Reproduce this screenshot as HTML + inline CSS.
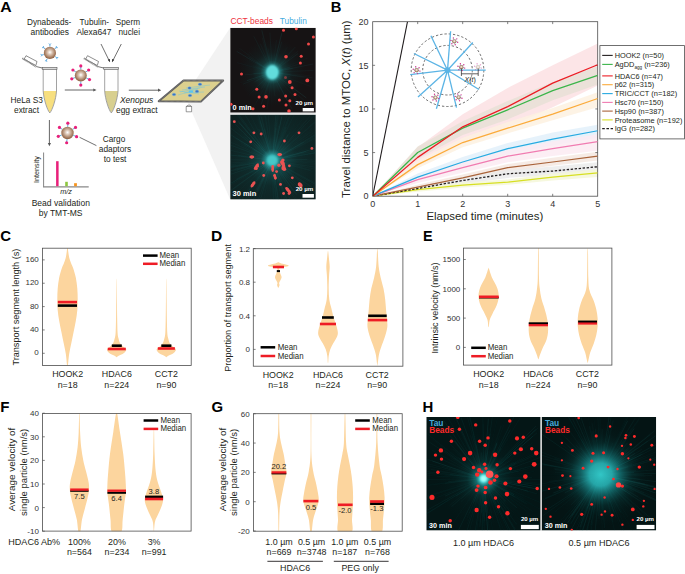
<!DOCTYPE html>
<html><head><meta charset="utf-8"><style>
html,body{margin:0;padding:0;background:#fff;}
svg{display:block;font-family:"Liberation Sans", sans-serif;}
</style></head><body>
<svg width="685" height="574" viewBox="0 0 685 574" fill="#231f20">
<defs>
<radialGradient id="bead" cx="0.5" cy="0.45" r="0.55"><stop offset="0" stop-color="#ffffff"/><stop offset="0.35" stop-color="#d9c2b0"/><stop offset="1" stop-color="#8a5a3a"/></radialGradient>
<radialGradient id="glowA1" cx="0.5" cy="0.5" r="0.5"><stop offset="0" stop-color="#66eeea"/><stop offset="0.12" stop-color="#4fdcdc"/><stop offset="0.2" stop-color="#2a9fa1" stop-opacity="0.75"/><stop offset="0.35" stop-color="#15605f" stop-opacity="0.45"/><stop offset="0.6" stop-color="#103a3a" stop-opacity="0.22"/><stop offset="1" stop-color="#0c2d2d" stop-opacity="0"/></radialGradient>
<radialGradient id="glowA2" cx="0.5" cy="0.5" r="0.5"><stop offset="0" stop-color="#4ad8d8"/><stop offset="0.08" stop-color="#35b8ba" stop-opacity="0.85"/><stop offset="0.18" stop-color="#1a6a6c" stop-opacity="0.5"/><stop offset="0.4" stop-color="#134646" stop-opacity="0.3"/><stop offset="1" stop-color="#0f3434" stop-opacity="0"/></radialGradient>
<radialGradient id="glowH1" cx="0.5" cy="0.5" r="0.5"><stop offset="0" stop-color="#a0fff8"/><stop offset="0.07" stop-color="#50e0e0" stop-opacity="0.95"/><stop offset="0.16" stop-color="#1d8e8e" stop-opacity="0.7"/><stop offset="0.35" stop-color="#0d4545" stop-opacity="0.4"/><stop offset="0.6" stop-color="#082a2a" stop-opacity="0.2"/><stop offset="1" stop-color="#062222" stop-opacity="0"/></radialGradient>
<radialGradient id="glowH2" cx="0.5" cy="0.5" r="0.5"><stop offset="0" stop-color="#32c6c6"/><stop offset="0.22" stop-color="#28b0b2" stop-opacity="0.92"/><stop offset="0.4" stop-color="#167c7e" stop-opacity="0.65"/><stop offset="0.6" stop-color="#0b4848" stop-opacity="0.35"/><stop offset="0.8" stop-color="#072a2a" stop-opacity="0.15"/><stop offset="1" stop-color="#062222" stop-opacity="0"/></radialGradient>
<filter id="soft" x="-50%" y="-50%" width="200%" height="200%"><feGaussianBlur stdDeviation="0.35"/></filter>
<filter id="soft2" x="-50%" y="-50%" width="200%" height="200%"><feGaussianBlur stdDeviation="1.1"/></filter>
<clipPath id="clipA1"><rect x="230.2" y="27.8" width="85.6" height="85"/></clipPath>
<clipPath id="clipA2"><rect x="230.2" y="114.4" width="85.6" height="85.2"/></clipPath>
<clipPath id="clipH1"><rect x="426.3" y="417" width="114.4" height="113.6"/></clipPath>
<clipPath id="clipH2"><rect x="542" y="417" width="114.2" height="113.6"/></clipPath>
<clipPath id="clipC"><rect x="42.4" y="248.2" width="148.8" height="117.3"/></clipPath>
<clipPath id="clipD"><rect x="253.3" y="248.7" width="149.6" height="117.5"/></clipPath>
<clipPath id="clipE"><rect x="463.5" y="248.1" width="148.4" height="117"/></clipPath>
<clipPath id="clipF"><rect x="42.5" y="413.6" width="148.6" height="117.6"/></clipPath>
<clipPath id="clipG"><rect x="253.4" y="413.7" width="148.8" height="117.5"/></clipPath>
<clipPath id="clipB"><rect x="372.7" y="21.7" width="225" height="174.5"/></clipPath>
</defs>
<text x="0.20" y="11.60" font-size="13.8" font-weight="bold" fill="#000" textLength="11.4" lengthAdjust="spacingAndGlyphs">A</text>
<text x="27.00" y="25.10" font-size="8.3" textLength="44.3" lengthAdjust="spacingAndGlyphs">Dynabeads-</text>
<text x="30.50" y="35.00" font-size="8.3" textLength="38.5" lengthAdjust="spacingAndGlyphs">antibodies</text>
<text x="79.60" y="25.00" font-size="8.3" textLength="29.5" lengthAdjust="spacingAndGlyphs">Tubulin-</text>
<text x="76.40" y="34.90" font-size="8.3" textLength="35.1" lengthAdjust="spacingAndGlyphs">Alexa647</text>
<text x="115.80" y="25.00" font-size="8.3" textLength="24.2" lengthAdjust="spacingAndGlyphs">Sperm</text>
<text x="118.50" y="34.90" font-size="8.3" textLength="21.5" lengthAdjust="spacingAndGlyphs">nuclei</text>
<text x="10.50" y="103.00" font-size="8.3" textLength="32.4" lengthAdjust="spacingAndGlyphs">HeLa S3</text>
<text x="14.00" y="113.00" font-size="8.3" textLength="25" lengthAdjust="spacingAndGlyphs">extract</text>
<text x="120.00" y="103.00" font-size="8.3" font-style="italic" textLength="33.3" lengthAdjust="spacingAndGlyphs">Xenopus</text>
<text x="116.00" y="112.80" font-size="8.3" textLength="41.7" lengthAdjust="spacingAndGlyphs">egg extract</text>
<text x="102.80" y="141.80" font-size="8.3" textLength="22.5" lengthAdjust="spacingAndGlyphs">Cargo</text>
<text x="98.80" y="152.00" font-size="8.3" textLength="32.5" lengthAdjust="spacingAndGlyphs">adaptors</text>
<text x="103.70" y="162.20" font-size="8.3" textLength="22.7" lengthAdjust="spacingAndGlyphs">to test</text>
<text x="31.70" y="206.00" font-size="8.3" textLength="58.2" lengthAdjust="spacingAndGlyphs">Bead validation</text>
<text x="38.70" y="216.00" font-size="8.3" textLength="43.8" lengthAdjust="spacingAndGlyphs">by TMT-MS</text>
<text x="60.30" y="194.30" font-size="7.6" font-style="italic" textLength="11.7" lengthAdjust="spacingAndGlyphs">m/z</text>
<text x="39.30" y="183.00" font-size="7.6" transform="rotate(-90 39.30 183.00)" textLength="27.0" lengthAdjust="spacingAndGlyphs">Intensity</text>
<line x1="101.00" y1="44.00" x2="109.60" y2="61.50" stroke="#333" stroke-width="0.7"/>
<line x1="121.30" y1="44.00" x2="112.40" y2="61.50" stroke="#333" stroke-width="0.7"/>
<path d="M107.7,59.8 L109.9,62.3 L110.0,59.0Z" fill="#333"/>
<path d="M114.3,59.8 L112.1,62.3 L112.0,59.0Z" fill="#333"/>
<line x1="64.80" y1="90.00" x2="94.00" y2="90.00" stroke="#555" stroke-width="0.9"/>
<path d="M96.5,90.0 L93.3,88.4 L93.3,91.6Z" fill="#555"/>
<line x1="128.80" y1="90.20" x2="158.70" y2="90.20" stroke="#555" stroke-width="0.9"/>
<path d="M161.2,90.2 L158.0,88.6 L158.0,91.8Z" fill="#555"/>
<line x1="49.40" y1="120.00" x2="49.40" y2="143.50" stroke="#555" stroke-width="0.9"/>
<path d="M49.4,146.3 L47.8,143 L51,143Z" fill="#555"/>
<path d="M43.40,91 L56.30,91 C55.90,99 52.00,110 49.80,112.6 C47.60,110 43.80,99 43.40,91Z" fill="#f7df7f"/>
<path d="M43.20,69 L43.20,91 C43.60,99 47.40,110.5 49.80,112.9 C52.20,110.5 56.10,99 56.50,91 L56.50,69" fill="none" stroke="#8a8a8a" stroke-width="0.8"/>
<rect x="42.20" y="67.4" width="14.8" height="1.9" fill="#d9d9d9" stroke="#555" stroke-width="0.6"/>
<path d="M36.40,66.6 L42.30,68" stroke="#666" stroke-width="0.9" fill="none"/>
<path d="M26.00,55.7 L37.00,61.5 L35.80,65.5 L24.10,59.3Z" fill="#fff" stroke="#444" stroke-width="0.6"/>
<path d="M22.40,58.3 L36.40,66.8" stroke="#777" stroke-width="1.8" stroke-dasharray="0.8 0.5" fill="none"/>
<path d="M104.90,91 L117.80,91 C117.40,99 113.50,110 111.30,112.6 C109.10,110 105.30,99 104.90,91Z" fill="#d8cf8f"/>
<path d="M104.70,69 L104.70,91 C105.10,99 108.90,110.5 111.30,112.9 C113.70,110.5 117.60,99 118.00,91 L118.00,69" fill="none" stroke="#8a8a8a" stroke-width="0.8"/>
<rect x="103.70" y="67.4" width="14.8" height="1.9" fill="#d9d9d9" stroke="#555" stroke-width="0.6"/>
<path d="M97.90,66.6 L103.80,68" stroke="#666" stroke-width="0.9" fill="none"/>
<path d="M87.50,55.7 L98.50,61.5 L97.30,65.5 L85.60,59.3Z" fill="#fff" stroke="#444" stroke-width="0.6"/>
<path d="M83.90,58.3 L97.90,66.8" stroke="#777" stroke-width="1.8" stroke-dasharray="0.8 0.5" fill="none"/>
<line x1="49.90" y1="46.50" x2="49.90" y2="44.80" stroke="#4a9fdc" stroke-width="0.9"/>
<line x1="49.90" y1="44.80" x2="48.85" y2="43.46" stroke="#4a9fdc" stroke-width="0.8"/>
<line x1="49.90" y1="44.80" x2="50.95" y2="43.46" stroke="#4a9fdc" stroke-width="0.8"/>
<line x1="54.80" y1="48.79" x2="56.10" y2="47.69" stroke="#4a9fdc" stroke-width="0.9"/>
<line x1="56.10" y1="47.69" x2="56.46" y2="46.03" stroke="#4a9fdc" stroke-width="0.8"/>
<line x1="56.10" y1="47.69" x2="57.80" y2="47.63" stroke="#4a9fdc" stroke-width="0.8"/>
<line x1="55.14" y1="56.57" x2="56.54" y2="57.55" stroke="#4a9fdc" stroke-width="0.9"/>
<line x1="56.54" y1="57.55" x2="58.23" y2="57.46" stroke="#4a9fdc" stroke-width="0.8"/>
<line x1="56.54" y1="57.55" x2="57.03" y2="59.17" stroke="#4a9fdc" stroke-width="0.8"/>
<line x1="47.20" y1="58.70" x2="46.48" y2="60.24" stroke="#4a9fdc" stroke-width="0.9"/>
<line x1="46.48" y1="60.24" x2="46.86" y2="61.90" stroke="#4a9fdc" stroke-width="0.8"/>
<line x1="46.48" y1="60.24" x2="44.96" y2="61.01" stroke="#4a9fdc" stroke-width="0.8"/>
<line x1="43.72" y1="54.56" x2="42.08" y2="55.00" stroke="#4a9fdc" stroke-width="0.9"/>
<line x1="42.08" y1="55.00" x2="41.05" y2="56.35" stroke="#4a9fdc" stroke-width="0.8"/>
<line x1="42.08" y1="55.00" x2="40.51" y2="54.33" stroke="#4a9fdc" stroke-width="0.8"/>
<line x1="45.00" y1="48.79" x2="43.70" y2="47.69" stroke="#4a9fdc" stroke-width="0.9"/>
<line x1="43.70" y1="47.69" x2="42.00" y2="47.63" stroke="#4a9fdc" stroke-width="0.8"/>
<line x1="43.70" y1="47.69" x2="43.34" y2="46.03" stroke="#4a9fdc" stroke-width="0.8"/>
<circle cx="49.90" cy="52.90" r="6.1" fill="url(#bead)"/>
<line x1="80.80" y1="69.50" x2="80.80" y2="65.90" stroke="#4aa3dc" stroke-width="0.9"/>
<circle cx="80.80" cy="65.90" r="1.6" fill="#e8207a"/>
<line x1="85.71" y1="72.06" x2="88.66" y2="69.99" stroke="#4aa3dc" stroke-width="0.9"/>
<circle cx="88.66" cy="69.99" r="1.6" fill="#e8207a"/>
<line x1="86.24" y1="78.04" x2="89.50" y2="79.56" stroke="#4aa3dc" stroke-width="0.9"/>
<circle cx="89.50" cy="79.56" r="1.6" fill="#e8207a"/>
<line x1="80.80" y1="81.50" x2="80.80" y2="85.10" stroke="#4aa3dc" stroke-width="0.9"/>
<circle cx="80.80" cy="85.10" r="1.6" fill="#e8207a"/>
<line x1="75.16" y1="77.55" x2="71.78" y2="78.78" stroke="#4aa3dc" stroke-width="0.9"/>
<circle cx="71.78" cy="78.78" r="1.6" fill="#e8207a"/>
<line x1="75.89" y1="72.06" x2="72.94" y2="69.99" stroke="#4aa3dc" stroke-width="0.9"/>
<circle cx="72.94" cy="69.99" r="1.6" fill="#e8207a"/>
<circle cx="80.80" cy="75.50" r="6.0" fill="url(#bead)"/>
<line x1="67.72" y1="126.80" x2="67.84" y2="123.21" stroke="#4aa3dc" stroke-width="0.9"/>
<circle cx="67.84" cy="123.21" r="1.6" fill="#e8207a"/>
<line x1="72.58" y1="129.44" x2="75.53" y2="127.38" stroke="#4aa3dc" stroke-width="0.9"/>
<circle cx="75.53" cy="127.38" r="1.6" fill="#e8207a"/>
<line x1="73.25" y1="135.32" x2="76.59" y2="136.67" stroke="#4aa3dc" stroke-width="0.9"/>
<circle cx="76.59" cy="136.67" r="1.6" fill="#e8207a"/>
<line x1="66.96" y1="139.18" x2="66.65" y2="142.76" stroke="#4aa3dc" stroke-width="0.9"/>
<circle cx="66.65" cy="142.76" r="1.6" fill="#e8207a"/>
<line x1="61.67" y1="135.12" x2="58.29" y2="136.35" stroke="#4aa3dc" stroke-width="0.9"/>
<circle cx="58.29" cy="136.35" r="1.6" fill="#e8207a"/>
<line x1="62.42" y1="129.44" x2="59.47" y2="127.38" stroke="#4aa3dc" stroke-width="0.9"/>
<circle cx="59.47" cy="127.38" r="1.6" fill="#e8207a"/>
<circle cx="67.50" cy="133.00" r="6.2" fill="url(#bead)"/>
<line x1="79.60" y1="137.30" x2="96.40" y2="145.60" stroke="#333" stroke-width="0.7"/>
<line x1="43.60" y1="152.50" x2="43.60" y2="187.20" stroke="#666" stroke-width="0.8"/>
<line x1="43.20" y1="186.80" x2="88.70" y2="186.80" stroke="#888" stroke-width="1.3"/>
<rect x="56.1" y="161.2" width="2.5" height="25" fill="#e8207a"/>
<rect x="65.2" y="181.8" width="2.6" height="4.4" fill="#8dc63f"/>
<rect x="74.1" y="183.2" width="2.8" height="3.0" fill="#f7941d"/>
<path d="M196.3,79 L230.2,27.8 L230.2,199.6 L187.2,101.2Z" fill="#f2f2f2"/>
<path d="M183.5,80.5 L223.2,80.5 L200.9,101.6 L158.7,101.3Z" fill="#dcd08e" stroke="#5a5a5a" stroke-width="1.9" stroke-linejoin="round"/>
<path d="M183.5,80.5 L223.2,80.5 L200.9,101.6 L158.7,101.3Z" fill="none" stroke="#bbbbbb" stroke-width="0.5" stroke-dasharray="0.6 0.6" stroke-linejoin="round"/>
<line x1="180" y1="92" x2="200" y2="88" stroke="#5ec5ee" stroke-width="0.4"/>
<line x1="182" y1="90" x2="205" y2="87" stroke="#5ec5ee" stroke-width="0.4"/>
<line x1="184" y1="93" x2="204" y2="92" stroke="#5ec5ee" stroke-width="0.4"/>
<line x1="178" y1="95" x2="198" y2="89" stroke="#5ec5ee" stroke-width="0.4"/>
<line x1="186" y1="88" x2="210" y2="85" stroke="#5ec5ee" stroke-width="0.4"/>
<line x1="179" y1="91" x2="199" y2="94" stroke="#5ec5ee" stroke-width="0.4"/>
<ellipse cx="189.5" cy="88" rx="1.7" ry="1.3" fill="#3a74c4" stroke="#7ab6e6" stroke-width="0.4"/>
<ellipse cx="200" cy="84.3" rx="1.7" ry="1.3" fill="#3a74c4" stroke="#7ab6e6" stroke-width="0.4"/>
<ellipse cx="197" cy="91.4" rx="1.7" ry="1.3" fill="#3a74c4" stroke="#7ab6e6" stroke-width="0.4"/>
<ellipse cx="174" cy="94.5" rx="1.7" ry="1.3" fill="#3a74c4" stroke="#7ab6e6" stroke-width="0.4"/>
<ellipse cx="190" cy="95.5" rx="1.7" ry="1.3" fill="#3a74c4" stroke="#7ab6e6" stroke-width="0.4"/>
<ellipse cx="191" cy="91.5" rx="2.4" ry="1.2" fill="#5ec5ee"/>
<path d="M186.2,106.5 L186.2,111.8 L191.6,111.8 L191.6,106.5 Z M186.2,106.5 L188,105.2 L190,105.2 L191.6,106.5" fill="#fff" stroke="#555" stroke-width="0.6"/>
<text x="230.50" y="23.90" font-size="8.3" fill="#ee3340" textLength="42.4" lengthAdjust="spacingAndGlyphs">CCT-beads</text>
<text x="279.80" y="23.90" font-size="8.3" fill="#46ace0" textLength="27.0" lengthAdjust="spacingAndGlyphs">Tubulin</text>
<g clip-path="url(#clipA1)">
<rect x="230.2" y="27.8" width="85.6" height="85" fill="#161314"/>
<line x1="277.8" y1="78.5" x2="299.5" y2="102.9" stroke="#1f7273" stroke-opacity="0.12" stroke-width="0.60"/>
<line x1="264.2" y1="75.0" x2="238.5" y2="83.4" stroke="#1f7273" stroke-opacity="0.09" stroke-width="0.41"/>
<line x1="276.6" y1="65.1" x2="287.5" y2="46.8" stroke="#1f7273" stroke-opacity="0.08" stroke-width="0.58"/>
<line x1="270.6" y1="62.8" x2="268.0" y2="48.5" stroke="#1f7273" stroke-opacity="0.23" stroke-width="0.41"/>
<line x1="281.8" y1="73.8" x2="304.5" y2="77.5" stroke="#1f7273" stroke-opacity="0.14" stroke-width="0.49"/>
<line x1="268.3" y1="74.4" x2="255.7" y2="81.1" stroke="#1f7273" stroke-opacity="0.15" stroke-width="0.60"/>
<line x1="272.8" y1="76.8" x2="274.9" y2="96.4" stroke="#1f7273" stroke-opacity="0.16" stroke-width="0.52"/>
<line x1="279.1" y1="73.2" x2="312.5" y2="77.8" stroke="#1f7273" stroke-opacity="0.19" stroke-width="0.47"/>
<line x1="276.1" y1="72.1" x2="313.5" y2="70.4" stroke="#1f7273" stroke-opacity="0.13" stroke-width="0.69"/>
<line x1="270.9" y1="66.5" x2="261.8" y2="30.3" stroke="#1f7273" stroke-opacity="0.22" stroke-width="0.67"/>
<line x1="269.3" y1="81.0" x2="261.2" y2="104.3" stroke="#1f7273" stroke-opacity="0.22" stroke-width="0.60"/>
<line x1="268.3" y1="69.8" x2="256.3" y2="62.3" stroke="#1f7273" stroke-opacity="0.21" stroke-width="0.57"/>
<line x1="276.0" y1="79.3" x2="287.6" y2="101.4" stroke="#1f7273" stroke-opacity="0.19" stroke-width="0.55"/>
<line x1="264.5" y1="75.5" x2="242.9" y2="84.2" stroke="#1f7273" stroke-opacity="0.17" stroke-width="0.56"/>
<line x1="269.0" y1="72.5" x2="253.5" y2="73.5" stroke="#1f7273" stroke-opacity="0.20" stroke-width="0.79"/>
<line x1="268.8" y1="70.0" x2="248.4" y2="56.5" stroke="#1f7273" stroke-opacity="0.16" stroke-width="0.79"/>
<line x1="273.5" y1="63.4" x2="276.5" y2="40.0" stroke="#1f7273" stroke-opacity="0.12" stroke-width="0.61"/>
<line x1="278.2" y1="70.5" x2="304.4" y2="62.4" stroke="#1f7273" stroke-opacity="0.12" stroke-width="0.62"/>
<line x1="280.5" y1="70.0" x2="289.8" y2="67.5" stroke="#1f7273" stroke-opacity="0.22" stroke-width="0.75"/>
<line x1="271.9" y1="65.7" x2="269.9" y2="32.5" stroke="#1f7273" stroke-opacity="0.17" stroke-width="0.57"/>
<line x1="278.9" y1="74.7" x2="311.2" y2="86.6" stroke="#1f7273" stroke-opacity="0.11" stroke-width="0.60"/>
<line x1="266.9" y1="72.8" x2="244.8" y2="74.9" stroke="#1f7273" stroke-opacity="0.17" stroke-width="0.65"/>
<line x1="269.9" y1="70.2" x2="249.2" y2="52.6" stroke="#1f7273" stroke-opacity="0.12" stroke-width="0.47"/>
<line x1="264.9" y1="68.0" x2="236.7" y2="51.4" stroke="#1f7273" stroke-opacity="0.21" stroke-width="0.73"/>
<line x1="272.0" y1="80.0" x2="270.9" y2="113.0" stroke="#1f7273" stroke-opacity="0.09" stroke-width="0.41"/>
<line x1="277.0" y1="72.7" x2="310.5" y2="75.8" stroke="#1f7273" stroke-opacity="0.09" stroke-width="0.65"/>
<line x1="270.0" y1="75.7" x2="261.2" y2="88.8" stroke="#1f7273" stroke-opacity="0.17" stroke-width="0.47"/>
<line x1="271.4" y1="78.4" x2="267.0" y2="109.1" stroke="#1f7273" stroke-opacity="0.13" stroke-width="0.59"/>
<line x1="278.2" y1="73.2" x2="300.4" y2="76.5" stroke="#1f7273" stroke-opacity="0.11" stroke-width="0.44"/>
<line x1="275.9" y1="69.7" x2="298.0" y2="53.6" stroke="#1f7273" stroke-opacity="0.18" stroke-width="0.73"/>
<line x1="276.3" y1="72.8" x2="290.6" y2="74.7" stroke="#1f7273" stroke-opacity="0.20" stroke-width="0.46"/>
<line x1="270.4" y1="65.8" x2="262.1" y2="37.5" stroke="#1f7273" stroke-opacity="0.11" stroke-width="0.79"/>
<line x1="273.7" y1="67.9" x2="281.8" y2="41.8" stroke="#1f7273" stroke-opacity="0.19" stroke-width="0.56"/>
<line x1="265.7" y1="68.9" x2="248.6" y2="60.1" stroke="#1f7273" stroke-opacity="0.09" stroke-width="0.52"/>
<line x1="277.3" y1="71.3" x2="313.1" y2="64.0" stroke="#1f7273" stroke-opacity="0.23" stroke-width="0.52"/>
<line x1="277.8" y1="70.1" x2="307.6" y2="58.1" stroke="#1f7273" stroke-opacity="0.12" stroke-width="0.40"/>
<line x1="278.6" y1="66.3" x2="286.1" y2="59.2" stroke="#1f7273" stroke-opacity="0.24" stroke-width="0.63"/>
<line x1="276.9" y1="80.9" x2="291.9" y2="108.8" stroke="#1f7273" stroke-opacity="0.20" stroke-width="0.60"/>
<line x1="269.1" y1="75.4" x2="252.6" y2="91.3" stroke="#1f7273" stroke-opacity="0.19" stroke-width="0.57"/>
<line x1="274.9" y1="79.5" x2="279.5" y2="91.8" stroke="#1f7273" stroke-opacity="0.13" stroke-width="0.60"/>
<line x1="268.1" y1="80.6" x2="253.4" y2="109.3" stroke="#1f7273" stroke-opacity="0.08" stroke-width="0.48"/>
<line x1="268.3" y1="79.8" x2="251.3" y2="111.7" stroke="#1f7273" stroke-opacity="0.13" stroke-width="0.49"/>
<line x1="267.9" y1="63.8" x2="253.7" y2="36.2" stroke="#1f7273" stroke-opacity="0.14" stroke-width="0.75"/>
<line x1="268.5" y1="63.2" x2="260.3" y2="43.6" stroke="#1f7273" stroke-opacity="0.12" stroke-width="0.69"/>
<line x1="280.4" y1="77.1" x2="291.8" y2="83.8" stroke="#1f7273" stroke-opacity="0.11" stroke-width="0.70"/>
<line x1="267.8" y1="69.0" x2="239.4" y2="48.3" stroke="#1f7273" stroke-opacity="0.13" stroke-width="0.52"/>
<line x1="278.8" y1="65.1" x2="295.4" y2="46.9" stroke="#1f7273" stroke-opacity="0.23" stroke-width="0.45"/>
<line x1="269.2" y1="71.3" x2="252.6" y2="65.7" stroke="#1f7273" stroke-opacity="0.09" stroke-width="0.75"/>
<line x1="273.6" y1="67.1" x2="281.9" y2="33.1" stroke="#1f7273" stroke-opacity="0.18" stroke-width="0.71"/>
<line x1="269.0" y1="75.5" x2="248.2" y2="95.5" stroke="#1f7273" stroke-opacity="0.09" stroke-width="0.51"/>
<line x1="279.6" y1="66.3" x2="298.0" y2="51.2" stroke="#1f7273" stroke-opacity="0.16" stroke-width="0.51"/>
<line x1="273.0" y1="69.3" x2="281.6" y2="33.0" stroke="#1f7273" stroke-opacity="0.19" stroke-width="0.44"/>
<line x1="274.8" y1="74.5" x2="303.7" y2="100.0" stroke="#1f7273" stroke-opacity="0.12" stroke-width="0.80"/>
<line x1="268.6" y1="74.3" x2="253.7" y2="82.4" stroke="#1f7273" stroke-opacity="0.12" stroke-width="0.70"/>
<line x1="276.8" y1="75.7" x2="306.3" y2="97.9" stroke="#1f7273" stroke-opacity="0.24" stroke-width="0.76"/>
<line x1="270.6" y1="78.4" x2="265.5" y2="96.2" stroke="#1f7273" stroke-opacity="0.09" stroke-width="0.66"/>
<line x1="281.9" y1="74.7" x2="290.0" y2="76.8" stroke="#1f7273" stroke-opacity="0.13" stroke-width="0.64"/>
<line x1="269.0" y1="73.4" x2="247.1" y2="80.5" stroke="#1f7273" stroke-opacity="0.23" stroke-width="0.79"/>
<line x1="276.7" y1="71.4" x2="292.9" y2="68.3" stroke="#1f7273" stroke-opacity="0.18" stroke-width="0.79"/>
<line x1="264.9" y1="70.3" x2="237.0" y2="62.6" stroke="#1f7273" stroke-opacity="0.12" stroke-width="0.62"/>
<circle cx="272.3" cy="72.3" r="34" fill="url(#glowA1)"/>
<ellipse cx="272.3" cy="72.3" rx="6.0" ry="7.2" fill="#62dcdc" filter="url(#soft2)"/>
<g filter="url(#soft)">
<circle cx="283.5" cy="30.3" r="1.50" fill="#f04848"/>
<circle cx="296.3" cy="28.8" r="1.50" fill="#f04848"/>
<circle cx="313.4" cy="37.0" r="1.50" fill="#f04848"/>
<circle cx="308.5" cy="44.1" r="1.50" fill="#f04848"/>
<circle cx="286.0" cy="56.7" r="1.80" fill="#f04848"/>
<circle cx="301.2" cy="56.2" r="1.50" fill="#f04848"/>
<circle cx="300.4" cy="63.1" r="1.50" fill="#f04848"/>
<circle cx="241.5" cy="73.9" r="1.50" fill="#f04848"/>
<circle cx="285.5" cy="77.4" r="1.50" fill="#7a3a3a"/>
<circle cx="289.8" cy="82.0" r="1.90" fill="#f04848"/>
<circle cx="307.3" cy="80.4" r="1.90" fill="#f04848"/>
<circle cx="292.1" cy="87.7" r="1.50" fill="#f04848"/>
<circle cx="256.8" cy="89.3" r="1.50" fill="#f04848"/>
<circle cx="295.0" cy="94.6" r="1.50" fill="#f04848"/>
<circle cx="266.0" cy="96.9" r="1.80" fill="#f04848"/>
<circle cx="259.1" cy="97.0" r="1.50" fill="#f04848"/>
<circle cx="285.7" cy="96.0" r="1.50" fill="#f04848"/>
<circle cx="279.4" cy="99.9" r="1.50" fill="#f04848"/>
<circle cx="289.8" cy="100.7" r="1.50" fill="#f04848"/>
<circle cx="263.6" cy="106.2" r="1.50" fill="#f04848"/>
<circle cx="286.0" cy="105.0" r="1.50" fill="#f04848"/>
<circle cx="253.0" cy="108.8" r="1.50" fill="#f04848"/>
<circle cx="289.0" cy="111.1" r="1.80" fill="#f04848"/>
<circle cx="231.0" cy="104.2" r="1.50" fill="#f04848"/>
</g>
</g>
<g clip-path="url(#clipA2)">
<rect x="230.2" y="114.4" width="85.6" height="85.2" fill="#0e1f1f"/>
<line x1="275.5" y1="159.5" x2="337.5" y2="141.9" stroke="#2a8a8a" stroke-opacity="0.06" stroke-width="0.73"/>
<line x1="271.7" y1="155.3" x2="267.2" y2="103.8" stroke="#2a8a8a" stroke-opacity="0.12" stroke-width="0.64"/>
<line x1="267.0" y1="157.5" x2="240.5" y2="142.7" stroke="#2a8a8a" stroke-opacity="0.09" stroke-width="0.69"/>
<line x1="279.0" y1="160.2" x2="340.1" y2="158.2" stroke="#2a8a8a" stroke-opacity="0.10" stroke-width="0.51"/>
<line x1="278.3" y1="161.8" x2="302.5" y2="167.4" stroke="#2a8a8a" stroke-opacity="0.08" stroke-width="0.55"/>
<line x1="277.6" y1="156.0" x2="311.9" y2="128.3" stroke="#2a8a8a" stroke-opacity="0.07" stroke-width="0.41"/>
<line x1="269.2" y1="166.3" x2="256.1" y2="192.0" stroke="#2a8a8a" stroke-opacity="0.16" stroke-width="0.67"/>
<line x1="275.8" y1="168.2" x2="299.5" y2="220.2" stroke="#2a8a8a" stroke-opacity="0.13" stroke-width="0.76"/>
<line x1="272.6" y1="154.9" x2="277.2" y2="99.0" stroke="#2a8a8a" stroke-opacity="0.16" stroke-width="0.78"/>
<line x1="276.4" y1="167.2" x2="304.1" y2="211.4" stroke="#2a8a8a" stroke-opacity="0.10" stroke-width="0.61"/>
<line x1="265.7" y1="160.8" x2="205.3" y2="164.6" stroke="#2a8a8a" stroke-opacity="0.14" stroke-width="0.54"/>
<line x1="276.8" y1="156.2" x2="321.1" y2="116.1" stroke="#2a8a8a" stroke-opacity="0.11" stroke-width="0.77"/>
<line x1="271.5" y1="155.9" x2="264.1" y2="111.6" stroke="#2a8a8a" stroke-opacity="0.08" stroke-width="0.68"/>
<line x1="274.7" y1="164.6" x2="305.6" y2="217.7" stroke="#2a8a8a" stroke-opacity="0.15" stroke-width="0.52"/>
<line x1="278.5" y1="158.7" x2="328.4" y2="145.0" stroke="#2a8a8a" stroke-opacity="0.11" stroke-width="0.66"/>
<line x1="268.4" y1="158.1" x2="236.0" y2="138.1" stroke="#2a8a8a" stroke-opacity="0.11" stroke-width="0.77"/>
<line x1="266.0" y1="154.3" x2="248.6" y2="137.3" stroke="#2a8a8a" stroke-opacity="0.13" stroke-width="0.76"/>
<line x1="273.4" y1="163.6" x2="293.7" y2="216.2" stroke="#2a8a8a" stroke-opacity="0.12" stroke-width="0.51"/>
<line x1="272.7" y1="164.1" x2="281.7" y2="224.7" stroke="#2a8a8a" stroke-opacity="0.11" stroke-width="0.74"/>
<line x1="272.5" y1="169.6" x2="273.4" y2="198.8" stroke="#2a8a8a" stroke-opacity="0.10" stroke-width="0.69"/>
<line x1="276.3" y1="161.2" x2="315.8" y2="169.3" stroke="#2a8a8a" stroke-opacity="0.12" stroke-width="0.43"/>
<line x1="280.0" y1="158.1" x2="302.0" y2="151.7" stroke="#2a8a8a" stroke-opacity="0.05" stroke-width="0.50"/>
<line x1="273.9" y1="156.4" x2="286.3" y2="127.0" stroke="#2a8a8a" stroke-opacity="0.13" stroke-width="0.55"/>
<line x1="276.1" y1="161.5" x2="339.3" y2="179.0" stroke="#2a8a8a" stroke-opacity="0.05" stroke-width="0.54"/>
<line x1="269.4" y1="157.9" x2="227.5" y2="120.9" stroke="#2a8a8a" stroke-opacity="0.09" stroke-width="0.41"/>
<line x1="264.4" y1="163.0" x2="214.7" y2="179.6" stroke="#2a8a8a" stroke-opacity="0.15" stroke-width="0.70"/>
<line x1="276.3" y1="155.6" x2="310.0" y2="116.1" stroke="#2a8a8a" stroke-opacity="0.07" stroke-width="0.66"/>
<line x1="269.7" y1="166.0" x2="258.4" y2="191.6" stroke="#2a8a8a" stroke-opacity="0.15" stroke-width="0.45"/>
<line x1="266.5" y1="157.0" x2="232.8" y2="137.1" stroke="#2a8a8a" stroke-opacity="0.06" stroke-width="0.78"/>
<line x1="271.9" y1="166.3" x2="269.1" y2="214.6" stroke="#2a8a8a" stroke-opacity="0.05" stroke-width="0.62"/>
<line x1="274.3" y1="162.9" x2="292.7" y2="185.3" stroke="#2a8a8a" stroke-opacity="0.07" stroke-width="0.44"/>
<line x1="265.7" y1="153.0" x2="238.9" y2="122.6" stroke="#2a8a8a" stroke-opacity="0.15" stroke-width="0.80"/>
<line x1="272.7" y1="165.1" x2="277.5" y2="207.9" stroke="#2a8a8a" stroke-opacity="0.11" stroke-width="0.65"/>
<line x1="273.7" y1="155.8" x2="290.3" y2="104.9" stroke="#2a8a8a" stroke-opacity="0.10" stroke-width="0.61"/>
<line x1="278.1" y1="160.6" x2="303.6" y2="161.4" stroke="#2a8a8a" stroke-opacity="0.06" stroke-width="0.69"/>
<line x1="272.4" y1="164.7" x2="274.1" y2="194.3" stroke="#2a8a8a" stroke-opacity="0.07" stroke-width="0.49"/>
<line x1="267.1" y1="159.7" x2="224.0" y2="154.1" stroke="#2a8a8a" stroke-opacity="0.12" stroke-width="0.48"/>
<line x1="278.9" y1="155.9" x2="329.3" y2="122.4" stroke="#2a8a8a" stroke-opacity="0.10" stroke-width="0.60"/>
<line x1="267.0" y1="157.5" x2="244.2" y2="144.8" stroke="#2a8a8a" stroke-opacity="0.11" stroke-width="0.47"/>
<line x1="276.8" y1="163.5" x2="323.8" y2="194.9" stroke="#2a8a8a" stroke-opacity="0.11" stroke-width="0.77"/>
<line x1="264.6" y1="154.1" x2="240.2" y2="133.8" stroke="#2a8a8a" stroke-opacity="0.09" stroke-width="0.41"/>
<line x1="270.2" y1="155.7" x2="258.7" y2="129.1" stroke="#2a8a8a" stroke-opacity="0.14" stroke-width="0.67"/>
<line x1="278.0" y1="161.0" x2="320.0" y2="165.1" stroke="#2a8a8a" stroke-opacity="0.10" stroke-width="0.48"/>
<line x1="268.0" y1="157.8" x2="244.2" y2="143.0" stroke="#2a8a8a" stroke-opacity="0.09" stroke-width="0.77"/>
<line x1="276.1" y1="162.4" x2="325.6" y2="188.3" stroke="#2a8a8a" stroke-opacity="0.11" stroke-width="0.56"/>
<line x1="266.6" y1="161.7" x2="213.7" y2="174.2" stroke="#2a8a8a" stroke-opacity="0.06" stroke-width="0.45"/>
<line x1="278.7" y1="164.0" x2="328.2" y2="191.4" stroke="#2a8a8a" stroke-opacity="0.16" stroke-width="0.68"/>
<line x1="280.5" y1="161.7" x2="327.9" y2="169.1" stroke="#2a8a8a" stroke-opacity="0.13" stroke-width="0.60"/>
<line x1="266.8" y1="167.1" x2="242.0" y2="198.1" stroke="#2a8a8a" stroke-opacity="0.08" stroke-width="0.61"/>
<line x1="263.7" y1="161.6" x2="204.7" y2="170.0" stroke="#2a8a8a" stroke-opacity="0.15" stroke-width="0.73"/>
<line x1="270.3" y1="166.5" x2="260.8" y2="198.0" stroke="#2a8a8a" stroke-opacity="0.08" stroke-width="0.57"/>
<line x1="269.1" y1="154.0" x2="243.5" y2="100.2" stroke="#2a8a8a" stroke-opacity="0.14" stroke-width="0.44"/>
<line x1="269.7" y1="163.6" x2="229.0" y2="215.4" stroke="#2a8a8a" stroke-opacity="0.09" stroke-width="0.43"/>
<line x1="280.7" y1="165.5" x2="328.6" y2="194.3" stroke="#2a8a8a" stroke-opacity="0.12" stroke-width="0.45"/>
<line x1="270.0" y1="167.8" x2="260.9" y2="198.0" stroke="#2a8a8a" stroke-opacity="0.12" stroke-width="0.58"/>
<line x1="265.5" y1="159.4" x2="238.1" y2="155.2" stroke="#2a8a8a" stroke-opacity="0.15" stroke-width="0.70"/>
<line x1="278.8" y1="164.9" x2="313.9" y2="189.2" stroke="#2a8a8a" stroke-opacity="0.08" stroke-width="0.76"/>
<line x1="266.5" y1="161.8" x2="215.8" y2="174.5" stroke="#2a8a8a" stroke-opacity="0.16" stroke-width="0.71"/>
<line x1="266.7" y1="157.7" x2="240.2" y2="144.5" stroke="#2a8a8a" stroke-opacity="0.05" stroke-width="0.64"/>
<line x1="277.0" y1="156.0" x2="299.6" y2="135.2" stroke="#2a8a8a" stroke-opacity="0.10" stroke-width="0.56"/>
<line x1="270.2" y1="152.7" x2="255.6" y2="95.0" stroke="#2a8a8a" stroke-opacity="0.10" stroke-width="0.78"/>
<line x1="268.5" y1="167.1" x2="243.1" y2="212.7" stroke="#2a8a8a" stroke-opacity="0.13" stroke-width="0.74"/>
<line x1="273.1" y1="166.1" x2="280.8" y2="214.6" stroke="#2a8a8a" stroke-opacity="0.12" stroke-width="0.79"/>
<line x1="268.1" y1="155.7" x2="252.0" y2="137.6" stroke="#2a8a8a" stroke-opacity="0.13" stroke-width="0.75"/>
<line x1="270.4" y1="157.9" x2="235.4" y2="109.7" stroke="#2a8a8a" stroke-opacity="0.15" stroke-width="0.69"/>
<line x1="265.0" y1="154.7" x2="220.3" y2="119.3" stroke="#2a8a8a" stroke-opacity="0.06" stroke-width="0.73"/>
<line x1="273.1" y1="152.2" x2="276.2" y2="122.6" stroke="#2a8a8a" stroke-opacity="0.11" stroke-width="0.48"/>
<line x1="274.6" y1="153.5" x2="284.1" y2="126.9" stroke="#2a8a8a" stroke-opacity="0.10" stroke-width="0.50"/>
<line x1="268.1" y1="158.6" x2="227.7" y2="140.8" stroke="#2a8a8a" stroke-opacity="0.16" stroke-width="0.43"/>
<line x1="281.1" y1="160.6" x2="321.6" y2="161.3" stroke="#2a8a8a" stroke-opacity="0.12" stroke-width="0.70"/>
<line x1="266.9" y1="160.9" x2="215.5" y2="165.8" stroke="#2a8a8a" stroke-opacity="0.08" stroke-width="0.60"/>
<line x1="280.4" y1="161.8" x2="304.9" y2="166.1" stroke="#2a8a8a" stroke-opacity="0.07" stroke-width="0.70"/>
<line x1="273.9" y1="152.9" x2="282.1" y2="115.3" stroke="#2a8a8a" stroke-opacity="0.14" stroke-width="0.75"/>
<line x1="276.0" y1="164.7" x2="296.4" y2="187.8" stroke="#2a8a8a" stroke-opacity="0.10" stroke-width="0.52"/>
<line x1="281.9" y1="161.0" x2="324.4" y2="163.8" stroke="#2a8a8a" stroke-opacity="0.09" stroke-width="0.62"/>
<line x1="265.5" y1="166.5" x2="236.9" y2="192.5" stroke="#2a8a8a" stroke-opacity="0.08" stroke-width="0.66"/>
<line x1="262.8" y1="161.4" x2="220.9" y2="165.6" stroke="#2a8a8a" stroke-opacity="0.06" stroke-width="0.73"/>
<line x1="269.3" y1="168.5" x2="253.6" y2="213.0" stroke="#2a8a8a" stroke-opacity="0.12" stroke-width="0.56"/>
<line x1="276.2" y1="154.1" x2="290.4" y2="132.0" stroke="#2a8a8a" stroke-opacity="0.09" stroke-width="0.61"/>
<line x1="276.6" y1="154.4" x2="308.9" y2="110.5" stroke="#2a8a8a" stroke-opacity="0.08" stroke-width="0.49"/>
<line x1="267.4" y1="161.7" x2="234.3" y2="170.8" stroke="#2a8a8a" stroke-opacity="0.16" stroke-width="0.44"/>
<line x1="274.5" y1="155.4" x2="291.1" y2="119.4" stroke="#2a8a8a" stroke-opacity="0.08" stroke-width="0.43"/>
<line x1="266.3" y1="162.0" x2="236.8" y2="170.1" stroke="#2a8a8a" stroke-opacity="0.08" stroke-width="0.76"/>
<line x1="278.8" y1="156.9" x2="314.2" y2="137.9" stroke="#2a8a8a" stroke-opacity="0.15" stroke-width="0.53"/>
<line x1="275.7" y1="162.9" x2="304.2" y2="183.5" stroke="#2a8a8a" stroke-opacity="0.12" stroke-width="0.55"/>
<line x1="269.3" y1="164.0" x2="234.0" y2="209.0" stroke="#2a8a8a" stroke-opacity="0.14" stroke-width="0.65"/>
<line x1="267.8" y1="163.6" x2="221.2" y2="197.3" stroke="#2a8a8a" stroke-opacity="0.15" stroke-width="0.77"/>
<line x1="262.6" y1="160.2" x2="214.6" y2="159.5" stroke="#2a8a8a" stroke-opacity="0.13" stroke-width="0.70"/>
<line x1="277.8" y1="154.3" x2="318.1" y2="111.1" stroke="#2a8a8a" stroke-opacity="0.16" stroke-width="0.52"/>
<line x1="268.2" y1="156.5" x2="231.4" y2="120.9" stroke="#2a8a8a" stroke-opacity="0.09" stroke-width="0.47"/>
<line x1="278.3" y1="158.7" x2="314.8" y2="148.8" stroke="#2a8a8a" stroke-opacity="0.15" stroke-width="0.47"/>
<line x1="275.3" y1="159.6" x2="306.2" y2="151.8" stroke="#2a8a8a" stroke-opacity="0.09" stroke-width="0.54"/>
<line x1="279.4" y1="156.3" x2="329.0" y2="128.1" stroke="#2a8a8a" stroke-opacity="0.10" stroke-width="0.62"/>
<line x1="272.7" y1="166.1" x2="277.5" y2="223.5" stroke="#2a8a8a" stroke-opacity="0.08" stroke-width="0.66"/>
<line x1="277.7" y1="168.1" x2="297.1" y2="195.0" stroke="#2a8a8a" stroke-opacity="0.06" stroke-width="0.46"/>
<line x1="273.9" y1="166.1" x2="283.5" y2="198.8" stroke="#2a8a8a" stroke-opacity="0.08" stroke-width="0.54"/>
<line x1="272.4" y1="167.7" x2="273.1" y2="200.0" stroke="#2a8a8a" stroke-opacity="0.09" stroke-width="0.55"/>
<line x1="272.6" y1="156.4" x2="275.8" y2="128.1" stroke="#2a8a8a" stroke-opacity="0.14" stroke-width="0.57"/>
<line x1="273.4" y1="153.8" x2="278.6" y2="125.7" stroke="#2a8a8a" stroke-opacity="0.14" stroke-width="0.54"/>
<line x1="272.9" y1="154.7" x2="278.4" y2="106.3" stroke="#2a8a8a" stroke-opacity="0.16" stroke-width="0.56"/>
<line x1="267.1" y1="161.3" x2="218.2" y2="169.4" stroke="#2a8a8a" stroke-opacity="0.14" stroke-width="0.64"/>
<line x1="263.8" y1="155.2" x2="228.3" y2="133.3" stroke="#2a8a8a" stroke-opacity="0.16" stroke-width="0.74"/>
<line x1="265.8" y1="162.3" x2="227.6" y2="173.5" stroke="#2a8a8a" stroke-opacity="0.05" stroke-width="0.44"/>
<line x1="281.8" y1="160.1" x2="307.3" y2="159.4" stroke="#2a8a8a" stroke-opacity="0.12" stroke-width="0.77"/>
<line x1="279.8" y1="164.4" x2="309.5" y2="180.1" stroke="#2a8a8a" stroke-opacity="0.05" stroke-width="0.44"/>
<line x1="269.8" y1="163.6" x2="250.4" y2="190.2" stroke="#2a8a8a" stroke-opacity="0.12" stroke-width="0.44"/>
<line x1="275.5" y1="159.8" x2="327.3" y2="150.4" stroke="#2a8a8a" stroke-opacity="0.15" stroke-width="0.50"/>
<line x1="268.3" y1="160.9" x2="220.2" y2="166.5" stroke="#2a8a8a" stroke-opacity="0.10" stroke-width="0.42"/>
<line x1="274.9" y1="168.7" x2="293.0" y2="223.8" stroke="#2a8a8a" stroke-opacity="0.11" stroke-width="0.67"/>
<line x1="276.8" y1="155.9" x2="297.5" y2="135.3" stroke="#2a8a8a" stroke-opacity="0.06" stroke-width="0.45"/>
<line x1="274.8" y1="162.5" x2="302.1" y2="184.6" stroke="#2a8a8a" stroke-opacity="0.07" stroke-width="0.55"/>
<line x1="265.5" y1="153.9" x2="226.0" y2="115.6" stroke="#2a8a8a" stroke-opacity="0.13" stroke-width="0.60"/>
<line x1="275.4" y1="158.5" x2="303.9" y2="142.2" stroke="#2a8a8a" stroke-opacity="0.14" stroke-width="0.65"/>
<line x1="273.5" y1="165.3" x2="283.3" y2="204.1" stroke="#2a8a8a" stroke-opacity="0.10" stroke-width="0.57"/>
<line x1="265.2" y1="165.6" x2="222.5" y2="197.4" stroke="#2a8a8a" stroke-opacity="0.11" stroke-width="0.59"/>
<line x1="270.1" y1="170.1" x2="259.2" y2="219.6" stroke="#2a8a8a" stroke-opacity="0.07" stroke-width="0.68"/>
<line x1="271.2" y1="157.3" x2="254.5" y2="106.9" stroke="#2a8a8a" stroke-opacity="0.11" stroke-width="0.48"/>
<line x1="274.8" y1="167.5" x2="290.4" y2="210.4" stroke="#2a8a8a" stroke-opacity="0.12" stroke-width="0.70"/>
<line x1="271.2" y1="157.2" x2="257.8" y2="113.5" stroke="#2a8a8a" stroke-opacity="0.13" stroke-width="0.73"/>
<line x1="273.9" y1="157.6" x2="299.8" y2="114.1" stroke="#2a8a8a" stroke-opacity="0.07" stroke-width="0.44"/>
<line x1="269.4" y1="157.2" x2="238.2" y2="121.4" stroke="#2a8a8a" stroke-opacity="0.16" stroke-width="0.79"/>
<line x1="276.3" y1="157.4" x2="311.4" y2="131.7" stroke="#2a8a8a" stroke-opacity="0.07" stroke-width="0.73"/>
<line x1="269.4" y1="151.5" x2="259.7" y2="121.2" stroke="#2a8a8a" stroke-opacity="0.11" stroke-width="0.57"/>
<line x1="266.9" y1="163.5" x2="221.5" y2="190.2" stroke="#2a8a8a" stroke-opacity="0.12" stroke-width="0.45"/>
<line x1="269.4" y1="151.4" x2="260.1" y2="121.3" stroke="#2a8a8a" stroke-opacity="0.07" stroke-width="0.53"/>
<line x1="265.7" y1="158.8" x2="227.8" y2="149.6" stroke="#2a8a8a" stroke-opacity="0.15" stroke-width="0.48"/>
<line x1="273.4" y1="152.0" x2="280.2" y2="103.2" stroke="#2a8a8a" stroke-opacity="0.10" stroke-width="0.58"/>
<line x1="269.5" y1="164.3" x2="244.5" y2="200.7" stroke="#2a8a8a" stroke-opacity="0.07" stroke-width="0.59"/>
<line x1="274.7" y1="167.0" x2="289.5" y2="206.0" stroke="#2a8a8a" stroke-opacity="0.08" stroke-width="0.47"/>
<line x1="268.6" y1="157.6" x2="221.3" y2="120.9" stroke="#2a8a8a" stroke-opacity="0.12" stroke-width="0.66"/>
<line x1="276.1" y1="157.0" x2="315.1" y2="122.5" stroke="#2a8a8a" stroke-opacity="0.07" stroke-width="0.73"/>
<line x1="269.4" y1="169.1" x2="262.9" y2="189.5" stroke="#2a8a8a" stroke-opacity="0.07" stroke-width="0.53"/>
<line x1="268.8" y1="167.7" x2="255.3" y2="196.9" stroke="#2a8a8a" stroke-opacity="0.09" stroke-width="0.58"/>
<line x1="269.5" y1="161.9" x2="216.8" y2="191.1" stroke="#2a8a8a" stroke-opacity="0.11" stroke-width="0.45"/>
<line x1="275.5" y1="165.0" x2="304.0" y2="204.4" stroke="#2a8a8a" stroke-opacity="0.06" stroke-width="0.64"/>
<line x1="277.8" y1="157.1" x2="320.1" y2="131.8" stroke="#2a8a8a" stroke-opacity="0.14" stroke-width="0.77"/>
<line x1="277.9" y1="168.3" x2="296.6" y2="194.6" stroke="#2a8a8a" stroke-opacity="0.15" stroke-width="0.48"/>
<line x1="270.1" y1="153.6" x2="253.5" y2="98.2" stroke="#2a8a8a" stroke-opacity="0.13" stroke-width="0.61"/>
<line x1="272.5" y1="163.8" x2="275.9" y2="198.7" stroke="#2a8a8a" stroke-opacity="0.12" stroke-width="0.46"/>
<line x1="267.8" y1="156.2" x2="239.2" y2="128.8" stroke="#2a8a8a" stroke-opacity="0.16" stroke-width="0.56"/>
<line x1="267.8" y1="161.1" x2="227.6" y2="167.5" stroke="#2a8a8a" stroke-opacity="0.07" stroke-width="0.61"/>
<line x1="276.2" y1="151.6" x2="286.0" y2="129.8" stroke="#2a8a8a" stroke-opacity="0.12" stroke-width="0.42"/>
<line x1="270.4" y1="154.0" x2="259.9" y2="116.0" stroke="#2a8a8a" stroke-opacity="0.06" stroke-width="0.60"/>
<line x1="265.2" y1="159.5" x2="211.4" y2="152.7" stroke="#2a8a8a" stroke-opacity="0.13" stroke-width="0.69"/>
<line x1="273.3" y1="166.6" x2="277.8" y2="190.9" stroke="#2a8a8a" stroke-opacity="0.06" stroke-width="0.46"/>
<line x1="269.0" y1="167.0" x2="249.8" y2="206.8" stroke="#2a8a8a" stroke-opacity="0.12" stroke-width="0.78"/>
<line x1="275.1" y1="162.6" x2="314.1" y2="191.7" stroke="#2a8a8a" stroke-opacity="0.12" stroke-width="0.57"/>
<line x1="277.1" y1="166.3" x2="299.2" y2="193.1" stroke="#2a8a8a" stroke-opacity="0.10" stroke-width="0.78"/>
<line x1="266.4" y1="167.9" x2="245.4" y2="194.8" stroke="#2a8a8a" stroke-opacity="0.12" stroke-width="0.44"/>
<line x1="274.3" y1="151.0" x2="281.7" y2="116.9" stroke="#2a8a8a" stroke-opacity="0.12" stroke-width="0.72"/>
<line x1="280.0" y1="154.5" x2="312.2" y2="129.8" stroke="#2a8a8a" stroke-opacity="0.05" stroke-width="0.54"/>
<line x1="276.2" y1="153.8" x2="288.1" y2="134.6" stroke="#2a8a8a" stroke-opacity="0.16" stroke-width="0.69"/>
<line x1="276.6" y1="155.2" x2="293.6" y2="135.2" stroke="#2a8a8a" stroke-opacity="0.12" stroke-width="0.57"/>
<line x1="268.6" y1="162.4" x2="218.3" y2="190.3" stroke="#2a8a8a" stroke-opacity="0.05" stroke-width="0.64"/>
<line x1="279.7" y1="158.8" x2="333.9" y2="147.2" stroke="#2a8a8a" stroke-opacity="0.08" stroke-width="0.76"/>
<line x1="280.4" y1="162.5" x2="310.8" y2="170.4" stroke="#2a8a8a" stroke-opacity="0.15" stroke-width="0.56"/>
<line x1="278.2" y1="156.5" x2="301.2" y2="141.8" stroke="#2a8a8a" stroke-opacity="0.06" stroke-width="0.49"/>
<line x1="274.4" y1="165.8" x2="283.4" y2="188.5" stroke="#2a8a8a" stroke-opacity="0.10" stroke-width="0.51"/>
<line x1="268.4" y1="155.0" x2="253.6" y2="134.2" stroke="#2a8a8a" stroke-opacity="0.11" stroke-width="0.56"/>
<line x1="277.4" y1="157.3" x2="302.4" y2="142.5" stroke="#2a8a8a" stroke-opacity="0.10" stroke-width="0.55"/>
<line x1="278.7" y1="159.3" x2="324.4" y2="151.7" stroke="#2a8a8a" stroke-opacity="0.10" stroke-width="0.57"/>
<line x1="279.4" y1="158.1" x2="331.3" y2="141.6" stroke="#2a8a8a" stroke-opacity="0.07" stroke-width="0.64"/>
<line x1="274.4" y1="162.7" x2="302.8" y2="192.1" stroke="#2a8a8a" stroke-opacity="0.13" stroke-width="0.79"/>
<line x1="269.1" y1="156.8" x2="238.0" y2="120.2" stroke="#2a8a8a" stroke-opacity="0.10" stroke-width="0.59"/>
<line x1="268.2" y1="162.5" x2="236.1" y2="179.4" stroke="#2a8a8a" stroke-opacity="0.13" stroke-width="0.78"/>
<line x1="273.6" y1="157.5" x2="296.0" y2="110.9" stroke="#2a8a8a" stroke-opacity="0.08" stroke-width="0.74"/>
<line x1="279.1" y1="159.2" x2="323.4" y2="151.5" stroke="#2a8a8a" stroke-opacity="0.12" stroke-width="0.50"/>
<line x1="270.1" y1="151.7" x2="261.7" y2="117.1" stroke="#2a8a8a" stroke-opacity="0.10" stroke-width="0.67"/>
<line x1="266.4" y1="158.3" x2="224.0" y2="142.7" stroke="#2a8a8a" stroke-opacity="0.15" stroke-width="0.70"/>
<line x1="264.1" y1="164.9" x2="228.2" y2="184.6" stroke="#2a8a8a" stroke-opacity="0.13" stroke-width="0.66"/>
<line x1="279.1" y1="158.6" x2="305.7" y2="151.5" stroke="#2a8a8a" stroke-opacity="0.12" stroke-width="0.58"/>
<line x1="277.8" y1="159.1" x2="339.1" y2="144.7" stroke="#2a8a8a" stroke-opacity="0.12" stroke-width="0.71"/>
<line x1="269.3" y1="152.3" x2="257.4" y2="118.4" stroke="#2a8a8a" stroke-opacity="0.09" stroke-width="0.46"/>
<line x1="269.2" y1="155.4" x2="243.6" y2="112.3" stroke="#2a8a8a" stroke-opacity="0.10" stroke-width="0.80"/>
<line x1="275.5" y1="151.6" x2="288.7" y2="117.2" stroke="#2a8a8a" stroke-opacity="0.11" stroke-width="0.56"/>
<line x1="266.6" y1="153.0" x2="235.2" y2="111.5" stroke="#2a8a8a" stroke-opacity="0.12" stroke-width="0.67"/>
<line x1="267.2" y1="164.0" x2="246.5" y2="178.8" stroke="#2a8a8a" stroke-opacity="0.06" stroke-width="0.78"/>
<line x1="266.9" y1="166.6" x2="237.0" y2="201.6" stroke="#2a8a8a" stroke-opacity="0.07" stroke-width="0.73"/>
<line x1="268.9" y1="166.8" x2="257.0" y2="189.9" stroke="#2a8a8a" stroke-opacity="0.09" stroke-width="0.77"/>
<line x1="269.3" y1="161.5" x2="240.4" y2="171.9" stroke="#2a8a8a" stroke-opacity="0.05" stroke-width="0.60"/>
<line x1="271.0" y1="155.2" x2="265.0" y2="129.2" stroke="#2a8a8a" stroke-opacity="0.10" stroke-width="0.76"/>
<line x1="279.5" y1="159.0" x2="336.1" y2="148.5" stroke="#2a8a8a" stroke-opacity="0.11" stroke-width="0.49"/>
<line x1="268.3" y1="157.1" x2="244.3" y2="136.6" stroke="#2a8a8a" stroke-opacity="0.14" stroke-width="0.63"/>
<line x1="271.5" y1="155.5" x2="265.0" y2="112.3" stroke="#2a8a8a" stroke-opacity="0.10" stroke-width="0.63"/>
<line x1="272.7" y1="170.3" x2="275.5" y2="224.1" stroke="#2a8a8a" stroke-opacity="0.07" stroke-width="0.50"/>
<line x1="273.9" y1="156.2" x2="294.3" y2="105.8" stroke="#2a8a8a" stroke-opacity="0.11" stroke-width="0.50"/>
<line x1="276.5" y1="155.4" x2="307.0" y2="119.8" stroke="#2a8a8a" stroke-opacity="0.07" stroke-width="0.56"/>
<line x1="268.0" y1="161.1" x2="228.4" y2="167.9" stroke="#2a8a8a" stroke-opacity="0.07" stroke-width="0.68"/>
<line x1="278.7" y1="157.1" x2="329.0" y2="131.4" stroke="#2a8a8a" stroke-opacity="0.14" stroke-width="0.45"/>
<line x1="272.9" y1="163.3" x2="286.7" y2="216.7" stroke="#2a8a8a" stroke-opacity="0.06" stroke-width="0.71"/>
<line x1="274.1" y1="165.9" x2="284.4" y2="195.7" stroke="#2a8a8a" stroke-opacity="0.14" stroke-width="0.40"/>
<line x1="277.2" y1="155.5" x2="302.5" y2="131.0" stroke="#2a8a8a" stroke-opacity="0.10" stroke-width="0.45"/>
<line x1="280.5" y1="158.2" x2="308.0" y2="150.8" stroke="#2a8a8a" stroke-opacity="0.15" stroke-width="0.58"/>
<line x1="276.1" y1="159.4" x2="303.7" y2="152.4" stroke="#2a8a8a" stroke-opacity="0.10" stroke-width="0.43"/>
<line x1="275.3" y1="152.4" x2="290.3" y2="112.7" stroke="#2a8a8a" stroke-opacity="0.08" stroke-width="0.41"/>
<line x1="276.8" y1="156.6" x2="301.8" y2="136.0" stroke="#2a8a8a" stroke-opacity="0.06" stroke-width="0.63"/>
<line x1="269.0" y1="161.1" x2="235.2" y2="168.9" stroke="#2a8a8a" stroke-opacity="0.09" stroke-width="0.71"/>
<line x1="276.4" y1="166.4" x2="294.4" y2="192.6" stroke="#2a8a8a" stroke-opacity="0.12" stroke-width="0.72"/>
<line x1="269.7" y1="157.2" x2="233.0" y2="109.8" stroke="#2a8a8a" stroke-opacity="0.15" stroke-width="0.41"/>
<line x1="278.4" y1="166.1" x2="297.2" y2="183.6" stroke="#2a8a8a" stroke-opacity="0.10" stroke-width="0.77"/>
<circle cx="272.2" cy="160.4" r="64" fill="url(#glowA2)"/>
<circle cx="272.2" cy="160.4" r="5.0" fill="#46c8c8" filter="url(#soft2)"/>
<g filter="url(#soft)">
<circle cx="234.3" cy="121.7" r="1.42" fill="#e85252"/>
<circle cx="253.9" cy="132.8" r="1.42" fill="#e85252"/>
<circle cx="261.2" cy="134.0" r="1.42" fill="#e85252"/>
<circle cx="299.0" cy="132.8" r="1.42" fill="#e85252"/>
<circle cx="250.7" cy="141.8" r="1.42" fill="#e85252"/>
<circle cx="284.4" cy="141.0" r="1.42" fill="#e85252"/>
<circle cx="311.9" cy="148.4" r="1.42" fill="#e85252"/>
<circle cx="251.8" cy="157.0" r="1.61" fill="#e85252"/>
<circle cx="279.7" cy="154.6" r="1.61" fill="#e85252"/>
<circle cx="282.9" cy="160.1" r="1.71" fill="#e85252"/>
<circle cx="263.3" cy="163.0" r="1.42" fill="#e85252"/>
<circle cx="257.5" cy="166.0" r="1.61" fill="#e85252"/>
<circle cx="256.2" cy="168.4" r="1.61" fill="#e85252"/>
<circle cx="278.9" cy="165.3" r="1.71" fill="#e85252"/>
<circle cx="283.6" cy="166.0" r="1.71" fill="#e85252"/>
<circle cx="284.4" cy="169.2" r="1.80" fill="#e85252"/>
<circle cx="272.7" cy="166.5" r="1.23" fill="#e85252"/>
<circle cx="272.7" cy="169.5" r="1.23" fill="#e85252"/>
<circle cx="276.6" cy="171.6" r="1.42" fill="#e85252"/>
<circle cx="289.4" cy="165.8" r="1.42" fill="#e85252"/>
<circle cx="263.7" cy="175.5" r="1.42" fill="#e85252"/>
<circle cx="274.5" cy="175.5" r="1.33" fill="#e85252"/>
<circle cx="275.5" cy="178.0" r="1.33" fill="#e85252"/>
<circle cx="292.3" cy="177.8" r="1.42" fill="#e85252"/>
<circle cx="252.2" cy="185.4" r="1.33" fill="#e85252"/>
<circle cx="253.8" cy="183.2" r="1.33" fill="#e85252"/>
<circle cx="280.5" cy="184.4" r="1.42" fill="#e85252"/>
<circle cx="299.5" cy="184.0" r="1.71" fill="#e85252"/>
<circle cx="301.0" cy="186.0" r="1.52" fill="#e85252"/>
<circle cx="287.5" cy="189.5" r="1.42" fill="#e85252"/>
<circle cx="289.0" cy="191.5" r="1.42" fill="#e85252"/>
<circle cx="283.6" cy="193.5" r="1.42" fill="#e85252"/>
<circle cx="289.1" cy="193.5" r="1.42" fill="#e85252"/>
<circle cx="286.5" cy="188.5" r="1.14" fill="#e85252"/>
<ellipse cx="256.3" cy="166.5" rx="3.8" ry="1.4" transform="rotate(-55 256.3 166.5)" fill="#e85252"/>
<ellipse cx="272.7" cy="168.4" rx="1.3" ry="3.5" transform="rotate(0 272.7 168.4)" fill="#e85252"/>
<ellipse cx="275" cy="176.7" rx="1.3" ry="3.0" transform="rotate(-10 275 176.7)" fill="#e85252"/>
<ellipse cx="253" cy="184.4" rx="3.5" ry="1.4" transform="rotate(-55 253 184.4)" fill="#e85252"/>
<ellipse cx="288.3" cy="190.4" rx="4" ry="1.5" transform="rotate(50 288.3 190.4)" fill="#e85252"/>
<ellipse cx="279.7" cy="154.6" rx="2.5" ry="1.3" transform="rotate(0 279.7 154.6)" fill="#e85252"/>
<ellipse cx="251.8" cy="157" rx="2.5" ry="1.4" transform="rotate(0 251.8 157)" fill="#e85252"/>
<ellipse cx="282.5" cy="163" rx="3.0" ry="2.0" transform="rotate(60 282.5 163)" fill="#e85252"/>
<ellipse cx="283.5" cy="168" rx="2.2" ry="2.6" transform="rotate(0 283.5 168)" fill="#e85252"/>
<ellipse cx="300.1" cy="184.9" rx="2.4" ry="2.0" transform="rotate(20 300.1 184.9)" fill="#e85252"/>
</g>
</g>
<text x="232.60" y="109.60" font-size="7.6" font-weight="bold" fill="#ffffff" textLength="19.200000000000017" lengthAdjust="spacingAndGlyphs">0 min</text>
<text x="232.60" y="195.90" font-size="7.6" font-weight="bold" fill="#ffffff" textLength="23.599999999999994" lengthAdjust="spacingAndGlyphs">30 min</text>
<text x="295.50" y="105.00" font-size="6.2" font-weight="bold" fill="#fff" textLength="17.6" lengthAdjust="spacingAndGlyphs">20 µm</text>
<rect x="302.7" y="108" width="11.2" height="3.4" fill="#fff"/>
<text x="295.70" y="191.20" font-size="6.2" font-weight="bold" fill="#fff" textLength="17.6" lengthAdjust="spacingAndGlyphs">20 µm</text>
<rect x="302.5" y="194" width="11.4" height="3.7" fill="#fff"/>
<rect x="230.2" y="112.8" width="85.6" height="1.6" fill="#e6e6e6"/>
<text x="330.80" y="11.60" font-size="13.8" font-weight="bold" fill="#000" textLength="10.6" lengthAdjust="spacingAndGlyphs">B</text>
<g clip-path="url(#clipB)">
<path d="M372.70,196.20 L417.70,147.34 L462.70,114.18 L507.70,88.01 L552.70,65.32 L597.70,43.51 L597.70,85.39 L552.70,107.20 L507.70,127.27 L462.70,143.85 L417.70,166.53 L372.70,196.20Z" fill="#fce1e3" fill-opacity="0.85"/>
<path d="M372.70,196.20 L417.70,146.47 L462.70,121.16 L507.70,101.10 L552.70,81.90 L597.70,66.20 L597.70,84.52 L552.70,100.22 L507.70,119.42 L462.70,135.12 L417.70,158.68 L372.70,196.20Z" fill="#e8e0d6" fill-opacity="0.85"/>
<path d="M372.70,196.20 L417.70,160.43 L462.70,137.74 L507.70,122.04 L552.70,108.08 L597.70,92.37 L597.70,107.20 L552.70,120.29 L507.70,133.38 L462.70,147.34 L417.70,168.28 L372.70,196.20Z" fill="#fdf1e1" fill-opacity="0.85"/>
<path d="M372.70,196.20 L417.70,173.51 L462.70,156.94 L507.70,142.98 L552.70,132.51 L597.70,124.66 L597.70,137.74 L552.70,145.59 L507.70,154.32 L462.70,166.53 L417.70,180.49 L372.70,196.20Z" fill="#e2f0fa" fill-opacity="0.85"/>
<path d="M372.70,196.20 L417.70,176.13 L462.70,162.17 L507.70,149.96 L552.70,141.23 L597.70,134.25 L597.70,150.83 L552.70,156.06 L507.70,162.17 L462.70,172.64 L417.70,183.11 L372.70,196.20Z" fill="#fcebf2" fill-opacity="0.85"/>
<path d="M372.70,196.20 L417.70,184.86 L462.70,174.39 L507.70,163.92 L552.70,157.81 L597.70,151.70 L597.70,160.43 L552.70,165.66 L507.70,171.77 L462.70,180.49 L417.70,189.22 L372.70,196.20Z" fill="#f4e8e0" fill-opacity="0.85"/>
<path d="M372.70,196.20 L417.70,186.60 L462.70,177.00 L507.70,170.02 L552.70,166.53 L597.70,162.17 L597.70,170.90 L552.70,175.26 L507.70,177.88 L462.70,183.98 L417.70,190.96 L372.70,196.20Z" fill="#ebebeb" fill-opacity="0.85"/>
<path d="M372.70,196.20 L417.70,187.47 L462.70,182.24 L507.70,179.62 L552.70,173.51 L597.70,169.15 L597.70,177.00 L552.70,180.49 L507.70,184.86 L462.70,187.47 L417.70,191.84 L372.70,196.20Z" fill="#f4f7d8" fill-opacity="0.85"/>
</g>
<rect x="372.7" y="21.7" width="225" height="174.5" fill="none" stroke="#4d4d4d" stroke-width="0.8"/>
<line x1="417.70" y1="196.20" x2="417.70" y2="193.80" stroke="#4d4d4d" stroke-width="0.7"/>
<line x1="417.70" y1="21.70" x2="417.70" y2="24.10" stroke="#4d4d4d" stroke-width="0.7"/>
<line x1="462.70" y1="196.20" x2="462.70" y2="193.80" stroke="#4d4d4d" stroke-width="0.7"/>
<line x1="462.70" y1="21.70" x2="462.70" y2="24.10" stroke="#4d4d4d" stroke-width="0.7"/>
<line x1="507.70" y1="196.20" x2="507.70" y2="193.80" stroke="#4d4d4d" stroke-width="0.7"/>
<line x1="507.70" y1="21.70" x2="507.70" y2="24.10" stroke="#4d4d4d" stroke-width="0.7"/>
<line x1="552.70" y1="196.20" x2="552.70" y2="193.80" stroke="#4d4d4d" stroke-width="0.7"/>
<line x1="552.70" y1="21.70" x2="552.70" y2="24.10" stroke="#4d4d4d" stroke-width="0.7"/>
<line x1="372.70" y1="152.57" x2="375.10" y2="152.57" stroke="#4d4d4d" stroke-width="0.7"/>
<line x1="597.70" y1="152.57" x2="595.30" y2="152.57" stroke="#4d4d4d" stroke-width="0.7"/>
<line x1="372.70" y1="108.95" x2="375.10" y2="108.95" stroke="#4d4d4d" stroke-width="0.7"/>
<line x1="597.70" y1="108.95" x2="595.30" y2="108.95" stroke="#4d4d4d" stroke-width="0.7"/>
<line x1="372.70" y1="65.32" x2="375.10" y2="65.32" stroke="#4d4d4d" stroke-width="0.7"/>
<line x1="597.70" y1="65.32" x2="595.30" y2="65.32" stroke="#4d4d4d" stroke-width="0.7"/>
<text x="372.70" y="207.00" font-size="9" text-anchor="middle" fill="#333">0</text>
<text x="417.70" y="207.00" font-size="9" text-anchor="middle" fill="#333">1</text>
<text x="462.70" y="207.00" font-size="9" text-anchor="middle" fill="#333">2</text>
<text x="507.70" y="207.00" font-size="9" text-anchor="middle" fill="#333">3</text>
<text x="552.70" y="207.00" font-size="9" text-anchor="middle" fill="#333">4</text>
<text x="597.70" y="207.00" font-size="9" text-anchor="middle" fill="#333">5</text>
<text x="368.40" y="199.40" font-size="9" text-anchor="end" fill="#333">0</text>
<text x="368.40" y="155.77" font-size="9" text-anchor="end" fill="#333">5</text>
<text x="368.40" y="112.15" font-size="9" text-anchor="end" fill="#333">10</text>
<text x="368.40" y="68.52" font-size="9" text-anchor="end" fill="#333">15</text>
<text x="368.40" y="24.90" font-size="9" text-anchor="end" fill="#333">20</text>
<text x="426.40" y="220.10" font-size="11.4" textLength="116.8" lengthAdjust="spacingAndGlyphs">Elapsed time (minutes)</text>
<text x="350.2" y="197.9" font-size="11.3" transform="rotate(-90 350.2 197.9)" textLength="177.4" lengthAdjust="spacingAndGlyphs" fill="#231f20">Travel distance to MTOC, <tspan font-style="italic">X</tspan>(<tspan font-style="italic">t</tspan>) (µm)</text>
<g clip-path="url(#clipB)" fill="none" stroke-width="1.25" stroke-linejoin="round">
<path d="M372.70,196.20 L417.70,189.66 L462.70,185.21 L507.70,182.24 L552.70,177.18 L597.70,172.82" stroke="#d7df23"/>
<path d="M372.70,196.20 L417.70,188.52 L462.70,180.49 L507.70,173.78 L552.70,171.07 L597.70,166.71" stroke="#231f20" stroke-dasharray="2.4 1.6" stroke-width="1.3"/>
<path d="M372.70,196.20 L417.70,187.04 L462.70,177.88 L507.70,167.67 L552.70,162.00 L597.70,156.06" stroke="#a9633a"/>
<path d="M372.70,196.20 L417.70,179.62 L462.70,167.67 L507.70,156.06 L552.70,148.65 L597.70,141.67" stroke="#f07cb1"/>
<path d="M372.70,196.20 L417.70,177.18 L462.70,162.00 L507.70,148.65 L552.70,139.23 L597.70,130.76" stroke="#27aae1"/>
<path d="M372.70,196.20 L417.70,164.62 L462.70,142.54 L507.70,128.14 L552.70,114.18 L597.70,98.48" stroke="#fbab3b"/>
<path d="M372.70,196.20 L417.70,152.57 L462.70,128.14 L507.70,109.82 L552.70,90.63 L597.70,75.36" stroke="#3bb54a"/>
<path d="M372.70,196.20 L417.70,157.37 L462.70,126.84 L507.70,106.59 L552.70,83.12 L597.70,64.71" stroke="#ec1c24"/>
<path d="M372.7,196.2 L407.5,21.7" stroke="#231f20" stroke-width="1.1"/>
</g>
<circle cx="447.5" cy="70.2" r="36.3" fill="none" stroke="#5a5a5a" stroke-width="0.9" stroke-dasharray="2.3 2.0"/>
<circle cx="447.5" cy="70.2" r="24.8" fill="none" stroke="#5a5a5a" stroke-width="0.9" stroke-dasharray="2.3 2.0"/>
<line x1="447.5" y1="70.2" x2="450.6" y2="31.3" stroke="#5bb4e5" stroke-width="1.3"/>
<line x1="447.5" y1="70.2" x2="430.9" y2="35.7" stroke="#5bb4e5" stroke-width="1.3"/>
<line x1="447.5" y1="70.2" x2="472.8" y2="42.5" stroke="#5bb4e5" stroke-width="1.3"/>
<line x1="447.5" y1="70.2" x2="413.9" y2="53.5" stroke="#5bb4e5" stroke-width="1.3"/>
<line x1="447.5" y1="70.2" x2="485.7" y2="70.2" stroke="#5bb4e5" stroke-width="1.3"/>
<line x1="447.5" y1="70.2" x2="410.2" y2="74.6" stroke="#5bb4e5" stroke-width="1.3"/>
<line x1="447.5" y1="70.2" x2="479" y2="89.5" stroke="#5bb4e5" stroke-width="1.3"/>
<line x1="447.5" y1="70.2" x2="418" y2="96.9" stroke="#5bb4e5" stroke-width="1.3"/>
<line x1="447.5" y1="70.2" x2="436.4" y2="108.7" stroke="#5bb4e5" stroke-width="1.3"/>
<line x1="447.5" y1="70.2" x2="456.5" y2="107.7" stroke="#5bb4e5" stroke-width="1.3"/>
<circle cx="447.5" cy="70.2" r="2.9" fill="#5bb4e5"/>
<g>
<line x1="454.30" y1="41.30" x2="457.49" y2="42.15" stroke="#5bb4e5" stroke-width="0.5"/>
<circle cx="457.68" cy="42.21" r="0.7" fill="#d6338a"/>
<line x1="454.30" y1="41.30" x2="455.15" y2="44.49" stroke="#5bb4e5" stroke-width="0.5"/>
<circle cx="455.21" cy="44.68" r="0.7" fill="#d6338a"/>
<line x1="454.30" y1="41.30" x2="451.97" y2="43.63" stroke="#5bb4e5" stroke-width="0.5"/>
<circle cx="451.83" cy="43.77" r="0.7" fill="#d6338a"/>
<line x1="454.30" y1="41.30" x2="451.11" y2="40.45" stroke="#5bb4e5" stroke-width="0.5"/>
<circle cx="450.92" cy="40.39" r="0.7" fill="#d6338a"/>
<line x1="454.30" y1="41.30" x2="453.45" y2="38.11" stroke="#5bb4e5" stroke-width="0.5"/>
<circle cx="453.39" cy="37.92" r="0.7" fill="#d6338a"/>
<line x1="454.30" y1="41.30" x2="456.63" y2="38.97" stroke="#5bb4e5" stroke-width="0.5"/>
<circle cx="456.77" cy="38.83" r="0.7" fill="#d6338a"/>
<circle cx="454.3" cy="41.3" r="2.1" fill="url(#bead)"/>
</g>
<g>
<line x1="416.60" y1="70.20" x2="419.79" y2="71.05" stroke="#5bb4e5" stroke-width="0.5"/>
<circle cx="419.98" cy="71.11" r="0.7" fill="#d6338a"/>
<line x1="416.60" y1="70.20" x2="417.45" y2="73.39" stroke="#5bb4e5" stroke-width="0.5"/>
<circle cx="417.51" cy="73.58" r="0.7" fill="#d6338a"/>
<line x1="416.60" y1="70.20" x2="414.27" y2="72.53" stroke="#5bb4e5" stroke-width="0.5"/>
<circle cx="414.13" cy="72.67" r="0.7" fill="#d6338a"/>
<line x1="416.60" y1="70.20" x2="413.41" y2="69.35" stroke="#5bb4e5" stroke-width="0.5"/>
<circle cx="413.22" cy="69.29" r="0.7" fill="#d6338a"/>
<line x1="416.60" y1="70.20" x2="415.75" y2="67.01" stroke="#5bb4e5" stroke-width="0.5"/>
<circle cx="415.69" cy="66.82" r="0.7" fill="#d6338a"/>
<line x1="416.60" y1="70.20" x2="418.93" y2="67.87" stroke="#5bb4e5" stroke-width="0.5"/>
<circle cx="419.07" cy="67.73" r="0.7" fill="#d6338a"/>
<circle cx="416.6" cy="70.2" r="2.1" fill="url(#bead)"/>
</g>
<g>
<line x1="461.30" y1="67.20" x2="464.49" y2="68.05" stroke="#5bb4e5" stroke-width="0.5"/>
<circle cx="464.68" cy="68.11" r="0.7" fill="#d6338a"/>
<line x1="461.30" y1="67.20" x2="462.15" y2="70.39" stroke="#5bb4e5" stroke-width="0.5"/>
<circle cx="462.21" cy="70.58" r="0.7" fill="#d6338a"/>
<line x1="461.30" y1="67.20" x2="458.97" y2="69.53" stroke="#5bb4e5" stroke-width="0.5"/>
<circle cx="458.83" cy="69.67" r="0.7" fill="#d6338a"/>
<line x1="461.30" y1="67.20" x2="458.11" y2="66.35" stroke="#5bb4e5" stroke-width="0.5"/>
<circle cx="457.92" cy="66.29" r="0.7" fill="#d6338a"/>
<line x1="461.30" y1="67.20" x2="460.45" y2="64.01" stroke="#5bb4e5" stroke-width="0.5"/>
<circle cx="460.39" cy="63.82" r="0.7" fill="#d6338a"/>
<line x1="461.30" y1="67.20" x2="463.63" y2="64.87" stroke="#5bb4e5" stroke-width="0.5"/>
<circle cx="463.77" cy="64.73" r="0.7" fill="#d6338a"/>
<circle cx="461.3" cy="67.2" r="2.1" fill="url(#bead)"/>
</g>
<g>
<line x1="435.40" y1="97.60" x2="438.59" y2="98.45" stroke="#5bb4e5" stroke-width="0.5"/>
<circle cx="438.78" cy="98.51" r="0.7" fill="#d6338a"/>
<line x1="435.40" y1="97.60" x2="436.25" y2="100.79" stroke="#5bb4e5" stroke-width="0.5"/>
<circle cx="436.31" cy="100.98" r="0.7" fill="#d6338a"/>
<line x1="435.40" y1="97.60" x2="433.07" y2="99.93" stroke="#5bb4e5" stroke-width="0.5"/>
<circle cx="432.93" cy="100.07" r="0.7" fill="#d6338a"/>
<line x1="435.40" y1="97.60" x2="432.21" y2="96.75" stroke="#5bb4e5" stroke-width="0.5"/>
<circle cx="432.02" cy="96.69" r="0.7" fill="#d6338a"/>
<line x1="435.40" y1="97.60" x2="434.55" y2="94.41" stroke="#5bb4e5" stroke-width="0.5"/>
<circle cx="434.49" cy="94.22" r="0.7" fill="#d6338a"/>
<line x1="435.40" y1="97.60" x2="437.73" y2="95.27" stroke="#5bb4e5" stroke-width="0.5"/>
<circle cx="437.87" cy="95.13" r="0.7" fill="#d6338a"/>
<circle cx="435.4" cy="97.6" r="2.1" fill="url(#bead)"/>
</g>
<g>
<line x1="458.60" y1="97.30" x2="461.79" y2="98.15" stroke="#5bb4e5" stroke-width="0.5"/>
<circle cx="461.98" cy="98.21" r="0.7" fill="#d6338a"/>
<line x1="458.60" y1="97.30" x2="459.45" y2="100.49" stroke="#5bb4e5" stroke-width="0.5"/>
<circle cx="459.51" cy="100.68" r="0.7" fill="#d6338a"/>
<line x1="458.60" y1="97.30" x2="456.27" y2="99.63" stroke="#5bb4e5" stroke-width="0.5"/>
<circle cx="456.13" cy="99.77" r="0.7" fill="#d6338a"/>
<line x1="458.60" y1="97.30" x2="455.41" y2="96.45" stroke="#5bb4e5" stroke-width="0.5"/>
<circle cx="455.22" cy="96.39" r="0.7" fill="#d6338a"/>
<line x1="458.60" y1="97.30" x2="457.75" y2="94.11" stroke="#5bb4e5" stroke-width="0.5"/>
<circle cx="457.69" cy="93.92" r="0.7" fill="#d6338a"/>
<line x1="458.60" y1="97.30" x2="460.93" y2="94.97" stroke="#5bb4e5" stroke-width="0.5"/>
<circle cx="461.07" cy="94.83" r="0.7" fill="#d6338a"/>
<circle cx="458.6" cy="97.3" r="2.1" fill="url(#bead)"/>
</g>
<g opacity="0.45">
<line x1="478.00" y1="67.20" x2="481.19" y2="68.05" stroke="#5bb4e5" stroke-width="0.5"/>
<circle cx="481.38" cy="68.11" r="0.7" fill="#d6338a"/>
<line x1="478.00" y1="67.20" x2="478.85" y2="70.39" stroke="#5bb4e5" stroke-width="0.5"/>
<circle cx="478.91" cy="70.58" r="0.7" fill="#d6338a"/>
<line x1="478.00" y1="67.20" x2="475.67" y2="69.53" stroke="#5bb4e5" stroke-width="0.5"/>
<circle cx="475.53" cy="69.67" r="0.7" fill="#d6338a"/>
<line x1="478.00" y1="67.20" x2="474.81" y2="66.35" stroke="#5bb4e5" stroke-width="0.5"/>
<circle cx="474.62" cy="66.29" r="0.7" fill="#d6338a"/>
<line x1="478.00" y1="67.20" x2="477.15" y2="64.01" stroke="#5bb4e5" stroke-width="0.5"/>
<circle cx="477.09" cy="63.82" r="0.7" fill="#d6338a"/>
<line x1="478.00" y1="67.20" x2="480.33" y2="64.87" stroke="#5bb4e5" stroke-width="0.5"/>
<circle cx="480.47" cy="64.73" r="0.7" fill="#d6338a"/>
<circle cx="478" cy="67.2" r="2.1" fill="url(#bead)"/>
</g>
<path d="M461.4,68.5 L461.4,76 M461.4,73.8 L478.2,73.8 M478.2,68.5 L478.2,76" stroke="#231f20" stroke-width="0.7" fill="none"/>
<text x="464.6" y="82" font-size="7.8" fill="#231f20" textLength="11.2" lengthAdjust="spacingAndGlyphs"><tspan font-style="italic">X</tspan>(<tspan font-style="italic">t</tspan>)</text>
<rect x="599.9" y="45.6" width="84.5" height="93.3" fill="#fff" stroke="#4d4d4d" stroke-width="0.8"/>
<line x1="602.20" y1="55.40" x2="612.70" y2="55.40" stroke="#231f20" stroke-width="1.1"/>
<text x="614.70" y="58.00" font-size="7.4" textLength="49.3" lengthAdjust="spacingAndGlyphs">HOOK2 (n=50)</text>
<line x1="602.20" y1="64.40" x2="612.70" y2="64.40" stroke="#3bb54a" stroke-width="1.1"/>
<line x1="602.20" y1="75.90" x2="612.70" y2="75.90" stroke="#ec1c24" stroke-width="1.1"/>
<text x="614.70" y="78.50" font-size="7.4" textLength="48.3" lengthAdjust="spacingAndGlyphs">HDAC6 (n=47)</text>
<line x1="602.20" y1="84.70" x2="612.70" y2="84.70" stroke="#fbab3b" stroke-width="1.1"/>
<text x="614.70" y="87.30" font-size="7.4" textLength="39.6" lengthAdjust="spacingAndGlyphs">p62 (n=315)</text>
<line x1="602.20" y1="93.60" x2="612.70" y2="93.60" stroke="#27aae1" stroke-width="1.1"/>
<text x="614.70" y="96.20" font-size="7.4" textLength="62.5" lengthAdjust="spacingAndGlyphs">TRIC/CCT (n=182)</text>
<line x1="602.20" y1="102.40" x2="612.70" y2="102.40" stroke="#f07cb1" stroke-width="1.1"/>
<text x="614.70" y="105.00" font-size="7.4" textLength="48.8" lengthAdjust="spacingAndGlyphs">Hsc70 (n=150)</text>
<line x1="602.20" y1="111.10" x2="612.70" y2="111.10" stroke="#a9633a" stroke-width="1.1"/>
<text x="614.70" y="113.70" font-size="7.4" textLength="49.2" lengthAdjust="spacingAndGlyphs">Hsp90 (n=387)</text>
<line x1="602.20" y1="119.90" x2="612.70" y2="119.90" stroke="#d7df23" stroke-width="1.1"/>
<text x="614.70" y="122.50" font-size="7.4" textLength="67.7" lengthAdjust="spacingAndGlyphs">Proteasome (n=192)</text>
<line x1="602.20" y1="128.70" x2="613.00" y2="128.70" stroke="#231f20" stroke-width="1.2" stroke-dasharray="2.6 1.6"/>
<text x="614.70" y="131.30" font-size="7.4" textLength="40.3" lengthAdjust="spacingAndGlyphs">IgG (n=282)</text>
<text x="614.7" y="67.0" font-size="7.4" fill="#231f20">AgDD<tspan font-size="4.6" dy="2">agg</tspan><tspan dy="-2"> (n=236)</tspan></text>
<text x="0.30" y="241.40" font-size="13.8" font-weight="bold" fill="#000" textLength="10.8" lengthAdjust="spacingAndGlyphs">C</text>
<path d="M67.80,248.00 C67.98,248.67 68.05,250.33 68.30,252.00 C68.55,253.67 68.85,256.17 69.30,258.00 C69.75,259.83 70.37,261.33 71.00,263.00 C71.63,264.67 72.30,265.57 73.10,268.00 C73.90,270.43 75.10,274.18 75.80,277.60 C76.50,281.02 76.98,284.88 77.30,288.50 C77.62,292.12 77.70,295.68 77.70,299.30 C77.70,302.92 77.62,306.58 77.30,310.20 C76.98,313.82 76.42,317.37 75.80,321.00 C75.18,324.63 74.33,328.37 73.60,332.00 C72.87,335.63 72.13,339.18 71.40,342.80 C70.67,346.42 69.78,349.92 69.20,353.70 C68.62,357.48 68.25,363.53 67.90,365.50 C67.55,367.47 67.45,367.47 67.10,365.50 C66.75,363.53 66.38,357.48 65.80,353.70 C65.22,349.92 64.33,346.42 63.60,342.80 C62.87,339.18 62.13,335.63 61.40,332.00 C60.67,328.37 59.82,324.63 59.20,321.00 C58.58,317.37 58.02,313.82 57.70,310.20 C57.38,306.58 57.30,302.92 57.30,299.30 C57.30,295.68 57.38,292.12 57.70,288.50 C58.02,284.88 58.50,281.02 59.20,277.60 C59.90,274.18 61.10,270.43 61.90,268.00 C62.70,265.57 63.37,264.67 64.00,263.00 C64.63,261.33 65.25,259.83 65.70,258.00 C66.15,256.17 66.45,253.67 66.70,252.00 C66.95,250.33 67.02,248.67 67.20,248.00 C67.38,247.33 67.62,247.33 67.80,248.00Z" fill="#fcd59e" clip-path="url(#clipC)"/>
<path d="M116.75,281.00 C116.83,284.17 116.87,293.50 116.95,300.00 C117.02,306.50 117.09,314.50 117.20,320.00 C117.31,325.50 117.40,330.00 117.60,333.00 C117.80,336.00 117.98,336.30 118.40,338.00 C118.82,339.70 119.32,341.78 120.10,343.20 C120.88,344.62 122.08,345.48 123.10,346.50 C124.12,347.52 125.87,348.38 126.20,349.30 C126.53,350.22 125.70,351.22 125.10,352.00 C124.50,352.78 123.60,353.40 122.60,354.00 C121.60,354.60 120.05,355.10 119.10,355.60 C118.15,356.10 117.37,356.77 116.90,357.00 C116.43,357.23 116.77,357.23 116.30,357.00 C115.83,356.77 115.05,356.10 114.10,355.60 C113.15,355.10 111.60,354.60 110.60,354.00 C109.60,353.40 108.70,352.78 108.10,352.00 C107.50,351.22 106.67,350.22 107.00,349.30 C107.33,348.38 109.08,347.52 110.10,346.50 C111.12,345.48 112.32,344.62 113.10,343.20 C113.88,341.78 114.38,339.70 114.80,338.00 C115.22,336.30 115.40,336.00 115.60,333.00 C115.80,330.00 115.89,325.50 116.00,320.00 C116.11,314.50 116.17,306.50 116.25,300.00 C116.33,293.50 116.37,284.17 116.45,281.00 C116.53,277.83 116.67,277.83 116.75,281.00Z" fill="#fcd59e" clip-path="url(#clipC)"/>
<path d="M166.45,281.00 C166.53,284.17 166.58,293.50 166.65,300.00 C166.72,306.50 166.79,314.50 166.90,320.00 C167.01,325.50 167.10,330.00 167.30,333.00 C167.50,336.00 167.68,336.30 168.10,338.00 C168.52,339.70 169.02,341.78 169.80,343.20 C170.58,344.62 171.78,345.48 172.80,346.50 C173.82,347.52 175.57,348.38 175.90,349.30 C176.23,350.22 175.40,351.22 174.80,352.00 C174.20,352.78 173.30,353.40 172.30,354.00 C171.30,354.60 169.75,355.10 168.80,355.60 C167.85,356.10 167.07,356.77 166.60,357.00 C166.13,357.23 166.47,357.23 166.00,357.00 C165.53,356.77 164.75,356.10 163.80,355.60 C162.85,355.10 161.30,354.60 160.30,354.00 C159.30,353.40 158.40,352.78 157.80,352.00 C157.20,351.22 156.37,350.22 156.70,349.30 C157.03,348.38 158.78,347.52 159.80,346.50 C160.82,345.48 162.02,344.62 162.80,343.20 C163.58,341.78 164.08,339.70 164.50,338.00 C164.92,336.30 165.10,336.00 165.30,333.00 C165.50,330.00 165.59,325.50 165.70,320.00 C165.81,314.50 165.88,306.50 165.95,300.00 C166.03,293.50 166.07,284.17 166.15,281.00 C166.23,277.83 166.37,277.83 166.45,281.00Z" fill="#fcd59e" clip-path="url(#clipC)"/>
<rect x="42.4" y="248.2" width="148.8" height="117.3" fill="none" stroke="#4d4d4d" stroke-width="0.8"/>
<line x1="42.40" y1="353.30" x2="44.70" y2="353.30" stroke="#4d4d4d" stroke-width="0.7"/>
<text x="38.80" y="355.40" font-size="8.0" text-anchor="end" fill="#333">0</text>
<line x1="42.40" y1="329.95" x2="44.70" y2="329.95" stroke="#4d4d4d" stroke-width="0.7"/>
<text x="38.80" y="332.05" font-size="8.0" text-anchor="end" fill="#333">40</text>
<line x1="42.40" y1="306.60" x2="44.70" y2="306.60" stroke="#4d4d4d" stroke-width="0.7"/>
<text x="38.80" y="308.70" font-size="8.0" text-anchor="end" fill="#333">80</text>
<line x1="42.40" y1="283.24" x2="44.70" y2="283.24" stroke="#4d4d4d" stroke-width="0.7"/>
<text x="38.80" y="285.34" font-size="8.0" text-anchor="end" fill="#333">120</text>
<line x1="42.40" y1="259.89" x2="44.70" y2="259.89" stroke="#4d4d4d" stroke-width="0.7"/>
<text x="38.80" y="261.99" font-size="8.0" text-anchor="end" fill="#333">160</text>
<rect x="57.80" y="300.80" width="19.20" height="2.6" fill="#ee1c25"/>
<rect x="57.80" y="304.30" width="19.20" height="2.6" fill="#000000"/>
<rect x="111.80" y="344.40" width="10.00" height="2.6" fill="#000000"/>
<rect x="107.80" y="347.70" width="18.00" height="2.6" fill="#ee1c25"/>
<rect x="161.30" y="344.40" width="10.10" height="2.6" fill="#000000"/>
<rect x="157.80" y="347.20" width="17.10" height="2.6" fill="#ee1c25"/>
<line x1="143.00" y1="255.60" x2="157.60" y2="255.60" stroke="#000000" stroke-width="2.5"/>
<line x1="143.00" y1="263.80" x2="157.60" y2="263.80" stroke="#ee1c25" stroke-width="2.5"/>
<text x="159.50" y="258.10" font-size="8.5" textLength="19.6" lengthAdjust="spacingAndGlyphs">Mean</text>
<text x="159.50" y="266.30" font-size="8.5" textLength="25.8" lengthAdjust="spacingAndGlyphs">Median</text>
<text x="67.70" y="377.20" font-size="8.9" text-anchor="middle">HOOK2</text>
<text x="67.70" y="387.60" font-size="8.9" text-anchor="middle">n=18</text>
<text x="116.80" y="377.20" font-size="8.9" text-anchor="middle">HDAC6</text>
<text x="116.80" y="387.60" font-size="8.9" text-anchor="middle">n=224</text>
<text x="166.40" y="377.20" font-size="8.9" text-anchor="middle">CCT2</text>
<text x="166.40" y="387.60" font-size="8.9" text-anchor="middle">n=90</text>
<text x="19.50" y="365.60" font-size="9.0" transform="rotate(-90 19.50 365.60)" textLength="117.0" lengthAdjust="spacingAndGlyphs">Transport segment length (s)</text>
<text x="211.00" y="241.30" font-size="13.8" font-weight="bold" fill="#000" textLength="11.2" lengthAdjust="spacingAndGlyphs">D</text>
<path d="M278.60,262.30 C279.15,262.50 279.77,263.05 281.30,263.50 C282.83,263.95 286.70,264.55 287.80,265.00 C288.90,265.45 288.82,265.82 287.90,266.20 C286.98,266.58 283.73,266.92 282.30,267.30 C280.87,267.68 279.77,267.88 279.30,268.50 C278.83,269.12 279.30,270.08 279.50,271.00 C279.70,271.92 280.15,272.97 280.50,274.00 C280.85,275.03 281.63,276.12 281.60,277.20 C281.57,278.28 280.72,279.53 280.30,280.50 C279.88,281.47 279.23,282.25 279.10,283.00 C278.97,283.75 279.58,284.25 279.50,285.00 C279.42,285.75 278.85,287.08 278.60,287.50 C278.35,287.92 278.25,287.92 278.00,287.50 C277.75,287.08 277.18,285.75 277.10,285.00 C277.02,284.25 277.63,283.75 277.50,283.00 C277.37,282.25 276.72,281.47 276.30,280.50 C275.88,279.53 275.03,278.28 275.00,277.20 C274.97,276.12 275.75,275.03 276.10,274.00 C276.45,272.97 276.90,271.92 277.10,271.00 C277.30,270.08 277.77,269.12 277.30,268.50 C276.83,267.88 275.73,267.68 274.30,267.30 C272.87,266.92 269.62,266.58 268.70,266.20 C267.78,265.82 267.70,265.45 268.80,265.00 C269.90,264.55 273.77,263.95 275.30,263.50 C276.83,263.05 277.45,262.50 278.00,262.30 C278.55,262.10 278.05,262.10 278.60,262.30Z" fill="#fcd59e" clip-path="url(#clipD)"/>
<path d="M328.20,251.50 C328.38,252.58 328.65,255.45 328.90,258.00 C329.15,260.55 329.67,263.88 329.70,266.80 C329.73,269.72 329.27,271.88 329.10,275.50 C328.93,279.12 328.67,284.52 328.70,288.50 C328.73,292.48 328.87,296.13 329.30,299.40 C329.73,302.67 330.62,305.20 331.30,308.10 C331.98,311.00 332.57,313.88 333.40,316.80 C334.23,319.72 335.57,323.05 336.30,325.60 C337.03,328.15 337.67,330.30 337.80,332.10 C337.93,333.90 337.83,334.58 337.10,336.40 C336.37,338.22 334.55,340.82 333.40,343.00 C332.25,345.18 330.98,347.33 330.20,349.50 C329.42,351.67 329.03,353.82 328.70,356.00 C328.37,358.18 328.35,361.50 328.20,362.60 C328.05,363.70 327.95,363.70 327.80,362.60 C327.65,361.50 327.63,358.18 327.30,356.00 C326.97,353.82 326.58,351.67 325.80,349.50 C325.02,347.33 323.75,345.18 322.60,343.00 C321.45,340.82 319.63,338.22 318.90,336.40 C318.17,334.58 318.07,333.90 318.20,332.10 C318.33,330.30 318.97,328.15 319.70,325.60 C320.43,323.05 321.77,319.72 322.60,316.80 C323.43,313.88 324.02,311.00 324.70,308.10 C325.38,305.20 326.27,302.67 326.70,299.40 C327.13,296.13 327.27,292.48 327.30,288.50 C327.33,284.52 327.07,279.12 326.90,275.50 C326.73,271.88 326.27,269.72 326.30,266.80 C326.33,263.88 326.85,260.55 327.10,258.00 C327.35,255.45 327.62,252.58 327.80,251.50 C327.98,250.42 328.02,250.42 328.20,251.50Z" fill="#fcd59e" clip-path="url(#clipD)"/>
<path d="M377.70,250.40 C377.97,253.13 378.20,262.25 378.70,266.80 C379.20,271.35 379.90,274.08 380.70,277.70 C381.50,281.32 382.75,284.88 383.50,288.50 C384.25,292.12 384.77,295.77 385.20,299.40 C385.63,303.03 385.77,306.67 386.10,310.30 C386.43,313.93 387.02,318.30 387.20,321.20 C387.38,324.10 387.57,325.17 387.20,327.70 C386.83,330.23 385.90,333.48 385.00,336.40 C384.10,339.32 382.78,342.28 381.80,345.20 C380.82,348.12 379.80,350.65 379.10,353.90 C378.40,357.15 377.92,362.90 377.60,364.70 C377.28,366.50 377.52,366.50 377.20,364.70 C376.88,362.90 376.40,357.15 375.70,353.90 C375.00,350.65 373.98,348.12 373.00,345.20 C372.02,342.28 370.70,339.32 369.80,336.40 C368.90,333.48 367.97,330.23 367.60,327.70 C367.23,325.17 367.42,324.10 367.60,321.20 C367.78,318.30 368.37,313.93 368.70,310.30 C369.03,306.67 369.17,303.03 369.60,299.40 C370.03,295.77 370.55,292.12 371.30,288.50 C372.05,284.88 373.30,281.32 374.10,277.70 C374.90,274.08 375.60,271.35 376.10,266.80 C376.60,262.25 376.83,253.13 377.10,250.40 C377.37,247.67 377.43,247.67 377.70,250.40Z" fill="#fcd59e" clip-path="url(#clipD)"/>
<rect x="253.3" y="248.7" width="149.6" height="117.5" fill="none" stroke="#4d4d4d" stroke-width="0.8"/>
<line x1="253.30" y1="349.40" x2="255.60" y2="349.40" stroke="#4d4d4d" stroke-width="0.7"/>
<text x="250.00" y="352.30" font-size="8.0" text-anchor="end" fill="#333">0</text>
<line x1="253.30" y1="315.80" x2="255.60" y2="315.80" stroke="#4d4d4d" stroke-width="0.7"/>
<text x="250.00" y="318.70" font-size="8.0" text-anchor="end" fill="#333">0.4</text>
<line x1="253.30" y1="282.20" x2="255.60" y2="282.20" stroke="#4d4d4d" stroke-width="0.7"/>
<text x="250.00" y="285.10" font-size="8.0" text-anchor="end" fill="#333">0.8</text>
<line x1="253.30" y1="248.60" x2="255.60" y2="248.60" stroke="#4d4d4d" stroke-width="0.7"/>
<text x="250.00" y="251.50" font-size="8.0" text-anchor="end" fill="#333">1.2</text>
<rect x="272.90" y="265.70" width="11.10" height="2.6" fill="#ee1c25"/>
<rect x="276.80" y="270.10" width="3.20" height="2.0" fill="#000000"/>
<rect x="322.00" y="316.20" width="11.80" height="2.6" fill="#000000"/>
<rect x="319.90" y="322.70" width="16.10" height="2.6" fill="#ee1c25"/>
<rect x="368.20" y="314.50" width="18.50" height="2.6" fill="#000000"/>
<rect x="367.80" y="318.80" width="19.40" height="2.6" fill="#ee1c25"/>
<line x1="260.60" y1="347.30" x2="275.20" y2="347.30" stroke="#000000" stroke-width="2.5"/>
<line x1="260.60" y1="356.00" x2="275.20" y2="356.00" stroke="#ee1c25" stroke-width="2.5"/>
<text x="277.80" y="349.80" font-size="8.5" textLength="19.6" lengthAdjust="spacingAndGlyphs">Mean</text>
<text x="277.80" y="358.50" font-size="8.5" textLength="25.8" lengthAdjust="spacingAndGlyphs">Median</text>
<text x="278.20" y="377.60" font-size="8.9" text-anchor="middle">HOOK2</text>
<text x="278.20" y="388.40" font-size="8.9" text-anchor="middle">n=18</text>
<text x="328.00" y="377.60" font-size="8.9" text-anchor="middle">HDAC6</text>
<text x="328.00" y="388.40" font-size="8.9" text-anchor="middle">n=224</text>
<text x="377.20" y="377.60" font-size="8.9" text-anchor="middle">CCT2</text>
<text x="377.20" y="388.40" font-size="8.9" text-anchor="middle">n=90</text>
<text x="231.00" y="371.70" font-size="9.0" transform="rotate(-90 231.00 371.70)" textLength="127.4" lengthAdjust="spacingAndGlyphs">Proportion of transport segment</text>
<text x="423.00" y="241.30" font-size="13.8" font-weight="bold" fill="#000" textLength="9.6" lengthAdjust="spacingAndGlyphs">E</text>
<path d="M488.90,268.60 C489.48,270.03 490.42,273.98 491.80,277.20 C493.18,280.42 496.05,284.68 497.20,287.90 C498.35,291.12 498.77,293.63 498.70,296.50 C498.63,299.37 497.83,302.23 496.80,305.10 C495.77,307.97 493.68,311.20 492.50,313.70 C491.32,316.20 490.30,317.97 489.70,320.10 C489.10,322.23 489.13,325.43 488.90,326.50 C488.67,327.57 488.53,327.57 488.30,326.50 C488.07,325.43 488.10,322.23 487.50,320.10 C486.90,317.97 485.88,316.20 484.70,313.70 C483.52,311.20 481.43,307.97 480.40,305.10 C479.37,302.23 478.57,299.37 478.50,296.50 C478.43,293.63 478.85,291.12 480.00,287.90 C481.15,284.68 484.02,280.42 485.40,277.20 C486.78,273.98 487.72,270.03 488.30,268.60 C488.88,267.17 488.32,267.17 488.90,268.60Z" fill="#fcd59e" clip-path="url(#clipE)"/>
<path d="M538.70,249.30 C538.85,253.95 538.83,270.77 539.00,277.20 C539.17,283.63 539.30,284.33 539.70,287.90 C540.10,291.47 540.55,295.02 541.40,298.60 C542.25,302.18 543.80,305.82 544.80,309.40 C545.80,312.98 546.85,316.53 547.40,320.10 C547.95,323.67 548.23,327.58 548.10,330.80 C547.97,334.02 547.50,336.53 546.60,339.40 C545.70,342.27 543.78,345.50 542.70,348.00 C541.62,350.50 540.77,352.62 540.10,354.40 C539.43,356.18 539.03,357.98 538.70,358.70 C538.37,359.42 538.43,359.42 538.10,358.70 C537.77,357.98 537.37,356.18 536.70,354.40 C536.03,352.62 535.18,350.50 534.10,348.00 C533.02,345.50 531.10,342.27 530.20,339.40 C529.30,336.53 528.83,334.02 528.70,330.80 C528.57,327.58 528.85,323.67 529.40,320.10 C529.95,316.53 531.00,312.98 532.00,309.40 C533.00,305.82 534.55,302.18 535.40,298.60 C536.25,295.02 536.70,291.47 537.10,287.90 C537.50,284.33 537.63,283.63 537.80,277.20 C537.97,270.77 537.95,253.95 538.10,249.30 C538.25,244.65 538.55,244.65 538.70,249.30Z" fill="#fcd59e" clip-path="url(#clipE)"/>
<path d="M588.00,251.40 C588.15,255.70 588.07,270.77 588.30,277.20 C588.53,283.63 588.50,286.07 589.40,290.00 C590.30,293.93 592.55,297.57 593.70,300.80 C594.85,304.03 595.65,306.53 596.30,309.40 C596.95,312.27 597.38,315.15 597.60,318.00 C597.82,320.85 597.82,323.65 597.60,326.50 C597.38,329.35 596.95,332.23 596.30,335.10 C595.65,337.97 594.70,340.83 593.70,343.70 C592.70,346.57 591.25,349.25 590.30,352.30 C589.35,355.35 588.48,360.38 588.00,362.00 C587.52,363.62 587.88,363.62 587.40,362.00 C586.92,360.38 586.05,355.35 585.10,352.30 C584.15,349.25 582.70,346.57 581.70,343.70 C580.70,340.83 579.75,337.97 579.10,335.10 C578.45,332.23 578.02,329.35 577.80,326.50 C577.58,323.65 577.58,320.85 577.80,318.00 C578.02,315.15 578.45,312.27 579.10,309.40 C579.75,306.53 580.55,304.03 581.70,300.80 C582.85,297.57 585.10,293.93 586.00,290.00 C586.90,286.07 586.87,283.63 587.10,277.20 C587.33,270.77 587.25,255.70 587.40,251.40 C587.55,247.10 587.85,247.10 588.00,251.40Z" fill="#fcd59e" clip-path="url(#clipE)"/>
<rect x="463.5" y="248.1" width="148.4" height="117" fill="none" stroke="#4d4d4d" stroke-width="0.8"/>
<line x1="463.50" y1="347.40" x2="465.80" y2="347.40" stroke="#4d4d4d" stroke-width="0.7"/>
<text x="460.30" y="350.30" font-size="8.0" text-anchor="end" fill="#333">0</text>
<line x1="463.50" y1="318.10" x2="465.80" y2="318.10" stroke="#4d4d4d" stroke-width="0.7"/>
<text x="460.30" y="321.00" font-size="8.0" text-anchor="end" fill="#333">500</text>
<line x1="463.50" y1="288.80" x2="465.80" y2="288.80" stroke="#4d4d4d" stroke-width="0.7"/>
<text x="460.30" y="291.70" font-size="8.0" text-anchor="end" fill="#333">1000</text>
<line x1="463.50" y1="259.50" x2="465.80" y2="259.50" stroke="#4d4d4d" stroke-width="0.7"/>
<text x="460.30" y="262.40" font-size="8.0" text-anchor="end" fill="#333">1500</text>
<rect x="479.00" y="296.70" width="19.70" height="1.8" fill="#000000"/>
<rect x="479.00" y="295.50" width="19.70" height="2.6" fill="#ee1c25"/>
<rect x="528.70" y="323.70" width="19.30" height="2.6" fill="#ee1c25"/>
<rect x="528.70" y="322.30" width="19.30" height="1.8" fill="#000000"/>
<rect x="578.10" y="322.00" width="18.90" height="2.6" fill="#ee1c25"/>
<rect x="578.10" y="320.55" width="18.90" height="1.9" fill="#000000"/>
<line x1="471.20" y1="347.80" x2="485.80" y2="347.80" stroke="#000000" stroke-width="2.5"/>
<line x1="471.20" y1="356.20" x2="485.80" y2="356.20" stroke="#ee1c25" stroke-width="2.5"/>
<text x="487.70" y="350.30" font-size="8.5" textLength="19.6" lengthAdjust="spacingAndGlyphs">Mean</text>
<text x="487.70" y="358.70" font-size="8.5" textLength="25.8" lengthAdjust="spacingAndGlyphs">Median</text>
<text x="488.70" y="376.80" font-size="8.9" text-anchor="middle">HOOK2</text>
<text x="488.70" y="388.40" font-size="8.9" text-anchor="middle">n=18</text>
<text x="538.20" y="376.80" font-size="8.9" text-anchor="middle">HDAC6</text>
<text x="538.20" y="388.40" font-size="8.9" text-anchor="middle">n=224</text>
<text x="587.40" y="376.80" font-size="8.9" text-anchor="middle">CCT2</text>
<text x="587.40" y="388.40" font-size="8.9" text-anchor="middle">n=90</text>
<text x="438.40" y="353.40" font-size="9.0" transform="rotate(-90 438.40 353.40)" textLength="90.9" lengthAdjust="spacingAndGlyphs">Intrinsic velocity (nm/s)</text>
<text x="0.30" y="411.50" font-size="13.8" font-weight="bold" fill="#000" textLength="9.2" lengthAdjust="spacingAndGlyphs">F</text>
<path d="M79.60,413.60 C79.75,416.65 79.83,426.30 80.10,431.90 C80.37,437.50 80.67,442.45 81.20,447.20 C81.73,451.95 82.50,456.38 83.30,460.40 C84.10,464.42 85.12,467.65 86.00,471.30 C86.88,474.95 88.10,479.20 88.60,482.30 C89.10,485.40 89.15,487.35 89.00,489.90 C88.85,492.45 88.38,494.50 87.70,497.60 C87.02,500.70 85.85,504.85 84.90,508.50 C83.95,512.15 82.75,515.67 82.00,519.50 C81.25,523.33 81.00,529.50 80.40,531.50 C79.80,533.50 79.00,533.50 78.40,531.50 C77.80,529.50 77.55,523.33 76.80,519.50 C76.05,515.67 74.85,512.15 73.90,508.50 C72.95,504.85 71.78,500.70 71.10,497.60 C70.42,494.50 69.95,492.45 69.80,489.90 C69.65,487.35 69.70,485.40 70.20,482.30 C70.70,479.20 71.92,474.95 72.80,471.30 C73.68,467.65 74.70,464.42 75.50,460.40 C76.30,456.38 77.07,451.95 77.60,447.20 C78.13,442.45 78.43,437.50 78.70,431.90 C78.97,426.30 79.05,416.65 79.20,413.60 C79.35,410.55 79.45,410.55 79.60,413.60Z" fill="#fcd59e" clip-path="url(#clipF)"/>
<path d="M117.10,413.00 C117.73,416.15 118.88,425.10 119.90,431.90 C120.92,438.70 122.37,447.23 123.20,453.80 C124.03,460.37 124.47,466.20 124.90,471.30 C125.33,476.40 125.65,480.75 125.80,484.40 C125.95,488.05 126.05,489.90 125.80,493.20 C125.55,496.50 124.82,499.82 124.30,504.20 C123.78,508.58 123.22,514.87 122.70,519.50 C122.18,524.13 122.98,529.92 121.20,532.00 C119.42,534.08 113.78,534.08 112.00,532.00 C110.22,529.92 111.02,524.13 110.50,519.50 C109.98,514.87 109.42,508.58 108.90,504.20 C108.38,499.82 107.65,496.50 107.40,493.20 C107.15,489.90 107.25,488.05 107.40,484.40 C107.55,480.75 107.87,476.40 108.30,471.30 C108.73,466.20 109.17,460.37 110.00,453.80 C110.83,447.23 112.28,438.70 113.30,431.90 C114.32,425.10 115.47,416.15 116.10,413.00 C116.73,409.85 116.47,409.85 117.10,413.00Z" fill="#fcd59e" clip-path="url(#clipF)"/>
<path d="M154.10,430.80 C154.25,434.63 154.33,447.05 154.60,453.80 C154.87,460.55 155.17,466.55 155.70,471.30 C156.23,476.05 156.82,478.65 157.80,482.30 C158.78,485.95 160.72,490.28 161.60,493.20 C162.48,496.12 163.10,497.62 163.10,499.80 C163.10,501.98 162.48,503.75 161.60,506.30 C160.72,508.85 158.90,512.53 157.80,515.10 C156.70,517.67 155.62,519.15 155.00,521.70 C154.38,524.25 154.32,528.95 154.10,530.40 C153.88,531.85 153.92,531.85 153.70,530.40 C153.48,528.95 153.42,524.25 152.80,521.70 C152.18,519.15 151.10,517.67 150.00,515.10 C148.90,512.53 147.08,508.85 146.20,506.30 C145.32,503.75 144.70,501.98 144.70,499.80 C144.70,497.62 145.32,496.12 146.20,493.20 C147.08,490.28 149.02,485.95 150.00,482.30 C150.98,478.65 151.57,476.05 152.10,471.30 C152.63,466.55 152.93,460.55 153.20,453.80 C153.47,447.05 153.55,434.63 153.70,430.80 C153.85,426.97 153.95,426.97 154.10,430.80Z" fill="#fcd59e" clip-path="url(#clipF)"/>
<rect x="42.5" y="413.6" width="148.6" height="117.5" fill="none" stroke="#4d4d4d" stroke-width="0.8"/>
<line x1="42.50" y1="531.20" x2="44.80" y2="531.20" stroke="#4d4d4d" stroke-width="0.7"/>
<text x="38.90" y="534.10" font-size="8.0" text-anchor="end" fill="#333">-10</text>
<line x1="42.50" y1="507.60" x2="44.80" y2="507.60" stroke="#4d4d4d" stroke-width="0.7"/>
<text x="38.90" y="510.50" font-size="8.0" text-anchor="end" fill="#333">0</text>
<line x1="42.50" y1="484.00" x2="44.80" y2="484.00" stroke="#4d4d4d" stroke-width="0.7"/>
<text x="38.90" y="486.90" font-size="8.0" text-anchor="end" fill="#333">10</text>
<line x1="42.50" y1="460.40" x2="44.80" y2="460.40" stroke="#4d4d4d" stroke-width="0.7"/>
<text x="38.90" y="463.30" font-size="8.0" text-anchor="end" fill="#333">20</text>
<line x1="42.50" y1="436.80" x2="44.80" y2="436.80" stroke="#4d4d4d" stroke-width="0.7"/>
<text x="38.90" y="439.70" font-size="8.0" text-anchor="end" fill="#333">30</text>
<line x1="42.50" y1="413.20" x2="44.80" y2="413.20" stroke="#4d4d4d" stroke-width="0.7"/>
<text x="38.90" y="416.10" font-size="8.0" text-anchor="end" fill="#333">40</text>
<rect x="70.20" y="490.20" width="18.40" height="1.6" fill="#000000"/>
<rect x="70.20" y="488.45" width="18.40" height="2.3" fill="#ee1c25"/>
<rect x="107.40" y="491.80" width="18.60" height="2.0" fill="#000000"/>
<rect x="107.40" y="489.55" width="18.60" height="2.3" fill="#ee1c25"/>
<rect x="145.10" y="495.60" width="18.00" height="2.6" fill="#000000"/>
<rect x="145.10" y="497.70" width="18.00" height="2.6" fill="#ee1c25"/>
<text x="79.40" y="498.70" font-size="7.6" text-anchor="middle">7.5</text>
<text x="116.60" y="500.90" font-size="7.6" text-anchor="middle">6.4</text>
<text x="153.90" y="493.60" font-size="7.6" text-anchor="middle">3.8</text>
<line x1="143.60" y1="420.50" x2="158.20" y2="420.50" stroke="#000000" stroke-width="2.5"/>
<line x1="143.60" y1="428.90" x2="158.20" y2="428.90" stroke="#ee1c25" stroke-width="2.5"/>
<text x="160.40" y="423.00" font-size="8.5" textLength="19.6" lengthAdjust="spacingAndGlyphs">Mean</text>
<text x="160.40" y="431.40" font-size="8.5" textLength="25.8" lengthAdjust="spacingAndGlyphs">Median</text>
<text x="8.30" y="544.60" font-size="8.9" textLength="51.8" lengthAdjust="spacingAndGlyphs">HDAC6 Ab%</text>
<text x="79.40" y="544.60" font-size="8.9" text-anchor="middle">100%</text>
<text x="79.40" y="555.00" font-size="8.9" text-anchor="middle">n=564</text>
<text x="117.00" y="544.60" font-size="8.9" text-anchor="middle">20%</text>
<text x="117.00" y="555.00" font-size="8.9" text-anchor="middle">n=234</text>
<text x="154.10" y="544.60" font-size="8.9" text-anchor="middle">3%</text>
<text x="154.10" y="555.00" font-size="8.9" text-anchor="middle">n=991</text>
<text x="15.40" y="511.30" font-size="9.6" transform="rotate(-90 15.40 511.30)" textLength="83.7" lengthAdjust="spacingAndGlyphs">Average velocity of</text>
<text x="26.70" y="515.90" font-size="9.6" transform="rotate(-90 26.70 515.90)" textLength="87.1" lengthAdjust="spacingAndGlyphs">single particle (nm/s)</text>
<text x="211.40" y="412.20" font-size="13.8" font-weight="bold" fill="#000" textLength="11.6" lengthAdjust="spacingAndGlyphs">G</text>
<path d="M279.10,414.00 C279.27,416.98 279.18,427.10 279.50,431.90 C279.82,436.70 280.32,439.15 281.00,442.80 C281.68,446.45 282.87,450.15 283.60,453.80 C284.33,457.45 284.92,461.60 285.40,464.70 C285.88,467.80 286.58,469.83 286.50,472.40 C286.42,474.97 285.53,477.00 284.90,480.10 C284.27,483.20 283.42,487.35 282.70,491.00 C281.98,494.65 281.13,498.35 280.60,502.00 C280.07,505.65 279.75,508.07 279.50,512.90 C279.25,517.73 279.27,527.98 279.10,531.00 C278.93,534.02 278.67,534.02 278.50,531.00 C278.33,527.98 278.35,517.73 278.10,512.90 C277.85,508.07 277.53,505.65 277.00,502.00 C276.47,498.35 275.62,494.65 274.90,491.00 C274.18,487.35 273.33,483.20 272.70,480.10 C272.07,477.00 271.18,474.97 271.10,472.40 C271.02,469.83 271.72,467.80 272.20,464.70 C272.68,461.60 273.27,457.45 274.00,453.80 C274.73,450.15 275.92,446.45 276.60,442.80 C277.28,439.15 277.78,436.70 278.10,431.90 C278.42,427.10 278.33,416.98 278.50,414.00 C278.67,411.02 278.93,411.02 279.10,414.00Z" fill="#fcd59e" clip-path="url(#clipG)"/>
<path d="M311.30,414.00 C311.42,420.63 311.08,444.25 311.40,453.80 C311.72,463.35 312.47,466.55 313.20,471.30 C313.93,476.05 315.00,478.65 315.80,482.30 C316.60,485.95 317.52,490.10 318.00,493.20 C318.48,496.30 318.95,498.35 318.70,500.90 C318.45,503.45 317.42,505.40 316.50,508.50 C315.58,511.60 314.00,515.67 313.20,519.50 C312.40,523.33 312.18,529.50 311.70,531.50 C311.22,533.50 310.78,533.50 310.30,531.50 C309.82,529.50 309.60,523.33 308.80,519.50 C308.00,515.67 306.42,511.60 305.50,508.50 C304.58,505.40 303.55,503.45 303.30,500.90 C303.05,498.35 303.52,496.30 304.00,493.20 C304.48,490.10 305.40,485.95 306.20,482.30 C307.00,478.65 308.07,476.05 308.80,471.30 C309.53,466.55 310.28,463.35 310.60,453.80 C310.92,444.25 310.58,420.63 310.70,414.00 C310.82,407.37 311.18,407.37 311.30,414.00Z" fill="#fcd59e" clip-path="url(#clipG)"/>
<path d="M345.30,414.00 C345.53,418.80 345.72,436.17 346.10,442.80 C346.48,449.43 346.98,450.15 347.60,453.80 C348.22,457.45 349.13,461.05 349.80,464.70 C350.47,468.35 351.12,472.05 351.60,475.70 C352.08,479.35 352.45,482.95 352.70,486.60 C352.95,490.25 353.10,493.95 353.10,497.60 C353.10,501.25 352.88,504.85 352.70,508.50 C352.52,512.15 352.18,515.58 352.00,519.50 C351.82,523.42 353.87,529.92 351.60,532.00 C349.33,534.08 340.67,534.08 338.40,532.00 C336.13,529.92 338.18,523.42 338.00,519.50 C337.82,515.58 337.48,512.15 337.30,508.50 C337.12,504.85 336.90,501.25 336.90,497.60 C336.90,493.95 337.05,490.25 337.30,486.60 C337.55,482.95 337.92,479.35 338.40,475.70 C338.88,472.05 339.53,468.35 340.20,464.70 C340.87,461.05 341.78,457.45 342.40,453.80 C343.02,450.15 343.52,449.43 343.90,442.80 C344.28,436.17 344.47,418.80 344.70,414.00 C344.93,409.20 345.07,409.20 345.30,414.00Z" fill="#fcd59e" clip-path="url(#clipG)"/>
<path d="M377.20,414.00 C377.37,418.80 377.22,434.35 377.60,442.80 C377.98,451.25 378.82,459.22 379.50,464.70 C380.18,470.18 381.03,472.05 381.70,475.70 C382.37,479.35 383.02,482.95 383.50,486.60 C383.98,490.25 384.50,493.95 384.60,497.60 C384.70,501.25 384.37,504.85 384.10,508.50 C383.83,512.15 383.40,515.58 383.00,519.50 C382.60,523.42 383.52,529.92 381.70,532.00 C379.88,534.08 373.92,534.08 372.10,532.00 C370.28,529.92 371.20,523.42 370.80,519.50 C370.40,515.58 369.97,512.15 369.70,508.50 C369.43,504.85 369.10,501.25 369.20,497.60 C369.30,493.95 369.82,490.25 370.30,486.60 C370.78,482.95 371.43,479.35 372.10,475.70 C372.77,472.05 373.62,470.18 374.30,464.70 C374.98,459.22 375.82,451.25 376.20,442.80 C376.58,434.35 376.43,418.80 376.60,414.00 C376.77,409.20 377.03,409.20 377.20,414.00Z" fill="#fcd59e" clip-path="url(#clipG)"/>
<rect x="253.4" y="413.7" width="148.8" height="117.5" fill="none" stroke="#4d4d4d" stroke-width="0.8"/>
<line x1="253.40" y1="531.02" x2="255.70" y2="531.02" stroke="#4d4d4d" stroke-width="0.7"/>
<text x="249.60" y="533.92" font-size="8.0" text-anchor="end" fill="#333">-20</text>
<line x1="253.40" y1="501.70" x2="255.70" y2="501.70" stroke="#4d4d4d" stroke-width="0.7"/>
<text x="249.60" y="504.60" font-size="8.0" text-anchor="end" fill="#333">0</text>
<line x1="253.40" y1="472.38" x2="255.70" y2="472.38" stroke="#4d4d4d" stroke-width="0.7"/>
<text x="249.60" y="475.28" font-size="8.0" text-anchor="end" fill="#333">20</text>
<line x1="253.40" y1="443.06" x2="255.70" y2="443.06" stroke="#4d4d4d" stroke-width="0.7"/>
<text x="249.60" y="445.96" font-size="8.0" text-anchor="end" fill="#333">40</text>
<line x1="253.40" y1="413.74" x2="255.70" y2="413.74" stroke="#4d4d4d" stroke-width="0.7"/>
<text x="249.60" y="416.64" font-size="8.0" text-anchor="end" fill="#333">60</text>
<rect x="271.60" y="472.80" width="14.70" height="1.6" fill="#000000"/>
<rect x="271.60" y="471.25" width="14.70" height="2.3" fill="#ee1c25"/>
<rect x="303.40" y="499.80" width="14.90" height="2.6" fill="#ee1c25"/>
<rect x="338.00" y="503.50" width="14.60" height="2.6" fill="#ee1c25"/>
<rect x="370.10" y="502.40" width="13.90" height="2.6" fill="#000000"/>
<rect x="370.10" y="500.20" width="13.90" height="2.6" fill="#ee1c25"/>
<text x="278.80" y="468.70" font-size="7.6" text-anchor="middle">20.2</text>
<text x="311.00" y="509.60" font-size="7.6" text-anchor="middle">0.5</text>
<text x="345.00" y="512.50" font-size="7.6" text-anchor="middle">-2.0</text>
<text x="376.90" y="511.20" font-size="7.6" text-anchor="middle">-1.3</text>
<line x1="355.20" y1="420.50" x2="369.80" y2="420.50" stroke="#000000" stroke-width="2.5"/>
<line x1="355.20" y1="428.90" x2="369.80" y2="428.90" stroke="#ee1c25" stroke-width="2.5"/>
<text x="372.30" y="423.00" font-size="8.5" textLength="19.6" lengthAdjust="spacingAndGlyphs">Mean</text>
<text x="372.30" y="431.40" font-size="8.5" textLength="25.8" lengthAdjust="spacingAndGlyphs">Median</text>
<text x="279.00" y="544.80" font-size="8.9" text-anchor="middle">1.0 µm</text>
<text x="279.00" y="554.70" font-size="8.9" text-anchor="middle">n=669</text>
<text x="311.60" y="544.80" font-size="8.9" text-anchor="middle">0.5 µm</text>
<text x="311.60" y="554.70" font-size="8.9" text-anchor="middle">n=3748</text>
<text x="344.80" y="544.80" font-size="8.9" text-anchor="middle">1.0 µm</text>
<text x="344.80" y="554.70" font-size="8.9" text-anchor="middle">n=187</text>
<text x="377.50" y="544.80" font-size="8.9" text-anchor="middle">0.5 µm</text>
<text x="377.50" y="554.70" font-size="8.9" text-anchor="middle">n=768</text>
<line x1="267.40" y1="561.30" x2="322.90" y2="561.30" stroke="#231f20" stroke-width="0.9"/>
<line x1="333.80" y1="561.30" x2="388.60" y2="561.30" stroke="#231f20" stroke-width="0.9"/>
<text x="295.10" y="571.30" font-size="8.9" text-anchor="middle">HDAC6</text>
<text x="360.20" y="571.30" font-size="8.9" text-anchor="middle">PEG only</text>
<text x="226.20" y="511.30" font-size="9.6" transform="rotate(-90 226.20 511.30)" textLength="83.7" lengthAdjust="spacingAndGlyphs">Average velocity of</text>
<text x="237.00" y="515.90" font-size="9.6" transform="rotate(-90 237.00 515.90)" textLength="87.1" lengthAdjust="spacingAndGlyphs">single particle (nm/s)</text>
<text x="422.60" y="411.80" font-size="13.8" font-weight="bold" fill="#000" textLength="10.8" lengthAdjust="spacingAndGlyphs">H</text>
<g clip-path="url(#clipH1)">
<rect x="426.3" y="417" width="114.4" height="113.6" fill="#041616"/>
<line x1="484.0" y1="484.2" x2="487.5" y2="530.7" stroke="#1f7f7f" stroke-opacity="0.13" stroke-width="0.65"/>
<line x1="491.7" y1="482.1" x2="507.1" y2="488.9" stroke="#1f7f7f" stroke-opacity="0.09" stroke-width="0.49"/>
<line x1="492.5" y1="478.4" x2="532.1" y2="477.3" stroke="#1f7f7f" stroke-opacity="0.11" stroke-width="0.66"/>
<line x1="488.9" y1="486.0" x2="516.8" y2="524.6" stroke="#1f7f7f" stroke-opacity="0.12" stroke-width="0.70"/>
<line x1="479.7" y1="471.3" x2="470.2" y2="453.8" stroke="#1f7f7f" stroke-opacity="0.13" stroke-width="0.52"/>
<line x1="489.8" y1="479.8" x2="550.6" y2="491.8" stroke="#1f7f7f" stroke-opacity="0.14" stroke-width="0.75"/>
<line x1="482.3" y1="473.0" x2="467.7" y2="409.3" stroke="#1f7f7f" stroke-opacity="0.15" stroke-width="0.58"/>
<line x1="487.0" y1="477.2" x2="547.0" y2="451.5" stroke="#1f7f7f" stroke-opacity="0.07" stroke-width="0.49"/>
<line x1="490.8" y1="477.0" x2="529.3" y2="468.5" stroke="#1f7f7f" stroke-opacity="0.09" stroke-width="0.60"/>
<line x1="478.3" y1="483.3" x2="451.5" y2="506.6" stroke="#1f7f7f" stroke-opacity="0.13" stroke-width="0.76"/>
<line x1="479.9" y1="470.4" x2="454.0" y2="413.6" stroke="#1f7f7f" stroke-opacity="0.18" stroke-width="0.67"/>
<line x1="488.7" y1="486.9" x2="518.9" y2="536.7" stroke="#1f7f7f" stroke-opacity="0.17" stroke-width="0.63"/>
<line x1="481.6" y1="470.0" x2="475.6" y2="444.0" stroke="#1f7f7f" stroke-opacity="0.13" stroke-width="0.51"/>
<line x1="492.7" y1="482.5" x2="546.0" y2="504.9" stroke="#1f7f7f" stroke-opacity="0.07" stroke-width="0.72"/>
<line x1="479.3" y1="481.3" x2="456.1" y2="496.0" stroke="#1f7f7f" stroke-opacity="0.15" stroke-width="0.75"/>
<line x1="486.8" y1="479.5" x2="537.2" y2="493.9" stroke="#1f7f7f" stroke-opacity="0.14" stroke-width="0.53"/>
<line x1="488.4" y1="474.2" x2="537.9" y2="428.2" stroke="#1f7f7f" stroke-opacity="0.18" stroke-width="0.52"/>
<line x1="486.5" y1="480.1" x2="532.3" y2="504.2" stroke="#1f7f7f" stroke-opacity="0.08" stroke-width="0.56"/>
<line x1="481.1" y1="476.5" x2="458.4" y2="457.6" stroke="#1f7f7f" stroke-opacity="0.16" stroke-width="0.53"/>
<line x1="489.1" y1="477.2" x2="551.1" y2="460.7" stroke="#1f7f7f" stroke-opacity="0.11" stroke-width="0.61"/>
<line x1="479.3" y1="473.2" x2="449.7" y2="435.5" stroke="#1f7f7f" stroke-opacity="0.13" stroke-width="0.78"/>
<line x1="475.6" y1="478.2" x2="437.1" y2="476.5" stroke="#1f7f7f" stroke-opacity="0.08" stroke-width="0.52"/>
<line x1="490.4" y1="477.6" x2="534.2" y2="471.5" stroke="#1f7f7f" stroke-opacity="0.06" stroke-width="0.57"/>
<line x1="477.2" y1="475.1" x2="460.8" y2="466.1" stroke="#1f7f7f" stroke-opacity="0.13" stroke-width="0.42"/>
<line x1="478.2" y1="473.0" x2="449.9" y2="443.9" stroke="#1f7f7f" stroke-opacity="0.10" stroke-width="0.68"/>
<line x1="483.3" y1="475.2" x2="481.6" y2="452.6" stroke="#1f7f7f" stroke-opacity="0.14" stroke-width="0.79"/>
<line x1="483.5" y1="485.7" x2="483.3" y2="526.4" stroke="#1f7f7f" stroke-opacity="0.09" stroke-width="0.55"/>
<line x1="480.8" y1="485.2" x2="466.9" y2="518.7" stroke="#1f7f7f" stroke-opacity="0.09" stroke-width="0.55"/>
<line x1="484.6" y1="471.7" x2="487.3" y2="452.5" stroke="#1f7f7f" stroke-opacity="0.15" stroke-width="0.52"/>
<line x1="484.4" y1="483.2" x2="494.8" y2="542.8" stroke="#1f7f7f" stroke-opacity="0.08" stroke-width="0.57"/>
<line x1="481.9" y1="473.6" x2="474.0" y2="450.1" stroke="#1f7f7f" stroke-opacity="0.10" stroke-width="0.73"/>
<line x1="479.7" y1="480.2" x2="420.8" y2="504.2" stroke="#1f7f7f" stroke-opacity="0.10" stroke-width="0.66"/>
<line x1="487.0" y1="475.6" x2="519.3" y2="447.1" stroke="#1f7f7f" stroke-opacity="0.07" stroke-width="0.61"/>
<line x1="486.8" y1="486.9" x2="507.3" y2="539.5" stroke="#1f7f7f" stroke-opacity="0.08" stroke-width="0.51"/>
<line x1="486.6" y1="470.5" x2="503.7" y2="425.2" stroke="#1f7f7f" stroke-opacity="0.10" stroke-width="0.45"/>
<line x1="482.3" y1="483.3" x2="466.7" y2="541.1" stroke="#1f7f7f" stroke-opacity="0.10" stroke-width="0.57"/>
<line x1="475.3" y1="483.2" x2="443.8" y2="500.6" stroke="#1f7f7f" stroke-opacity="0.07" stroke-width="0.40"/>
<line x1="492.9" y1="475.1" x2="548.3" y2="454.5" stroke="#1f7f7f" stroke-opacity="0.11" stroke-width="0.78"/>
<line x1="491.0" y1="475.0" x2="516.0" y2="462.7" stroke="#1f7f7f" stroke-opacity="0.16" stroke-width="0.67"/>
<line x1="478.3" y1="478.0" x2="444.4" y2="473.9" stroke="#1f7f7f" stroke-opacity="0.08" stroke-width="0.43"/>
<line x1="476.2" y1="474.0" x2="450.2" y2="457.8" stroke="#1f7f7f" stroke-opacity="0.06" stroke-width="0.76"/>
<line x1="480.4" y1="469.9" x2="458.9" y2="411.8" stroke="#1f7f7f" stroke-opacity="0.17" stroke-width="0.63"/>
<line x1="487.8" y1="478.9" x2="545.7" y2="483.7" stroke="#1f7f7f" stroke-opacity="0.09" stroke-width="0.67"/>
<line x1="474.1" y1="477.1" x2="438.5" y2="471.5" stroke="#1f7f7f" stroke-opacity="0.13" stroke-width="0.54"/>
<line x1="483.5" y1="484.9" x2="482.5" y2="546.7" stroke="#1f7f7f" stroke-opacity="0.15" stroke-width="0.54"/>
<line x1="486.4" y1="486.8" x2="500.4" y2="527.5" stroke="#1f7f7f" stroke-opacity="0.08" stroke-width="0.72"/>
<line x1="491.3" y1="474.5" x2="541.2" y2="447.8" stroke="#1f7f7f" stroke-opacity="0.05" stroke-width="0.65"/>
<line x1="486.8" y1="474.9" x2="501.5" y2="457.7" stroke="#1f7f7f" stroke-opacity="0.09" stroke-width="0.61"/>
<line x1="476.1" y1="482.5" x2="440.5" y2="501.2" stroke="#1f7f7f" stroke-opacity="0.05" stroke-width="0.42"/>
<line x1="486.0" y1="481.1" x2="505.4" y2="500.9" stroke="#1f7f7f" stroke-opacity="0.18" stroke-width="0.74"/>
<line x1="488.1" y1="481.3" x2="526.5" y2="504.4" stroke="#1f7f7f" stroke-opacity="0.09" stroke-width="0.54"/>
<line x1="480.3" y1="474.2" x2="450.8" y2="435.3" stroke="#1f7f7f" stroke-opacity="0.08" stroke-width="0.53"/>
<line x1="489.3" y1="484.2" x2="521.2" y2="515.6" stroke="#1f7f7f" stroke-opacity="0.10" stroke-width="0.43"/>
<line x1="486.7" y1="485.1" x2="502.5" y2="517.9" stroke="#1f7f7f" stroke-opacity="0.15" stroke-width="0.55"/>
<line x1="485.5" y1="472.9" x2="501.3" y2="425.3" stroke="#1f7f7f" stroke-opacity="0.10" stroke-width="0.60"/>
<line x1="481.3" y1="471.1" x2="470.2" y2="434.6" stroke="#1f7f7f" stroke-opacity="0.11" stroke-width="0.50"/>
<line x1="480.2" y1="477.8" x2="425.4" y2="465.3" stroke="#1f7f7f" stroke-opacity="0.11" stroke-width="0.57"/>
<line x1="487.7" y1="474.7" x2="535.9" y2="429.3" stroke="#1f7f7f" stroke-opacity="0.17" stroke-width="0.72"/>
<line x1="483.3" y1="482.5" x2="479.9" y2="526.7" stroke="#1f7f7f" stroke-opacity="0.16" stroke-width="0.66"/>
<line x1="489.4" y1="473.6" x2="532.7" y2="436.6" stroke="#1f7f7f" stroke-opacity="0.15" stroke-width="0.63"/>
<line x1="486.0" y1="480.4" x2="527.0" y2="511.4" stroke="#1f7f7f" stroke-opacity="0.07" stroke-width="0.71"/>
<line x1="487.2" y1="479.6" x2="512.1" y2="486.7" stroke="#1f7f7f" stroke-opacity="0.16" stroke-width="0.47"/>
<line x1="487.4" y1="479.2" x2="549.9" y2="488.5" stroke="#1f7f7f" stroke-opacity="0.16" stroke-width="0.67"/>
<line x1="487.2" y1="472.6" x2="521.0" y2="416.4" stroke="#1f7f7f" stroke-opacity="0.15" stroke-width="0.41"/>
<line x1="484.5" y1="470.6" x2="489.1" y2="428.3" stroke="#1f7f7f" stroke-opacity="0.07" stroke-width="0.70"/>
<line x1="488.4" y1="476.5" x2="509.3" y2="467.4" stroke="#1f7f7f" stroke-opacity="0.13" stroke-width="0.73"/>
<line x1="483.8" y1="483.3" x2="485.3" y2="512.5" stroke="#1f7f7f" stroke-opacity="0.13" stroke-width="0.70"/>
<line x1="479.1" y1="482.2" x2="449.5" y2="505.5" stroke="#1f7f7f" stroke-opacity="0.10" stroke-width="0.57"/>
<line x1="492.1" y1="483.5" x2="526.9" y2="503.6" stroke="#1f7f7f" stroke-opacity="0.11" stroke-width="0.70"/>
<line x1="488.0" y1="485.6" x2="515.3" y2="529.0" stroke="#1f7f7f" stroke-opacity="0.14" stroke-width="0.61"/>
<line x1="474.4" y1="479.5" x2="426.8" y2="484.4" stroke="#1f7f7f" stroke-opacity="0.07" stroke-width="0.44"/>
<line x1="483.5" y1="472.0" x2="482.8" y2="407.8" stroke="#1f7f7f" stroke-opacity="0.11" stroke-width="0.69"/>
<line x1="485.3" y1="482.6" x2="498.6" y2="513.9" stroke="#1f7f7f" stroke-opacity="0.13" stroke-width="0.53"/>
<line x1="484.7" y1="488.2" x2="490.2" y2="537.8" stroke="#1f7f7f" stroke-opacity="0.09" stroke-width="0.68"/>
<line x1="477.5" y1="482.3" x2="425.7" y2="513.7" stroke="#1f7f7f" stroke-opacity="0.09" stroke-width="0.49"/>
<line x1="489.2" y1="479.4" x2="532.1" y2="485.7" stroke="#1f7f7f" stroke-opacity="0.08" stroke-width="0.54"/>
<line x1="481.8" y1="482.2" x2="455.7" y2="535.9" stroke="#1f7f7f" stroke-opacity="0.18" stroke-width="0.59"/>
<line x1="476.4" y1="473.4" x2="444.3" y2="450.4" stroke="#1f7f7f" stroke-opacity="0.16" stroke-width="0.62"/>
<line x1="474.7" y1="479.7" x2="423.0" y2="485.8" stroke="#1f7f7f" stroke-opacity="0.10" stroke-width="0.69"/>
<line x1="488.1" y1="477.5" x2="530.5" y2="466.6" stroke="#1f7f7f" stroke-opacity="0.08" stroke-width="0.69"/>
<line x1="479.5" y1="470.6" x2="450.6" y2="413.5" stroke="#1f7f7f" stroke-opacity="0.08" stroke-width="0.48"/>
<line x1="483.2" y1="486.5" x2="481.7" y2="512.9" stroke="#1f7f7f" stroke-opacity="0.16" stroke-width="0.76"/>
<line x1="483.4" y1="483.8" x2="481.5" y2="546.8" stroke="#1f7f7f" stroke-opacity="0.11" stroke-width="0.69"/>
<line x1="491.2" y1="483.1" x2="509.0" y2="493.8" stroke="#1f7f7f" stroke-opacity="0.09" stroke-width="0.54"/>
<line x1="480.9" y1="477.1" x2="432.1" y2="450.2" stroke="#1f7f7f" stroke-opacity="0.10" stroke-width="0.57"/>
<line x1="476.5" y1="479.2" x2="448.2" y2="481.7" stroke="#1f7f7f" stroke-opacity="0.17" stroke-width="0.56"/>
<line x1="478.9" y1="477.2" x2="453.8" y2="470.1" stroke="#1f7f7f" stroke-opacity="0.14" stroke-width="0.45"/>
<line x1="486.4" y1="476.2" x2="537.1" y2="432.7" stroke="#1f7f7f" stroke-opacity="0.17" stroke-width="0.55"/>
<line x1="484.3" y1="473.6" x2="492.4" y2="416.4" stroke="#1f7f7f" stroke-opacity="0.14" stroke-width="0.66"/>
<line x1="486.5" y1="470.8" x2="496.8" y2="442.7" stroke="#1f7f7f" stroke-opacity="0.18" stroke-width="0.67"/>
<line x1="477.3" y1="477.1" x2="453.7" y2="471.7" stroke="#1f7f7f" stroke-opacity="0.10" stroke-width="0.69"/>
<line x1="481.7" y1="474.7" x2="460.5" y2="430.6" stroke="#1f7f7f" stroke-opacity="0.14" stroke-width="0.65"/>
<line x1="486.9" y1="485.4" x2="513.5" y2="541.3" stroke="#1f7f7f" stroke-opacity="0.07" stroke-width="0.77"/>
<line x1="488.7" y1="484.8" x2="509.8" y2="510.9" stroke="#1f7f7f" stroke-opacity="0.13" stroke-width="0.62"/>
<line x1="480.5" y1="474.5" x2="454.8" y2="440.3" stroke="#1f7f7f" stroke-opacity="0.08" stroke-width="0.43"/>
<line x1="482.2" y1="472.0" x2="470.2" y2="417.3" stroke="#1f7f7f" stroke-opacity="0.15" stroke-width="0.54"/>
<line x1="482.7" y1="487.7" x2="479.2" y2="522.6" stroke="#1f7f7f" stroke-opacity="0.06" stroke-width="0.60"/>
<line x1="483.7" y1="484.1" x2="484.7" y2="542.0" stroke="#1f7f7f" stroke-opacity="0.10" stroke-width="0.56"/>
<line x1="478.3" y1="477.2" x2="422.2" y2="462.2" stroke="#1f7f7f" stroke-opacity="0.16" stroke-width="0.44"/>
<line x1="483.1" y1="482.4" x2="479.8" y2="508.3" stroke="#1f7f7f" stroke-opacity="0.15" stroke-width="0.69"/>
<line x1="486.0" y1="484.0" x2="497.3" y2="510.2" stroke="#1f7f7f" stroke-opacity="0.15" stroke-width="0.73"/>
<line x1="483.6" y1="474.6" x2="483.2" y2="424.0" stroke="#1f7f7f" stroke-opacity="0.10" stroke-width="0.48"/>
<line x1="479.3" y1="477.8" x2="431.0" y2="469.4" stroke="#1f7f7f" stroke-opacity="0.09" stroke-width="0.71"/>
<line x1="492.7" y1="480.3" x2="547.6" y2="490.8" stroke="#1f7f7f" stroke-opacity="0.17" stroke-width="0.55"/>
<line x1="476.6" y1="476.2" x2="432.4" y2="461.0" stroke="#1f7f7f" stroke-opacity="0.18" stroke-width="0.67"/>
<line x1="481.6" y1="484.7" x2="462.8" y2="543.4" stroke="#1f7f7f" stroke-opacity="0.13" stroke-width="0.69"/>
<line x1="491.2" y1="478.7" x2="547.1" y2="479.5" stroke="#1f7f7f" stroke-opacity="0.12" stroke-width="0.61"/>
<line x1="477.1" y1="480.2" x2="450.0" y2="487.1" stroke="#1f7f7f" stroke-opacity="0.06" stroke-width="0.60"/>
<line x1="479.4" y1="473.1" x2="454.9" y2="441.1" stroke="#1f7f7f" stroke-opacity="0.17" stroke-width="0.76"/>
<line x1="488.4" y1="484.1" x2="526.2" y2="527.2" stroke="#1f7f7f" stroke-opacity="0.06" stroke-width="0.54"/>
<line x1="484.3" y1="485.3" x2="486.6" y2="507.3" stroke="#1f7f7f" stroke-opacity="0.17" stroke-width="0.53"/>
<line x1="486.3" y1="475.7" x2="524.6" y2="435.2" stroke="#1f7f7f" stroke-opacity="0.16" stroke-width="0.64"/>
<line x1="490.9" y1="475.0" x2="538.1" y2="451.7" stroke="#1f7f7f" stroke-opacity="0.10" stroke-width="0.72"/>
<line x1="489.1" y1="476.1" x2="545.5" y2="450.3" stroke="#1f7f7f" stroke-opacity="0.15" stroke-width="0.59"/>
<line x1="486.3" y1="480.8" x2="504.6" y2="495.8" stroke="#1f7f7f" stroke-opacity="0.08" stroke-width="0.46"/>
<line x1="476.8" y1="478.7" x2="423.6" y2="479.7" stroke="#1f7f7f" stroke-opacity="0.11" stroke-width="0.66"/>
<line x1="480.8" y1="486.4" x2="467.4" y2="524.0" stroke="#1f7f7f" stroke-opacity="0.10" stroke-width="0.47"/>
<line x1="488.1" y1="475.3" x2="532.8" y2="442.6" stroke="#1f7f7f" stroke-opacity="0.10" stroke-width="0.61"/>
<line x1="481.1" y1="476.9" x2="453.9" y2="458.0" stroke="#1f7f7f" stroke-opacity="0.08" stroke-width="0.71"/>
<line x1="486.3" y1="482.0" x2="513.4" y2="516.2" stroke="#1f7f7f" stroke-opacity="0.08" stroke-width="0.47"/>
<line x1="481.0" y1="480.4" x2="456.1" y2="497.6" stroke="#1f7f7f" stroke-opacity="0.07" stroke-width="0.47"/>
<line x1="480.4" y1="478.8" x2="455.7" y2="480.3" stroke="#1f7f7f" stroke-opacity="0.11" stroke-width="0.56"/>
<line x1="481.9" y1="473.0" x2="475.7" y2="452.2" stroke="#1f7f7f" stroke-opacity="0.10" stroke-width="0.41"/>
<line x1="487.2" y1="477.8" x2="518.7" y2="470.9" stroke="#1f7f7f" stroke-opacity="0.11" stroke-width="0.47"/>
<line x1="480.8" y1="475.9" x2="453.2" y2="449.2" stroke="#1f7f7f" stroke-opacity="0.06" stroke-width="0.69"/>
<line x1="482.6" y1="484.8" x2="473.5" y2="542.2" stroke="#1f7f7f" stroke-opacity="0.17" stroke-width="0.52"/>
<line x1="483.6" y1="487.3" x2="483.6" y2="516.9" stroke="#1f7f7f" stroke-opacity="0.13" stroke-width="0.54"/>
<line x1="491.7" y1="484.0" x2="532.8" y2="511.4" stroke="#1f7f7f" stroke-opacity="0.13" stroke-width="0.40"/>
<line x1="487.7" y1="479.4" x2="512.6" y2="484.2" stroke="#1f7f7f" stroke-opacity="0.06" stroke-width="0.42"/>
<line x1="481.1" y1="475.0" x2="444.0" y2="420.9" stroke="#1f7f7f" stroke-opacity="0.18" stroke-width="0.59"/>
<line x1="486.8" y1="469.6" x2="507.0" y2="411.7" stroke="#1f7f7f" stroke-opacity="0.06" stroke-width="0.52"/>
<line x1="480.8" y1="476.4" x2="427.0" y2="433.6" stroke="#1f7f7f" stroke-opacity="0.09" stroke-width="0.74"/>
<line x1="487.6" y1="482.1" x2="517.0" y2="508.0" stroke="#1f7f7f" stroke-opacity="0.14" stroke-width="0.77"/>
<line x1="487.3" y1="485.8" x2="511.9" y2="533.8" stroke="#1f7f7f" stroke-opacity="0.16" stroke-width="0.62"/>
<line x1="488.8" y1="475.9" x2="521.9" y2="458.7" stroke="#1f7f7f" stroke-opacity="0.08" stroke-width="0.71"/>
<line x1="479.4" y1="479.1" x2="445.4" y2="483.3" stroke="#1f7f7f" stroke-opacity="0.14" stroke-width="0.64"/>
<line x1="482.0" y1="472.4" x2="472.7" y2="435.6" stroke="#1f7f7f" stroke-opacity="0.07" stroke-width="0.68"/>
<line x1="491.8" y1="479.8" x2="531.4" y2="485.5" stroke="#1f7f7f" stroke-opacity="0.14" stroke-width="0.44"/>
<line x1="484.2" y1="486.1" x2="489.0" y2="545.6" stroke="#1f7f7f" stroke-opacity="0.16" stroke-width="0.75"/>
<line x1="475.9" y1="481.1" x2="417.2" y2="500.2" stroke="#1f7f7f" stroke-opacity="0.10" stroke-width="0.55"/>
<line x1="492.3" y1="482.8" x2="524.0" y2="498.3" stroke="#1f7f7f" stroke-opacity="0.07" stroke-width="0.63"/>
<line x1="489.4" y1="483.4" x2="506.0" y2="497.1" stroke="#1f7f7f" stroke-opacity="0.08" stroke-width="0.42"/>
<line x1="487.7" y1="484.4" x2="516.5" y2="525.5" stroke="#1f7f7f" stroke-opacity="0.06" stroke-width="0.49"/>
<line x1="490.4" y1="477.2" x2="518.8" y2="471.2" stroke="#1f7f7f" stroke-opacity="0.11" stroke-width="0.71"/>
<line x1="478.3" y1="474.5" x2="432.5" y2="439.3" stroke="#1f7f7f" stroke-opacity="0.08" stroke-width="0.47"/>
<line x1="486.9" y1="480.4" x2="541.9" y2="510.2" stroke="#1f7f7f" stroke-opacity="0.06" stroke-width="0.79"/>
<line x1="484.7" y1="482.0" x2="505.4" y2="544.8" stroke="#1f7f7f" stroke-opacity="0.11" stroke-width="0.49"/>
<line x1="487.2" y1="472.0" x2="510.3" y2="429.6" stroke="#1f7f7f" stroke-opacity="0.15" stroke-width="0.75"/>
<line x1="480.1" y1="483.6" x2="452.3" y2="524.0" stroke="#1f7f7f" stroke-opacity="0.07" stroke-width="0.73"/>
<line x1="479.9" y1="476.1" x2="429.1" y2="441.9" stroke="#1f7f7f" stroke-opacity="0.12" stroke-width="0.59"/>
<line x1="482.9" y1="473.2" x2="479.6" y2="450.0" stroke="#1f7f7f" stroke-opacity="0.12" stroke-width="0.43"/>
<line x1="478.0" y1="476.7" x2="425.2" y2="458.5" stroke="#1f7f7f" stroke-opacity="0.14" stroke-width="0.64"/>
<line x1="485.8" y1="488.3" x2="493.1" y2="520.1" stroke="#1f7f7f" stroke-opacity="0.10" stroke-width="0.57"/>
<line x1="487.2" y1="480.7" x2="514.6" y2="496.7" stroke="#1f7f7f" stroke-opacity="0.17" stroke-width="0.69"/>
<line x1="488.7" y1="473.4" x2="536.1" y2="425.9" stroke="#1f7f7f" stroke-opacity="0.17" stroke-width="0.61"/>
<line x1="475.5" y1="483.2" x2="420.4" y2="514.0" stroke="#1f7f7f" stroke-opacity="0.17" stroke-width="0.59"/>
<line x1="485.1" y1="468.7" x2="490.3" y2="433.7" stroke="#1f7f7f" stroke-opacity="0.17" stroke-width="0.52"/>
<line x1="487.0" y1="477.1" x2="514.9" y2="464.8" stroke="#1f7f7f" stroke-opacity="0.15" stroke-width="0.52"/>
<line x1="480.3" y1="478.2" x2="427.1" y2="471.7" stroke="#1f7f7f" stroke-opacity="0.15" stroke-width="0.51"/>
<line x1="476.1" y1="482.0" x2="445.1" y2="496.0" stroke="#1f7f7f" stroke-opacity="0.15" stroke-width="0.51"/>
<line x1="488.3" y1="482.2" x2="515.4" y2="502.8" stroke="#1f7f7f" stroke-opacity="0.06" stroke-width="0.46"/>
<line x1="484.4" y1="468.8" x2="488.4" y2="418.8" stroke="#1f7f7f" stroke-opacity="0.18" stroke-width="0.75"/>
<line x1="480.0" y1="482.3" x2="460.6" y2="502.3" stroke="#1f7f7f" stroke-opacity="0.11" stroke-width="0.61"/>
<line x1="474.9" y1="476.3" x2="442.1" y2="467.4" stroke="#1f7f7f" stroke-opacity="0.09" stroke-width="0.59"/>
<line x1="487.4" y1="475.3" x2="533.1" y2="435.9" stroke="#1f7f7f" stroke-opacity="0.08" stroke-width="0.72"/>
<line x1="490.3" y1="479.0" x2="515.1" y2="480.6" stroke="#1f7f7f" stroke-opacity="0.12" stroke-width="0.47"/>
<line x1="491.6" y1="481.2" x2="517.1" y2="489.5" stroke="#1f7f7f" stroke-opacity="0.11" stroke-width="0.79"/>
<line x1="484.3" y1="475.4" x2="500.0" y2="406.5" stroke="#1f7f7f" stroke-opacity="0.08" stroke-width="0.41"/>
<line x1="480.5" y1="480.0" x2="445.4" y2="495.9" stroke="#1f7f7f" stroke-opacity="0.12" stroke-width="0.44"/>
<line x1="480.3" y1="486.6" x2="469.5" y2="513.2" stroke="#1f7f7f" stroke-opacity="0.11" stroke-width="0.50"/>
<line x1="490.7" y1="480.6" x2="528.3" y2="491.3" stroke="#1f7f7f" stroke-opacity="0.14" stroke-width="0.77"/>
<line x1="485.0" y1="474.9" x2="497.0" y2="443.7" stroke="#1f7f7f" stroke-opacity="0.15" stroke-width="0.72"/>
<line x1="476.7" y1="478.2" x2="417.2" y2="474.9" stroke="#1f7f7f" stroke-opacity="0.09" stroke-width="0.47"/>
<line x1="492.8" y1="479.6" x2="540.4" y2="484.7" stroke="#1f7f7f" stroke-opacity="0.17" stroke-width="0.59"/>
<line x1="479.2" y1="471.1" x2="447.4" y2="417.0" stroke="#1f7f7f" stroke-opacity="0.13" stroke-width="0.57"/>
<line x1="479.3" y1="478.1" x2="450.3" y2="474.7" stroke="#1f7f7f" stroke-opacity="0.14" stroke-width="0.80"/>
<line x1="478.4" y1="477.0" x2="440.2" y2="465.4" stroke="#1f7f7f" stroke-opacity="0.11" stroke-width="0.72"/>
<line x1="479.7" y1="479.8" x2="413.9" y2="500.0" stroke="#1f7f7f" stroke-opacity="0.09" stroke-width="0.61"/>
<line x1="476.1" y1="483.2" x2="426.1" y2="514.1" stroke="#1f7f7f" stroke-opacity="0.17" stroke-width="0.64"/>
<line x1="490.3" y1="479.9" x2="536.3" y2="488.9" stroke="#1f7f7f" stroke-opacity="0.12" stroke-width="0.51"/>
<line x1="482.7" y1="475.0" x2="465.8" y2="410.3" stroke="#1f7f7f" stroke-opacity="0.14" stroke-width="0.55"/>
<line x1="473.9" y1="477.7" x2="414.1" y2="472.1" stroke="#1f7f7f" stroke-opacity="0.14" stroke-width="0.48"/>
<line x1="488.6" y1="475.9" x2="513.5" y2="462.3" stroke="#1f7f7f" stroke-opacity="0.16" stroke-width="0.53"/>
<line x1="482.3" y1="488.1" x2="474.1" y2="550.5" stroke="#1f7f7f" stroke-opacity="0.09" stroke-width="0.56"/>
<line x1="482.7" y1="483.3" x2="477.3" y2="509.5" stroke="#1f7f7f" stroke-opacity="0.18" stroke-width="0.43"/>
<line x1="484.1" y1="482.1" x2="488.0" y2="513.3" stroke="#1f7f7f" stroke-opacity="0.12" stroke-width="0.70"/>
<line x1="488.2" y1="471.2" x2="513.4" y2="430.5" stroke="#1f7f7f" stroke-opacity="0.05" stroke-width="0.51"/>
<line x1="488.3" y1="477.4" x2="511.2" y2="471.7" stroke="#1f7f7f" stroke-opacity="0.11" stroke-width="0.51"/>
<line x1="479.1" y1="477.3" x2="457.4" y2="470.8" stroke="#1f7f7f" stroke-opacity="0.17" stroke-width="0.46"/>
<line x1="491.8" y1="473.0" x2="511.7" y2="459.6" stroke="#1f7f7f" stroke-opacity="0.14" stroke-width="0.66"/>
<line x1="488.8" y1="485.1" x2="501.0" y2="500.2" stroke="#1f7f7f" stroke-opacity="0.08" stroke-width="0.48"/>
<line x1="485.1" y1="475.6" x2="513.9" y2="416.9" stroke="#1f7f7f" stroke-opacity="0.18" stroke-width="0.61"/>
<line x1="479.4" y1="482.5" x2="461.2" y2="499.0" stroke="#1f7f7f" stroke-opacity="0.18" stroke-width="0.51"/>
<line x1="486.2" y1="481.5" x2="505.5" y2="502.3" stroke="#1f7f7f" stroke-opacity="0.10" stroke-width="0.77"/>
<line x1="492.1" y1="483.1" x2="514.2" y2="494.7" stroke="#1f7f7f" stroke-opacity="0.18" stroke-width="0.79"/>
<line x1="483.8" y1="488.3" x2="484.7" y2="521.3" stroke="#1f7f7f" stroke-opacity="0.12" stroke-width="0.68"/>
<line x1="481.5" y1="483.6" x2="473.5" y2="502.6" stroke="#1f7f7f" stroke-opacity="0.15" stroke-width="0.71"/>
<line x1="477.5" y1="475.8" x2="439.8" y2="458.4" stroke="#1f7f7f" stroke-opacity="0.11" stroke-width="0.61"/>
<line x1="487.2" y1="472.4" x2="501.0" y2="448.2" stroke="#1f7f7f" stroke-opacity="0.17" stroke-width="0.74"/>
<line x1="487.4" y1="486.6" x2="515.0" y2="544.7" stroke="#1f7f7f" stroke-opacity="0.08" stroke-width="0.51"/>
<circle cx="483.6" cy="478.6" r="48" fill="url(#glowH1)"/>
<circle cx="483.6" cy="478.6" r="3.0" fill="#a0fff8" filter="url(#soft2)"/>
<g filter="url(#soft)">
<circle cx="457.8" cy="417.4" r="1.72" fill="#ff2b2b"/>
<circle cx="475.7" cy="424.9" r="1.72" fill="#ff2b2b"/>
<circle cx="509.8" cy="421.0" r="1.72" fill="#ff2b2b"/>
<circle cx="459.4" cy="429.3" r="1.72" fill="#ff2b2b"/>
<circle cx="451.4" cy="441.2" r="1.72" fill="#ff2b2b"/>
<circle cx="488.0" cy="437.9" r="1.72" fill="#ff2b2b"/>
<circle cx="479.6" cy="441.2" r="1.72" fill="#ff2b2b"/>
<circle cx="517.0" cy="438.4" r="2.07" fill="#ff2b2b"/>
<circle cx="523.3" cy="437.3" r="1.72" fill="#ff2b2b"/>
<circle cx="485.2" cy="445.2" r="1.72" fill="#ff2b2b"/>
<circle cx="440.9" cy="450.4" r="2.18" fill="#ff2b2b"/>
<circle cx="435.5" cy="455.1" r="1.72" fill="#ff2b2b"/>
<circle cx="470.1" cy="453.1" r="2.30" fill="#ff2b2b"/>
<circle cx="495.1" cy="454.7" r="2.18" fill="#ff2b2b"/>
<circle cx="514.8" cy="453.1" r="1.72" fill="#ff2b2b"/>
<circle cx="520.9" cy="449.2" r="2.07" fill="#ff2b2b"/>
<circle cx="531.7" cy="448.8" r="1.72" fill="#ff2b2b"/>
<circle cx="536.2" cy="453.1" r="2.30" fill="#ff2b2b"/>
<circle cx="441.5" cy="459.1" r="1.72" fill="#ff2b2b"/>
<circle cx="464.1" cy="459.1" r="2.07" fill="#ff2b2b"/>
<circle cx="484.6" cy="464.3" r="1.72" fill="#ff2b2b"/>
<circle cx="497.1" cy="464.7" r="1.72" fill="#ff2b2b"/>
<circle cx="534.2" cy="464.3" r="2.42" fill="#ff2b2b"/>
<circle cx="437.9" cy="472.2" r="1.72" fill="#ff2b2b"/>
<circle cx="479.2" cy="470.2" r="2.18" fill="#ff2b2b"/>
<circle cx="489.6" cy="474.2" r="3.79" fill="#ff5555"/>
<circle cx="477.2" cy="474.6" r="2.18" fill="#ff2b2b"/>
<circle cx="496.5" cy="476.2" r="2.07" fill="#ff2b2b"/>
<circle cx="510.4" cy="468.6" r="1.72" fill="#ff2b2b"/>
<circle cx="525.3" cy="476.6" r="2.30" fill="#ff2b2b"/>
<circle cx="490.5" cy="482.5" r="2.30" fill="#ff2b2b"/>
<circle cx="494.5" cy="480.2" r="1.72" fill="#ff2b2b"/>
<circle cx="519.3" cy="481.5" r="2.07" fill="#ff2b2b"/>
<circle cx="505.4" cy="483.5" r="2.07" fill="#ff2b2b"/>
<circle cx="478.0" cy="486.1" r="1.72" fill="#ff2b2b"/>
<circle cx="485.6" cy="487.5" r="1.84" fill="#ff2b2b"/>
<circle cx="476.6" cy="490.1" r="1.95" fill="#ff2b2b"/>
<circle cx="537.2" cy="488.5" r="1.72" fill="#ff2b2b"/>
<circle cx="485.2" cy="492.5" r="1.72" fill="#ff2b2b"/>
<circle cx="507.0" cy="494.1" r="2.30" fill="#ff2b2b"/>
<circle cx="432.0" cy="497.4" r="2.53" fill="#ff2b2b"/>
<circle cx="495.5" cy="498.0" r="1.72" fill="#ff2b2b"/>
<circle cx="485.6" cy="502.8" r="1.72" fill="#ff2b2b"/>
<circle cx="498.5" cy="506.8" r="1.72" fill="#ff2b2b"/>
<circle cx="476.6" cy="510.0" r="2.18" fill="#ff2b2b"/>
<circle cx="507.4" cy="513.3" r="2.18" fill="#ff2b2b"/>
<circle cx="489.6" cy="517.3" r="1.72" fill="#ff2b2b"/>
<circle cx="450.2" cy="520.7" r="1.72" fill="#ff2b2b"/>
<circle cx="473.5" cy="467.5" r="1.72" fill="#ff2b2b"/>
<circle cx="486.0" cy="468.5" r="1.49" fill="#ff2b2b"/>
<circle cx="482.0" cy="472.0" r="1.38" fill="#ff2b2b"/>
</g>
</g>
<g clip-path="url(#clipH2)">
<rect x="542" y="417" width="114.2" height="113.6" fill="#041414"/>
<line x1="601.1" y1="480.4" x2="603.2" y2="504.6" stroke="#1f7f7f" stroke-opacity="0.08" stroke-width="0.43"/>
<line x1="593.6" y1="479.6" x2="542.8" y2="515.7" stroke="#1f7f7f" stroke-opacity="0.17" stroke-width="0.49"/>
<line x1="596.5" y1="473.6" x2="562.8" y2="465.7" stroke="#1f7f7f" stroke-opacity="0.07" stroke-width="0.49"/>
<line x1="608.4" y1="470.8" x2="660.3" y2="445.4" stroke="#1f7f7f" stroke-opacity="0.17" stroke-width="0.48"/>
<line x1="597.6" y1="482.2" x2="579.9" y2="527.0" stroke="#1f7f7f" stroke-opacity="0.18" stroke-width="0.75"/>
<line x1="607.2" y1="478.6" x2="647.9" y2="503.3" stroke="#1f7f7f" stroke-opacity="0.13" stroke-width="0.47"/>
<line x1="591.2" y1="476.2" x2="571.5" y2="479.5" stroke="#1f7f7f" stroke-opacity="0.18" stroke-width="0.62"/>
<line x1="598.4" y1="481.3" x2="578.7" y2="541.6" stroke="#1f7f7f" stroke-opacity="0.18" stroke-width="0.74"/>
<line x1="593.4" y1="474.2" x2="555.0" y2="472.2" stroke="#1f7f7f" stroke-opacity="0.12" stroke-width="0.46"/>
<line x1="599.5" y1="477.7" x2="578.3" y2="536.3" stroke="#1f7f7f" stroke-opacity="0.07" stroke-width="0.65"/>
<line x1="599.4" y1="480.8" x2="590.8" y2="525.4" stroke="#1f7f7f" stroke-opacity="0.11" stroke-width="0.80"/>
<line x1="602.1" y1="478.8" x2="615.9" y2="517.6" stroke="#1f7f7f" stroke-opacity="0.15" stroke-width="0.51"/>
<line x1="597.4" y1="478.7" x2="562.1" y2="523.7" stroke="#1f7f7f" stroke-opacity="0.14" stroke-width="0.76"/>
<line x1="604.3" y1="477.3" x2="623.2" y2="491.2" stroke="#1f7f7f" stroke-opacity="0.17" stroke-width="0.65"/>
<line x1="600.9" y1="478.8" x2="603.9" y2="516.0" stroke="#1f7f7f" stroke-opacity="0.12" stroke-width="0.42"/>
<line x1="597.5" y1="465.4" x2="577.9" y2="408.6" stroke="#1f7f7f" stroke-opacity="0.16" stroke-width="0.78"/>
<line x1="610.3" y1="475.7" x2="639.8" y2="479.1" stroke="#1f7f7f" stroke-opacity="0.17" stroke-width="0.56"/>
<line x1="608.8" y1="471.6" x2="653.1" y2="455.1" stroke="#1f7f7f" stroke-opacity="0.10" stroke-width="0.48"/>
<line x1="595.3" y1="476.5" x2="570.7" y2="485.5" stroke="#1f7f7f" stroke-opacity="0.19" stroke-width="0.53"/>
<line x1="604.8" y1="474.8" x2="627.8" y2="476.2" stroke="#1f7f7f" stroke-opacity="0.17" stroke-width="0.55"/>
<line x1="598.1" y1="484.2" x2="593.1" y2="503.5" stroke="#1f7f7f" stroke-opacity="0.12" stroke-width="0.48"/>
<line x1="604.5" y1="476.1" x2="626.5" y2="484.7" stroke="#1f7f7f" stroke-opacity="0.15" stroke-width="0.46"/>
<line x1="605.2" y1="475.8" x2="648.5" y2="487.2" stroke="#1f7f7f" stroke-opacity="0.20" stroke-width="0.45"/>
<line x1="594.8" y1="473.5" x2="538.0" y2="463.0" stroke="#1f7f7f" stroke-opacity="0.20" stroke-width="0.59"/>
<line x1="600.8" y1="477.9" x2="602.9" y2="520.1" stroke="#1f7f7f" stroke-opacity="0.12" stroke-width="0.50"/>
<line x1="605.6" y1="470.4" x2="651.7" y2="432.0" stroke="#1f7f7f" stroke-opacity="0.06" stroke-width="0.50"/>
<line x1="600.8" y1="479.2" x2="602.3" y2="510.0" stroke="#1f7f7f" stroke-opacity="0.18" stroke-width="0.46"/>
<line x1="607.2" y1="476.8" x2="668.3" y2="497.2" stroke="#1f7f7f" stroke-opacity="0.20" stroke-width="0.56"/>
<line x1="607.5" y1="469.6" x2="647.5" y2="441.0" stroke="#1f7f7f" stroke-opacity="0.16" stroke-width="0.60"/>
<line x1="608.2" y1="479.6" x2="630.3" y2="494.2" stroke="#1f7f7f" stroke-opacity="0.19" stroke-width="0.77"/>
<line x1="596.2" y1="482.0" x2="570.7" y2="524.1" stroke="#1f7f7f" stroke-opacity="0.15" stroke-width="0.73"/>
<line x1="592.9" y1="473.2" x2="543.8" y2="464.5" stroke="#1f7f7f" stroke-opacity="0.10" stroke-width="0.77"/>
<line x1="610.0" y1="471.9" x2="628.2" y2="466.8" stroke="#1f7f7f" stroke-opacity="0.19" stroke-width="0.67"/>
<line x1="604.3" y1="475.7" x2="667.8" y2="493.9" stroke="#1f7f7f" stroke-opacity="0.20" stroke-width="0.67"/>
<line x1="607.5" y1="477.4" x2="631.6" y2="487.0" stroke="#1f7f7f" stroke-opacity="0.14" stroke-width="0.70"/>
<line x1="603.3" y1="473.3" x2="632.9" y2="458.8" stroke="#1f7f7f" stroke-opacity="0.19" stroke-width="0.41"/>
<line x1="606.8" y1="468.5" x2="622.6" y2="453.0" stroke="#1f7f7f" stroke-opacity="0.17" stroke-width="0.75"/>
<line x1="596.4" y1="473.2" x2="535.1" y2="453.0" stroke="#1f7f7f" stroke-opacity="0.15" stroke-width="0.53"/>
<line x1="605.5" y1="470.6" x2="650.1" y2="434.6" stroke="#1f7f7f" stroke-opacity="0.13" stroke-width="0.41"/>
<line x1="606.9" y1="476.0" x2="654.1" y2="486.3" stroke="#1f7f7f" stroke-opacity="0.18" stroke-width="0.64"/>
<line x1="606.0" y1="481.0" x2="628.3" y2="507.6" stroke="#1f7f7f" stroke-opacity="0.13" stroke-width="0.40"/>
<line x1="602.5" y1="471.5" x2="635.3" y2="418.0" stroke="#1f7f7f" stroke-opacity="0.14" stroke-width="0.55"/>
<line x1="601.7" y1="470.1" x2="610.0" y2="435.2" stroke="#1f7f7f" stroke-opacity="0.13" stroke-width="0.79"/>
<line x1="606.7" y1="478.7" x2="626.0" y2="491.9" stroke="#1f7f7f" stroke-opacity="0.18" stroke-width="0.60"/>
<line x1="592.9" y1="478.0" x2="538.5" y2="502.0" stroke="#1f7f7f" stroke-opacity="0.07" stroke-width="0.75"/>
<line x1="603.6" y1="482.9" x2="614.0" y2="512.4" stroke="#1f7f7f" stroke-opacity="0.12" stroke-width="0.72"/>
<line x1="602.7" y1="478.3" x2="634.7" y2="534.3" stroke="#1f7f7f" stroke-opacity="0.08" stroke-width="0.60"/>
<line x1="595.7" y1="482.5" x2="573.1" y2="518.8" stroke="#1f7f7f" stroke-opacity="0.16" stroke-width="0.40"/>
<line x1="598.2" y1="480.5" x2="580.8" y2="523.0" stroke="#1f7f7f" stroke-opacity="0.16" stroke-width="0.59"/>
<line x1="608.5" y1="478.7" x2="633.7" y2="491.7" stroke="#1f7f7f" stroke-opacity="0.11" stroke-width="0.71"/>
<line x1="608.3" y1="473.9" x2="656.7" y2="469.6" stroke="#1f7f7f" stroke-opacity="0.15" stroke-width="0.53"/>
<line x1="608.6" y1="469.7" x2="641.9" y2="449.4" stroke="#1f7f7f" stroke-opacity="0.10" stroke-width="0.75"/>
<line x1="602.0" y1="468.7" x2="613.4" y2="420.4" stroke="#1f7f7f" stroke-opacity="0.08" stroke-width="0.71"/>
<line x1="598.1" y1="477.6" x2="563.0" y2="518.9" stroke="#1f7f7f" stroke-opacity="0.07" stroke-width="0.46"/>
<line x1="604.0" y1="465.9" x2="612.9" y2="443.0" stroke="#1f7f7f" stroke-opacity="0.11" stroke-width="0.63"/>
<line x1="598.4" y1="477.6" x2="567.5" y2="519.8" stroke="#1f7f7f" stroke-opacity="0.12" stroke-width="0.77"/>
<line x1="602.9" y1="479.4" x2="625.3" y2="526.8" stroke="#1f7f7f" stroke-opacity="0.10" stroke-width="0.41"/>
<line x1="609.3" y1="475.7" x2="672.5" y2="483.7" stroke="#1f7f7f" stroke-opacity="0.17" stroke-width="0.72"/>
<line x1="607.4" y1="472.6" x2="632.1" y2="465.1" stroke="#1f7f7f" stroke-opacity="0.13" stroke-width="0.63"/>
<line x1="609.6" y1="470.9" x2="658.9" y2="450.6" stroke="#1f7f7f" stroke-opacity="0.08" stroke-width="0.66"/>
<line x1="597.3" y1="468.1" x2="572.5" y2="419.1" stroke="#1f7f7f" stroke-opacity="0.18" stroke-width="0.52"/>
<line x1="607.1" y1="471.4" x2="641.3" y2="454.8" stroke="#1f7f7f" stroke-opacity="0.19" stroke-width="0.68"/>
<line x1="598.7" y1="479.5" x2="587.2" y2="508.6" stroke="#1f7f7f" stroke-opacity="0.15" stroke-width="0.80"/>
<line x1="605.3" y1="471.2" x2="636.9" y2="447.9" stroke="#1f7f7f" stroke-opacity="0.17" stroke-width="0.51"/>
<line x1="597.0" y1="476.9" x2="578.8" y2="488.1" stroke="#1f7f7f" stroke-opacity="0.14" stroke-width="0.68"/>
<line x1="593.3" y1="468.2" x2="568.1" y2="446.1" stroke="#1f7f7f" stroke-opacity="0.15" stroke-width="0.46"/>
<line x1="609.6" y1="478.7" x2="667.7" y2="505.0" stroke="#1f7f7f" stroke-opacity="0.19" stroke-width="0.64"/>
<line x1="598.8" y1="479.0" x2="589.3" y2="501.9" stroke="#1f7f7f" stroke-opacity="0.09" stroke-width="0.77"/>
<line x1="603.8" y1="472.1" x2="650.5" y2="434.7" stroke="#1f7f7f" stroke-opacity="0.09" stroke-width="0.52"/>
<line x1="608.7" y1="471.9" x2="632.0" y2="463.9" stroke="#1f7f7f" stroke-opacity="0.16" stroke-width="0.62"/>
<line x1="607.1" y1="472.9" x2="637.5" y2="465.0" stroke="#1f7f7f" stroke-opacity="0.08" stroke-width="0.44"/>
<line x1="604.4" y1="475.4" x2="640.6" y2="482.7" stroke="#1f7f7f" stroke-opacity="0.07" stroke-width="0.80"/>
<line x1="598.7" y1="482.3" x2="583.7" y2="542.0" stroke="#1f7f7f" stroke-opacity="0.16" stroke-width="0.66"/>
<line x1="608.3" y1="472.2" x2="666.5" y2="454.4" stroke="#1f7f7f" stroke-opacity="0.14" stroke-width="0.68"/>
<line x1="599.5" y1="468.2" x2="591.9" y2="422.7" stroke="#1f7f7f" stroke-opacity="0.08" stroke-width="0.74"/>
<line x1="596.4" y1="475.0" x2="572.3" y2="477.4" stroke="#1f7f7f" stroke-opacity="0.18" stroke-width="0.50"/>
<line x1="593.6" y1="480.3" x2="554.7" y2="511.9" stroke="#1f7f7f" stroke-opacity="0.11" stroke-width="0.55"/>
<line x1="592.5" y1="478.8" x2="577.2" y2="486.9" stroke="#1f7f7f" stroke-opacity="0.06" stroke-width="0.78"/>
<line x1="605.7" y1="481.9" x2="619.5" y2="501.5" stroke="#1f7f7f" stroke-opacity="0.18" stroke-width="0.49"/>
<line x1="593.0" y1="472.0" x2="554.5" y2="458.5" stroke="#1f7f7f" stroke-opacity="0.09" stroke-width="0.73"/>
<line x1="610.0" y1="474.4" x2="660.9" y2="473.3" stroke="#1f7f7f" stroke-opacity="0.19" stroke-width="0.55"/>
<line x1="604.7" y1="468.8" x2="638.9" y2="420.0" stroke="#1f7f7f" stroke-opacity="0.08" stroke-width="0.65"/>
<line x1="607.0" y1="470.6" x2="634.8" y2="453.4" stroke="#1f7f7f" stroke-opacity="0.19" stroke-width="0.64"/>
<line x1="605.3" y1="475.7" x2="655.7" y2="487.7" stroke="#1f7f7f" stroke-opacity="0.18" stroke-width="0.66"/>
<line x1="598.0" y1="481.5" x2="576.0" y2="539.9" stroke="#1f7f7f" stroke-opacity="0.11" stroke-width="0.73"/>
<line x1="607.7" y1="468.8" x2="654.7" y2="430.7" stroke="#1f7f7f" stroke-opacity="0.15" stroke-width="0.68"/>
<line x1="592.8" y1="468.5" x2="560.0" y2="443.2" stroke="#1f7f7f" stroke-opacity="0.11" stroke-width="0.43"/>
<line x1="599.1" y1="468.0" x2="589.3" y2="426.0" stroke="#1f7f7f" stroke-opacity="0.14" stroke-width="0.50"/>
<line x1="603.2" y1="482.7" x2="609.3" y2="501.8" stroke="#1f7f7f" stroke-opacity="0.19" stroke-width="0.68"/>
<line x1="607.1" y1="480.5" x2="655.5" y2="524.1" stroke="#1f7f7f" stroke-opacity="0.13" stroke-width="0.40"/>
<line x1="604.7" y1="468.5" x2="631.8" y2="427.9" stroke="#1f7f7f" stroke-opacity="0.06" stroke-width="0.69"/>
<line x1="604.5" y1="475.5" x2="648.4" y2="485.1" stroke="#1f7f7f" stroke-opacity="0.11" stroke-width="0.76"/>
<line x1="600.5" y1="469.5" x2="599.9" y2="408.8" stroke="#1f7f7f" stroke-opacity="0.11" stroke-width="0.64"/>
<line x1="610.2" y1="476.7" x2="645.2" y2="484.3" stroke="#1f7f7f" stroke-opacity="0.17" stroke-width="0.75"/>
<line x1="598.0" y1="482.7" x2="582.6" y2="531.4" stroke="#1f7f7f" stroke-opacity="0.16" stroke-width="0.57"/>
<line x1="604.8" y1="482.8" x2="612.4" y2="497.7" stroke="#1f7f7f" stroke-opacity="0.19" stroke-width="0.51"/>
<line x1="600.9" y1="467.2" x2="602.2" y2="429.3" stroke="#1f7f7f" stroke-opacity="0.18" stroke-width="0.53"/>
<line x1="595.8" y1="470.1" x2="573.1" y2="448.7" stroke="#1f7f7f" stroke-opacity="0.06" stroke-width="0.51"/>
<line x1="599.7" y1="478.4" x2="584.2" y2="543.4" stroke="#1f7f7f" stroke-opacity="0.17" stroke-width="0.43"/>
<line x1="604.2" y1="474.3" x2="633.8" y2="471.7" stroke="#1f7f7f" stroke-opacity="0.09" stroke-width="0.77"/>
<line x1="597.4" y1="468.9" x2="566.6" y2="413.9" stroke="#1f7f7f" stroke-opacity="0.08" stroke-width="0.54"/>
<line x1="596.6" y1="475.7" x2="529.0" y2="495.1" stroke="#1f7f7f" stroke-opacity="0.09" stroke-width="0.74"/>
<line x1="604.4" y1="477.9" x2="656.1" y2="522.9" stroke="#1f7f7f" stroke-opacity="0.14" stroke-width="0.66"/>
<line x1="608.0" y1="469.7" x2="624.6" y2="458.7" stroke="#1f7f7f" stroke-opacity="0.09" stroke-width="0.69"/>
<line x1="604.8" y1="475.3" x2="663.0" y2="485.4" stroke="#1f7f7f" stroke-opacity="0.09" stroke-width="0.41"/>
<line x1="596.1" y1="483.4" x2="581.9" y2="511.6" stroke="#1f7f7f" stroke-opacity="0.14" stroke-width="0.55"/>
<line x1="605.1" y1="474.3" x2="634.1" y2="472.5" stroke="#1f7f7f" stroke-opacity="0.19" stroke-width="0.78"/>
<line x1="599.2" y1="471.5" x2="570.9" y2="406.9" stroke="#1f7f7f" stroke-opacity="0.19" stroke-width="0.68"/>
<line x1="598.8" y1="471.4" x2="567.5" y2="416.1" stroke="#1f7f7f" stroke-opacity="0.09" stroke-width="0.46"/>
<line x1="593.9" y1="475.5" x2="548.8" y2="481.6" stroke="#1f7f7f" stroke-opacity="0.11" stroke-width="0.70"/>
<line x1="602.3" y1="471.8" x2="633.8" y2="421.1" stroke="#1f7f7f" stroke-opacity="0.08" stroke-width="0.49"/>
<line x1="600.9" y1="478.9" x2="604.6" y2="528.1" stroke="#1f7f7f" stroke-opacity="0.15" stroke-width="0.54"/>
<line x1="594.3" y1="481.9" x2="561.0" y2="520.2" stroke="#1f7f7f" stroke-opacity="0.09" stroke-width="0.54"/>
<line x1="603.8" y1="474.2" x2="636.0" y2="470.5" stroke="#1f7f7f" stroke-opacity="0.09" stroke-width="0.73"/>
<line x1="599.8" y1="468.2" x2="592.2" y2="403.2" stroke="#1f7f7f" stroke-opacity="0.07" stroke-width="0.52"/>
<line x1="599.8" y1="470.7" x2="592.0" y2="430.8" stroke="#1f7f7f" stroke-opacity="0.11" stroke-width="0.59"/>
<line x1="598.2" y1="477.7" x2="571.4" y2="511.8" stroke="#1f7f7f" stroke-opacity="0.06" stroke-width="0.71"/>
<line x1="600.2" y1="470.8" x2="595.5" y2="429.0" stroke="#1f7f7f" stroke-opacity="0.10" stroke-width="0.62"/>
<line x1="608.3" y1="468.6" x2="639.3" y2="444.4" stroke="#1f7f7f" stroke-opacity="0.13" stroke-width="0.47"/>
<line x1="595.2" y1="469.8" x2="559.4" y2="438.2" stroke="#1f7f7f" stroke-opacity="0.16" stroke-width="0.41"/>
<line x1="596.9" y1="476.1" x2="540.6" y2="499.7" stroke="#1f7f7f" stroke-opacity="0.07" stroke-width="0.47"/>
<line x1="599.4" y1="479.7" x2="590.2" y2="520.2" stroke="#1f7f7f" stroke-opacity="0.15" stroke-width="0.47"/>
<line x1="596.8" y1="480.2" x2="567.4" y2="523.1" stroke="#1f7f7f" stroke-opacity="0.19" stroke-width="0.77"/>
<line x1="600.3" y1="481.4" x2="598.5" y2="516.3" stroke="#1f7f7f" stroke-opacity="0.14" stroke-width="0.55"/>
<line x1="604.7" y1="469.8" x2="623.3" y2="448.1" stroke="#1f7f7f" stroke-opacity="0.08" stroke-width="0.75"/>
<line x1="597.3" y1="472.3" x2="539.3" y2="432.5" stroke="#1f7f7f" stroke-opacity="0.16" stroke-width="0.64"/>
<line x1="609.2" y1="477.5" x2="663.2" y2="495.6" stroke="#1f7f7f" stroke-opacity="0.07" stroke-width="0.78"/>
<line x1="602.1" y1="468.0" x2="612.6" y2="420.7" stroke="#1f7f7f" stroke-opacity="0.10" stroke-width="0.42"/>
<line x1="596.2" y1="475.3" x2="533.1" y2="485.1" stroke="#1f7f7f" stroke-opacity="0.13" stroke-width="0.51"/>
<line x1="597.3" y1="466.0" x2="574.1" y2="406.6" stroke="#1f7f7f" stroke-opacity="0.10" stroke-width="0.57"/>
<line x1="609.6" y1="474.7" x2="652.1" y2="475.5" stroke="#1f7f7f" stroke-opacity="0.18" stroke-width="0.43"/>
<line x1="595.1" y1="477.0" x2="574.1" y2="486.4" stroke="#1f7f7f" stroke-opacity="0.19" stroke-width="0.51"/>
<line x1="605.5" y1="467.4" x2="641.8" y2="414.6" stroke="#1f7f7f" stroke-opacity="0.09" stroke-width="0.77"/>
<line x1="603.3" y1="473.2" x2="666.9" y2="439.7" stroke="#1f7f7f" stroke-opacity="0.06" stroke-width="0.52"/>
<line x1="597.0" y1="474.2" x2="554.7" y2="469.5" stroke="#1f7f7f" stroke-opacity="0.15" stroke-width="0.67"/>
<line x1="595.9" y1="469.6" x2="566.1" y2="437.7" stroke="#1f7f7f" stroke-opacity="0.16" stroke-width="0.43"/>
<line x1="597.2" y1="476.1" x2="571.3" y2="487.0" stroke="#1f7f7f" stroke-opacity="0.17" stroke-width="0.53"/>
<line x1="596.8" y1="480.6" x2="579.9" y2="507.5" stroke="#1f7f7f" stroke-opacity="0.08" stroke-width="0.66"/>
<line x1="604.3" y1="476.4" x2="666.4" y2="505.7" stroke="#1f7f7f" stroke-opacity="0.17" stroke-width="0.62"/>
<line x1="595.7" y1="477.1" x2="564.8" y2="492.9" stroke="#1f7f7f" stroke-opacity="0.17" stroke-width="0.61"/>
<line x1="593.4" y1="472.9" x2="564.2" y2="466.1" stroke="#1f7f7f" stroke-opacity="0.08" stroke-width="0.59"/>
<line x1="596.5" y1="468.8" x2="570.3" y2="432.1" stroke="#1f7f7f" stroke-opacity="0.14" stroke-width="0.48"/>
<line x1="608.4" y1="472.5" x2="657.7" y2="459.0" stroke="#1f7f7f" stroke-opacity="0.19" stroke-width="0.58"/>
<line x1="598.0" y1="479.1" x2="580.6" y2="509.5" stroke="#1f7f7f" stroke-opacity="0.10" stroke-width="0.53"/>
<line x1="601.9" y1="479.5" x2="613.1" y2="522.2" stroke="#1f7f7f" stroke-opacity="0.11" stroke-width="0.67"/>
<line x1="597.2" y1="482.5" x2="573.4" y2="537.1" stroke="#1f7f7f" stroke-opacity="0.11" stroke-width="0.73"/>
<line x1="605.0" y1="483.5" x2="613.9" y2="501.3" stroke="#1f7f7f" stroke-opacity="0.06" stroke-width="0.40"/>
<line x1="605.7" y1="469.0" x2="617.5" y2="456.0" stroke="#1f7f7f" stroke-opacity="0.14" stroke-width="0.49"/>
<line x1="600.8" y1="480.4" x2="602.7" y2="547.9" stroke="#1f7f7f" stroke-opacity="0.09" stroke-width="0.58"/>
<line x1="600.2" y1="471.0" x2="596.2" y2="435.3" stroke="#1f7f7f" stroke-opacity="0.17" stroke-width="0.44"/>
<line x1="610.0" y1="478.0" x2="624.3" y2="483.2" stroke="#1f7f7f" stroke-opacity="0.12" stroke-width="0.69"/>
<line x1="595.5" y1="472.7" x2="531.7" y2="448.4" stroke="#1f7f7f" stroke-opacity="0.11" stroke-width="0.67"/>
<line x1="608.9" y1="474.6" x2="643.8" y2="474.8" stroke="#1f7f7f" stroke-opacity="0.14" stroke-width="0.60"/>
<line x1="608.1" y1="471.5" x2="643.6" y2="456.6" stroke="#1f7f7f" stroke-opacity="0.11" stroke-width="0.43"/>
<line x1="598.2" y1="476.7" x2="573.6" y2="497.7" stroke="#1f7f7f" stroke-opacity="0.10" stroke-width="0.45"/>
<line x1="592.6" y1="476.8" x2="541.0" y2="491.3" stroke="#1f7f7f" stroke-opacity="0.18" stroke-width="0.53"/>
<line x1="597.8" y1="469.6" x2="567.0" y2="413.8" stroke="#1f7f7f" stroke-opacity="0.19" stroke-width="0.44"/>
<line x1="609.3" y1="469.9" x2="661.3" y2="441.6" stroke="#1f7f7f" stroke-opacity="0.18" stroke-width="0.68"/>
<line x1="592.2" y1="478.2" x2="544.7" y2="498.7" stroke="#1f7f7f" stroke-opacity="0.14" stroke-width="0.65"/>
<line x1="605.4" y1="472.2" x2="635.5" y2="456.6" stroke="#1f7f7f" stroke-opacity="0.06" stroke-width="0.75"/>
<line x1="597.4" y1="471.2" x2="560.3" y2="432.0" stroke="#1f7f7f" stroke-opacity="0.09" stroke-width="0.59"/>
<line x1="604.9" y1="470.4" x2="631.2" y2="444.8" stroke="#1f7f7f" stroke-opacity="0.12" stroke-width="0.74"/>
<line x1="602.8" y1="476.8" x2="649.2" y2="522.6" stroke="#1f7f7f" stroke-opacity="0.16" stroke-width="0.71"/>
<line x1="595.7" y1="475.5" x2="539.6" y2="486.4" stroke="#1f7f7f" stroke-opacity="0.08" stroke-width="0.54"/>
<line x1="599.9" y1="481.5" x2="594.8" y2="535.2" stroke="#1f7f7f" stroke-opacity="0.15" stroke-width="0.79"/>
<line x1="602.0" y1="464.9" x2="610.0" y2="410.7" stroke="#1f7f7f" stroke-opacity="0.19" stroke-width="0.70"/>
<line x1="595.8" y1="481.4" x2="571.5" y2="515.8" stroke="#1f7f7f" stroke-opacity="0.17" stroke-width="0.76"/>
<line x1="600.4" y1="469.8" x2="597.8" y2="416.2" stroke="#1f7f7f" stroke-opacity="0.15" stroke-width="0.47"/>
<line x1="598.7" y1="472.1" x2="580.2" y2="447.6" stroke="#1f7f7f" stroke-opacity="0.19" stroke-width="0.75"/>
<line x1="597.7" y1="482.8" x2="591.4" y2="500.2" stroke="#1f7f7f" stroke-opacity="0.17" stroke-width="0.46"/>
<line x1="603.5" y1="468.2" x2="628.0" y2="413.5" stroke="#1f7f7f" stroke-opacity="0.10" stroke-width="0.42"/>
<line x1="608.0" y1="477.7" x2="644.0" y2="492.9" stroke="#1f7f7f" stroke-opacity="0.15" stroke-width="0.49"/>
<line x1="602.8" y1="467.6" x2="609.0" y2="447.7" stroke="#1f7f7f" stroke-opacity="0.08" stroke-width="0.40"/>
<line x1="602.2" y1="478.9" x2="623.1" y2="535.4" stroke="#1f7f7f" stroke-opacity="0.06" stroke-width="0.59"/>
<line x1="596.5" y1="480.3" x2="569.3" y2="518.2" stroke="#1f7f7f" stroke-opacity="0.16" stroke-width="0.77"/>
<line x1="598.6" y1="477.9" x2="570.7" y2="522.8" stroke="#1f7f7f" stroke-opacity="0.10" stroke-width="0.44"/>
<line x1="605.8" y1="468.5" x2="627.7" y2="442.7" stroke="#1f7f7f" stroke-opacity="0.18" stroke-width="0.55"/>
<line x1="602.3" y1="480.8" x2="610.6" y2="510.6" stroke="#1f7f7f" stroke-opacity="0.11" stroke-width="0.43"/>
<line x1="606.0" y1="467.3" x2="634.2" y2="428.6" stroke="#1f7f7f" stroke-opacity="0.18" stroke-width="0.69"/>
<line x1="603.3" y1="469.2" x2="627.6" y2="420.8" stroke="#1f7f7f" stroke-opacity="0.17" stroke-width="0.77"/>
<line x1="603.9" y1="477.2" x2="625.7" y2="494.7" stroke="#1f7f7f" stroke-opacity="0.12" stroke-width="0.75"/>
<line x1="595.1" y1="473.7" x2="533.8" y2="463.3" stroke="#1f7f7f" stroke-opacity="0.14" stroke-width="0.50"/>
<line x1="598.7" y1="472.2" x2="576.1" y2="444.9" stroke="#1f7f7f" stroke-opacity="0.12" stroke-width="0.63"/>
<line x1="607.6" y1="468.2" x2="629.5" y2="447.9" stroke="#1f7f7f" stroke-opacity="0.17" stroke-width="0.46"/>
<line x1="602.3" y1="465.0" x2="613.5" y2="404.0" stroke="#1f7f7f" stroke-opacity="0.16" stroke-width="0.56"/>
<line x1="593.6" y1="472.6" x2="545.2" y2="459.0" stroke="#1f7f7f" stroke-opacity="0.09" stroke-width="0.75"/>
<line x1="595.6" y1="473.3" x2="573.0" y2="467.4" stroke="#1f7f7f" stroke-opacity="0.07" stroke-width="0.58"/>
<line x1="604.7" y1="477.4" x2="643.4" y2="503.3" stroke="#1f7f7f" stroke-opacity="0.18" stroke-width="0.71"/>
<line x1="603.3" y1="481.1" x2="625.6" y2="535.2" stroke="#1f7f7f" stroke-opacity="0.10" stroke-width="0.76"/>
<line x1="607.8" y1="474.9" x2="645.5" y2="476.4" stroke="#1f7f7f" stroke-opacity="0.08" stroke-width="0.60"/>
<line x1="606.5" y1="469.3" x2="632.1" y2="446.6" stroke="#1f7f7f" stroke-opacity="0.09" stroke-width="0.79"/>
<line x1="608.7" y1="472.7" x2="633.0" y2="467.2" stroke="#1f7f7f" stroke-opacity="0.11" stroke-width="0.41"/>
<line x1="602.1" y1="480.7" x2="615.5" y2="534.2" stroke="#1f7f7f" stroke-opacity="0.13" stroke-width="0.45"/>
<line x1="603.7" y1="480.4" x2="621.0" y2="512.7" stroke="#1f7f7f" stroke-opacity="0.17" stroke-width="0.58"/>
<line x1="596.9" y1="481.5" x2="567.4" y2="537.0" stroke="#1f7f7f" stroke-opacity="0.17" stroke-width="0.72"/>
<line x1="596.8" y1="475.0" x2="562.8" y2="478.3" stroke="#1f7f7f" stroke-opacity="0.15" stroke-width="0.70"/>
<line x1="605.9" y1="470.8" x2="658.6" y2="433.7" stroke="#1f7f7f" stroke-opacity="0.13" stroke-width="0.79"/>
<line x1="606.5" y1="478.1" x2="638.1" y2="497.0" stroke="#1f7f7f" stroke-opacity="0.14" stroke-width="0.64"/>
<line x1="602.9" y1="478.1" x2="628.0" y2="516.9" stroke="#1f7f7f" stroke-opacity="0.11" stroke-width="0.47"/>
<line x1="598.1" y1="479.8" x2="576.7" y2="525.6" stroke="#1f7f7f" stroke-opacity="0.08" stroke-width="0.59"/>
<line x1="598.2" y1="470.3" x2="581.3" y2="439.5" stroke="#1f7f7f" stroke-opacity="0.12" stroke-width="0.68"/>
<line x1="603.9" y1="475.4" x2="657.7" y2="487.9" stroke="#1f7f7f" stroke-opacity="0.18" stroke-width="0.48"/>
<line x1="603.5" y1="468.8" x2="612.6" y2="450.8" stroke="#1f7f7f" stroke-opacity="0.10" stroke-width="0.71"/>
<line x1="601.0" y1="471.3" x2="604.7" y2="443.5" stroke="#1f7f7f" stroke-opacity="0.16" stroke-width="0.57"/>
<line x1="596.7" y1="478.6" x2="571.0" y2="505.0" stroke="#1f7f7f" stroke-opacity="0.14" stroke-width="0.56"/>
<line x1="607.4" y1="481.8" x2="634.1" y2="509.8" stroke="#1f7f7f" stroke-opacity="0.17" stroke-width="0.69"/>
<line x1="605.6" y1="472.2" x2="643.0" y2="453.9" stroke="#1f7f7f" stroke-opacity="0.17" stroke-width="0.44"/>
<line x1="601.4" y1="467.3" x2="604.0" y2="442.4" stroke="#1f7f7f" stroke-opacity="0.13" stroke-width="0.71"/>
<line x1="608.7" y1="478.0" x2="654.7" y2="497.1" stroke="#1f7f7f" stroke-opacity="0.07" stroke-width="0.67"/>
<line x1="598.8" y1="484.3" x2="589.0" y2="535.7" stroke="#1f7f7f" stroke-opacity="0.06" stroke-width="0.56"/>
<line x1="591.1" y1="474.6" x2="526.5" y2="474.9" stroke="#1f7f7f" stroke-opacity="0.06" stroke-width="0.45"/>
<line x1="593.5" y1="479.3" x2="546.1" y2="510.3" stroke="#1f7f7f" stroke-opacity="0.14" stroke-width="0.77"/>
<line x1="603.8" y1="467.9" x2="630.0" y2="412.3" stroke="#1f7f7f" stroke-opacity="0.10" stroke-width="0.69"/>
<line x1="599.7" y1="470.5" x2="585.6" y2="404.8" stroke="#1f7f7f" stroke-opacity="0.06" stroke-width="0.54"/>
<line x1="600.5" y1="478.0" x2="599.0" y2="518.9" stroke="#1f7f7f" stroke-opacity="0.15" stroke-width="0.57"/>
<line x1="599.9" y1="481.6" x2="597.8" y2="504.5" stroke="#1f7f7f" stroke-opacity="0.07" stroke-width="0.74"/>
<line x1="599.9" y1="478.4" x2="588.8" y2="543.5" stroke="#1f7f7f" stroke-opacity="0.11" stroke-width="0.71"/>
<line x1="591.5" y1="473.4" x2="553.6" y2="468.2" stroke="#1f7f7f" stroke-opacity="0.08" stroke-width="0.74"/>
<line x1="595.2" y1="474.1" x2="561.5" y2="471.0" stroke="#1f7f7f" stroke-opacity="0.10" stroke-width="0.65"/>
<line x1="593.6" y1="477.3" x2="553.2" y2="493.1" stroke="#1f7f7f" stroke-opacity="0.18" stroke-width="0.68"/>
<circle cx="600.6" cy="474.6" r="52" fill="url(#glowH2)"/>
<g filter="url(#soft)">
<circle cx="578.7" cy="418.0" r="1.35" fill="#ff2b2b"/>
<circle cx="610.1" cy="426.5" r="1.17" fill="#ff2b2b"/>
<circle cx="596.2" cy="435.9" r="1.53" fill="#ff2b2b"/>
<circle cx="626.0" cy="435.3" r="1.35" fill="#ff2b2b"/>
<circle cx="634.4" cy="436.5" r="1.44" fill="#ff2b2b"/>
<circle cx="625.4" cy="437.9" r="1.26" fill="#ff2b2b"/>
<circle cx="561.9" cy="442.8" r="1.17" fill="#ff2b2b"/>
<circle cx="630.8" cy="444.4" r="1.26" fill="#ff2b2b"/>
<circle cx="622.0" cy="445.8" r="1.17" fill="#ff2b2b"/>
<circle cx="651.8" cy="445.2" r="1.44" fill="#ff2b2b"/>
<circle cx="572.4" cy="450.4" r="1.44" fill="#ff2b2b"/>
<circle cx="593.0" cy="453.2" r="1.53" fill="#ff2b2b"/>
<circle cx="603.6" cy="452.8" r="1.53" fill="#ff2b2b"/>
<circle cx="622.4" cy="453.8" r="1.71" fill="#ff2b2b"/>
<circle cx="628.4" cy="458.3" r="1.08" fill="#ff2b2b"/>
<circle cx="650.3" cy="459.7" r="1.08" fill="#ff2b2b"/>
<circle cx="591.7" cy="461.1" r="1.62" fill="#ff2b2b"/>
<circle cx="561.9" cy="460.3" r="1.08" fill="#ff2b2b"/>
<circle cx="583.1" cy="468.3" r="1.44" fill="#ff2b2b"/>
<circle cx="608.1" cy="467.1" r="1.44" fill="#ff2b2b"/>
<circle cx="639.3" cy="467.1" r="1.71" fill="#ff2b2b"/>
<circle cx="617.5" cy="469.0" r="1.17" fill="#ff2b2b"/>
<circle cx="654.2" cy="464.7" r="1.17" fill="#ff2b2b"/>
<circle cx="562.5" cy="475.6" r="1.44" fill="#ff2b2b"/>
<circle cx="570.4" cy="476.2" r="1.08" fill="#ff2b2b"/>
<circle cx="613.5" cy="479.0" r="1.35" fill="#ff2b2b"/>
<circle cx="618.5" cy="484.9" r="2.70" fill="#ff4444"/>
<circle cx="622.4" cy="486.1" r="1.62" fill="#ff2b2b"/>
<circle cx="559.9" cy="487.5" r="1.35" fill="#ff2b2b"/>
<circle cx="571.2" cy="488.5" r="1.35" fill="#ff2b2b"/>
<circle cx="549.0" cy="488.9" r="1.17" fill="#ff2b2b"/>
<circle cx="654.6" cy="488.9" r="1.17" fill="#ff2b2b"/>
<circle cx="604.6" cy="497.5" r="1.17" fill="#ff2b2b"/>
<circle cx="643.9" cy="500.8" r="1.17" fill="#ff2b2b"/>
<circle cx="591.7" cy="504.4" r="1.44" fill="#ff2b2b"/>
<circle cx="643.3" cy="506.4" r="1.17" fill="#ff2b2b"/>
<circle cx="632.8" cy="509.4" r="1.89" fill="#ff2b2b"/>
<circle cx="545.8" cy="508.8" r="1.17" fill="#ff2b2b"/>
<circle cx="605.0" cy="511.4" r="1.17" fill="#ff2b2b"/>
<circle cx="581.7" cy="514.3" r="1.62" fill="#ff2b2b"/>
<circle cx="601.6" cy="514.7" r="1.17" fill="#ff2b2b"/>
<circle cx="612.1" cy="515.3" r="1.44" fill="#ff2b2b"/>
<circle cx="550.5" cy="516.7" r="1.17" fill="#ff2b2b"/>
<circle cx="632.8" cy="519.9" r="1.17" fill="#ff2b2b"/>
<circle cx="622.4" cy="524.7" r="1.17" fill="#ff2b2b"/>
<circle cx="571.8" cy="529.8" r="1.17" fill="#ff2b2b"/>
</g>
</g>
<rect x="540.7" y="417" width="1.3" height="113.6" fill="#d0d0d0"/>
<text x="429.20" y="425.60" font-size="8.5" font-weight="bold" fill="#47a9dc" textLength="14.3" lengthAdjust="spacingAndGlyphs">Tau</text>
<text x="429.20" y="433.20" font-size="8.5" font-weight="bold" fill="#ff2a2a" textLength="25" lengthAdjust="spacingAndGlyphs">Beads</text>
<text x="429.00" y="528.20" font-size="7.8" font-weight="bold" fill="#fff" textLength="22.8" lengthAdjust="spacingAndGlyphs">30 min</text>
<text x="520.90" y="520.70" font-size="6.2" font-weight="bold" fill="#fff" textLength="17.4" lengthAdjust="spacingAndGlyphs">20 µm</text>
<rect x="520.9" y="524.9" width="17.9" height="4.2" fill="#fff"/>
<text x="544.90" y="425.60" font-size="8.5" font-weight="bold" fill="#47a9dc" textLength="14.3" lengthAdjust="spacingAndGlyphs">Tau</text>
<text x="544.90" y="433.20" font-size="8.5" font-weight="bold" fill="#ff2a2a" textLength="25" lengthAdjust="spacingAndGlyphs">Beads</text>
<text x="544.70" y="528.20" font-size="7.8" font-weight="bold" fill="#fff" textLength="22.8" lengthAdjust="spacingAndGlyphs">30 min</text>
<text x="636.60" y="520.70" font-size="6.2" font-weight="bold" fill="#fff" textLength="17.4" lengthAdjust="spacingAndGlyphs">20 µm</text>
<rect x="636.6" y="524.9" width="17.9" height="4.2" fill="#fff"/>
<text x="483.50" y="545.60" font-size="8.6" text-anchor="middle" textLength="61.1" lengthAdjust="spacingAndGlyphs">1.0 µm HDAC6</text>
<text x="599.10" y="545.60" font-size="8.6" text-anchor="middle" textLength="61.1" lengthAdjust="spacingAndGlyphs">0.5 µm HDAC6</text>
</svg>
</body></html>
